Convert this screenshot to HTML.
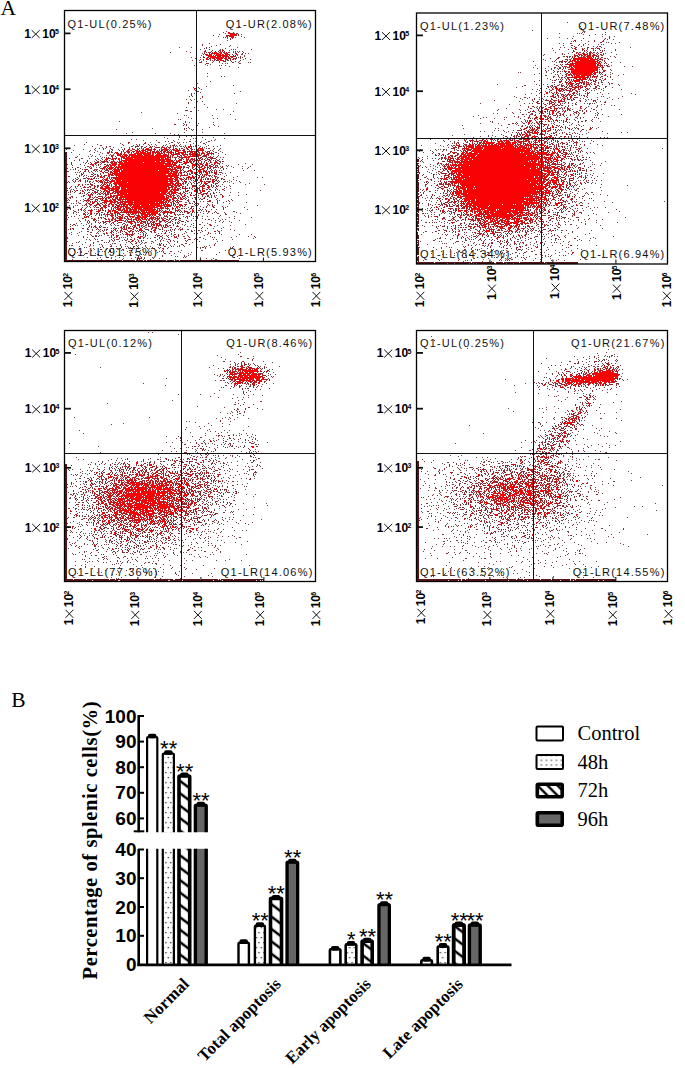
<!DOCTYPE html><html><head><meta charset="utf-8"><style>html,body{margin:0;padding:0;background:#fff;}svg{display:block;}</style></head><body><svg width="685" height="1068" viewBox="0 0 685 1068"><text x="0.6" y="14.7" font-family='"Liberation Serif", serif' font-size="21.5">A</text><text x="11.2" y="707.4" font-family='"Liberation Serif", serif' font-size="21.5">B</text><path d="M567 22h1m-329 4h1m340 0h1m0 2h1m-50 2h1m-307 1h1m-4 1h1m358 0h1m1 0h1m20 0h1m-381 1h1m333 0h1m17 0h1m1 0h1m1 0h1m-363 1h1m21 0h1m341 0h1m11 0h1m6 0h1m2 0h1m-393 1h1m375 0h1m-372 1h1m22 0h1m331 0h1m28 0h1m11 0h1m-392 1h1m1 0h1m9 0h1m8 0h1m314 0h1m-333 1h1m319 0h1m19 0h1m4 0h1m10 0h1m25 0h1m-3 1h1m5 0h1m-387 1h1m353 0h1m-11 1h1m1 0h1m14 0h1m17 1h1m1 0h1m10 0h1m-411 1h1m349 0h1m3 0h1m21 0h1m25 0h1m3 0h1m-396 1h1m367 0h1m9 0h1m2 0h1m1 0h1m-388 1h1m13 0h1m332 0h1m7 0h2m-362 1h1m17 0h1m351 0h1m11 0h1m5 0h1m-421 1h1m11 0h1m14 0h1m2 0h1m27 0h1m322 0h1m3 0h1m6 0h1m4 0h1m10 0h2m41 0h1m-427 1h1m1 0h1m18 0h1m326 0h1m19 0h1m11 0h1m6 0h1m3 0h1m8 0h1m-405 1h1m8 0h1m10 0h1m10 0h1m1 0h1m1 0h1m15 0h1m307 0h1m8 0h1m7 0h1m38 0h1m-404 1h1m16 0h1m323 0h1m28 0h1m12 0h1m4 0h1m3 0h1m10 0h1m-430 1h1m24 0h1m21 0h1m1 0h1m1 0h1m1 0h1m2 0h1m331 0h1m15 0h1m-421 1h1m19 0h1m15 0h1m26 0h1m4 0h1m316 0h1m16 0h1m7 0h1m13 0h1m16 0h1m-410 1h1m42 0h1m2 0h1m313 0h1m5 0h1m29 0h1m4 0h1m1 0h1m-403 1h1m37 0h2m301 0h1m17 0h1m1 0h1m51 0h1m-416 1h1m42 0h1m298 0h1m-300 1h1m318 0h2m5 0h1m39 0h1m-420 1h1m4 0h1m3 0h1m3 0h1m31 0h1m1 0h1m3 0h1m359 0h1m-408 1h1m44 0h1m4 0h1m304 0h1m56 0h1m-408 1h1m2 0h1m39 0h1m6 0h1m292 0h1m25 0h1m38 0h1m-417 1h1m6 0h1m3 0h1m6 0h1m17 0h1m11 0h1m304 0h1m56 0h1m-402 1h1m4 0h1m28 0h1m3 0h1m293 0h1m18 0h1m6 0h1m-361 1h1m12 0h1m6 0h1m28 0h1m1 0h1m305 0h1m2 0h1m1 0h2m2 0h1m45 0h1m8 0h1m-413 1h1m13 0h1m2 0h1m1 0h1m12 0h1m-36 1h1m4 0h1m330 0h1m12 0h1m7 0h1m2 0h1m42 0h1m-415 1h1m12 0h1m11 0h1m1 0h1m3 0h1m309 0h1m68 0h1m6 0h1m-383 1h1m318 0h1m75 0h1m7 0h1m-395 1h1m294 0h1m26 0h1m-341 1h1m316 0h1m7 0h1m8 0h1m2 0h1m2 0h1m4 0h1m33 1h1m10 0h1m-70 1h1m3 0h1m2 0h1m4 0h1m57 0h1m-66 1h1m7 0h1m2 0h2m1 0h1m1 0h1m36 0h1m-82 1h1m1 0h1m25 0h1m6 0h1m3 0h1m52 0h1m-404 1h1m331 0h1m11 0h1m8 0h1m51 0h1m-79 1h1m20 0h1m1 0h1m7 0h1m34 0h1m1 0h1m7 0h1m12 0h1m-79 1h2m11 0h1m3 0h1m34 0h1m20 0h1m-412 1h1m13 0h1m2 0h1m329 0h1m47 0h1m4 0h1m-47 1h2m-16 1h1m54 0h1m-53 1h1m5 0h1m1 0h1m3 0h1m8 0h1m20 0h1m6 0h2m11 0h1m-74 1h1m12 0h1m13 0h1m21 0h1m14 0h1m-394 1h1m323 0h1m30 0h1m-14 1h1m1 0h1m4 0h1m41 0h2m-406 1h1m364 0h1m48 0h2m-116 1h1m38 0h1m6 0h1m3 0h1m6 0h1m29 0h1m6 0h1m10 0h1m6 0h1m-414 1h1m36 0h1m305 0h1m11 0h2m44 0h2m-393 1h1m315 0h1m24 0h1m13 0h2m27 0h1m8 0h1m6 0h1m-414 1h1m4 0h1m317 0h1m95 0h1m-414 1h1m340 0h1m5 0h1m46 0h1m9 0h1m-403 1h1m330 0h1m4 0h1m11 0h1m46 0h1m4 0h1m19 0h1m-434 1h1m350 0h1m1 0h1m41 0h1m7 0h1m2 0h1m8 0h1m-407 1h2m41 0h1m295 0h1m8 0h1m3 0h1m29 0h1m5 0h1m-386 1h1m339 0h1m8 0h1m4 0h1m9 0h1m35 0h1m-410 1h1m2 0h1m39 0h1m296 0h1m7 0h1m20 0h1m18 0h1m5 0h1m11 0h1m10 0h1m22 0h1m-107 1h1m18 0h1m10 0h1m46 0h1m32 0h1m-100 1h1m44 0h1m1 0h2m-396 1h1m2 0h1m321 0h1m29 0h1m2 0h1m36 0h1m16 0h1m1 0h1m18 0h1m-107 1h1m12 0h1m9 0h1m20 0h1m36 0h1m11 0h1m-410 1h1m319 0h1m6 0h1m28 0h1m23 0h1m2 0h1m23 0h1m10 0h1m-433 1h1m3 0h1m3 0h1m327 0h1m9 0h1m6 0h1m6 0h1m5 0h1m21 0h1m10 0h1m2 0h1m2 0h1m5 0h1m14 0h1m-422 1h1m302 0h1m50 0h1m25 0h2m6 0h1m6 0h1m-390 1h1m4 0h1m316 0h1m18 0h1m3 0h1m42 0h1m14 0h1m4 0h1m-30 1h1m19 0h1m-361 1h1m243 0h1m43 0h1m4 0h1m2 0h1m10 0h1m3 0h1m14 0h1m9 0h1m2 0h1m8 0h1m2 0h1m1 0h2m1 0h1m1 0h1m-391 1h1m304 0h1m39 0h1m25 0h2m12 0h1m11 0h1m2 0h1m-85 1h1m25 0h1m15 0h1m5 0h1m3 0h1m24 0h1m13 0h1m2 0h1m-70 1h1m22 0h1m19 0h1m-403 1h1m7 0h1m12 0h1m326 0h1m23 0h1m2 0h1m5 0h1m18 0h1m-81 1h1m35 0h1m16 0h2m9 0h1m20 0h1m-376 1h1m6 0h1m274 0h1m20 0h1m7 0h1m13 0h1m30 0h1m20 0h2m6 0h1m17 0h1m-435 1h1m12 0h1m298 0h1m22 0h1m4 0h1m41 0h1m2 0h1m8 0h2m15 0h1m-364 1h1m296 0h1m42 0h1m16 0h1m-450 1h1m378 0h1m14 0h1m4 0h1m4 0h1m51 0h1m-421 1h1m315 0h1m3 0h1m33 0h2m6 0h1m7 0h1m25 0h1m9 0h1m11 0h1m2 0h1m-369 1h1m295 0h1m5 0h1m17 0h1m23 0h1m27 0h1m18 0h1m-438 1h1m1 0h1m25 0h1m265 0h1m64 0h1m15 0h1m6 0h1m28 0h1m-123 1h1m40 0h1m9 0h1m39 0h1m43 0h1m-421 1h1m294 0h1m2 0h1m17 0h1m1 0h1m52 0h1m7 0h1m7 0h1m4 0h1m2 0h1m10 0h1m1 0h1m-406 1h1m21 0h1m3 0h1m262 0h1m13 0h1m25 0h1m7 0h1m1 0h1m1 0h1m6 0h1m37 0h1m2 0h1m17 0h1m-421 1h1m1 0h1m54 0h1m268 0h1m19 0h1m31 0h1m12 0h1m4 0h1m17 0h1m-38 1h1m3 0h1m1 0h1m13 0h1m10 0h1m4 0h1m-473 1h1m65 0h1m304 0h1m1 0h1m28 0h1m20 0h1m2 0h1m5 0h1m13 0h1m12 0h1m2 0h2m9 0h1m7 0h1m-416 1h1m3 0h1m23 0h1m278 0h1m33 0h1m5 0h1m21 0h1m4 0h1m3 0h1m3 0h1m1 0h1m8 0h1m-396 1h1m14 0h1m281 0h1m17 0h1m16 0h1m8 0h1m6 0h1m2 0h1m5 0h1m1 0h1m8 0h1m1 0h1m18 0h1m-389 1h1m28 0h1m302 0h1m29 0h1m7 0h1m8 0h1m7 0h1m-389 1h1m13 0h1m16 0h1m247 0h1m38 0h1m16 0h1m3 0h1m2 0h1m4 0h1m1 0h1m1 0h1m24 0h1m9 0h1m6 0h1m6 0h1m-366 1h1m302 0h2m20 0h1m14 0h1m22 0h1m-394 1h1m20 0h1m297 0h1m42 0h1m4 0h2m5 0h1m4 0h1m6 0h1m1 0h1m13 0h1m1 0h1m5 0h1m-447 1h1m33 0h1m2 0h1m273 0h1m31 0h1m2 0h1m46 0h1m19 0h1m6 0h1m2 0h1m1 0h1m18 0h1m-481 1h1m74 0h1m1 0h1m8 0h1m320 0h1m17 0h1m11 0h1m1 0h1m2 0h1m1 0h1m10 0h1m17 0h1m-404 1h1m5 0h1m301 0h1m3 0h1m4 0h1m9 0h1m3 0h1m37 0h1m3 0h1m1 0h1m11 0h1m12 0h1m-107 1h1m3 0h1m19 0h1m3 0h1m15 0h1m77 0h1m-471 1h1m51 0h1m17 0h1m289 0h1m13 0h1m5 0h1m51 0h1m4 0h1m18 0h1m32 0h1m5 0h1m-502 1h1m28 0h1m14 0h1m53 0h1m322 0h1m11 0h1m6 0h1m5 0h1m4 0h1m8 0h1m20 0h1m-434 1h1m3 0h1m285 0h1m36 0h1m37 0h2m8 0h1m19 0h1m9 0h1m2 0h1m-473 1h1m24 0h1m26 0h1m7 0h1m14 0h1m8 0h1m8 0h1m248 0h1m35 0h1m3 0h1m10 0h1m10 0h1m39 0h1m-369 1h1m4 0h1m288 0h1m7 0h1m6 0h1m9 0h1m7 0h1m27 0h1m32 0h1m1 0h1m-413 1h1m37 0h1m10 0h1m259 0h1m17 0h1m11 0h1m6 0h1m31 0h1m12 0h1m31 0h1m12 0h1m3 0h1m2 0h1m-441 1h1m25 0h1m1 0h1m28 0h1m243 0h1m12 0h1m20 0h1m39 0h1m12 0h1m7 0h1m3 0h1m1 0h1m8 0h1m-448 1h1m4 0h1m41 0h1m5 0h1m5 0h1m14 0h1m9 0h1m214 0h1m17 0h1m15 0h1m1 0h1m9 0h1m17 0h1m2 0h2m45 0h1m16 0h1m15 0h1m-435 1h1m12 0h1m16 0h1m37 0h1m2 0h1m228 0h1m14 0h1m34 0h1m1 0h1m83 0h1m11 0h1m-427 1h1m2 0h1m5 0h1m14 0h2m4 0h1m5 0h1m242 0h1m5 0h1m3 0h1m12 0h1m63 0h1m26 0h1m12 0h1m4 0h1m5 0h1m1 0h1m8 0h1m-508 1h1m63 0h1m20 0h2m4 0h1m5 0h1m2 0h1m13 0h1m5 0h1m342 0h1m7 0h1m11 0h1m-450 1h1m48 0h1m23 0h1m2 0h1m6 0h2m230 0h1m16 0h1m10 0h1m5 0h1m81 0h1m6 0h1m5 0h1m8 0h1m16 0h1m-507 1h1m12 0h1m45 0h1m7 0h1m3 0h1m10 0h1m13 0h1m24 0h1m242 0h1m100 0h2m11 0h1m17 0h1m16 0h1m-524 1h1m58 0h1m22 0h1m8 0h1m4 0h1m5 0h1m2 0h1m5 0h1m9 0h1m2 0h1m9 0h1m11 0h1m200 0h1m18 0h1m6 0h1m3 0h1m1 0h1m115 0h1m1 0h1m2 0h1m27 0h1m-511 1h1m16 0h2m20 0h2m9 0h1m3 0h1m5 0h1m22 0h1m1 0h1m5 0h1m9 0h1m1 0h1m4 0h1m5 0h1m6 0h1m3 0h1m225 0h1m19 0h1m97 0h1m5 0h1m11 0h1m-478 1h1m10 0h1m7 0h1m74 0h1m7 0h1m243 0h1m124 0h1m1 0h2m4 0h1m-483 1h1m5 0h1m100 0h1m7 0h1m5 0h1m230 0h1m115 0h1m19 0h1m74 0h1m-597 1h1m16 0h1m28 0h1m5 0h1m3 0h1m71 0h1m18 0h1m5 0h1m200 0h1m14 0h1m2 0h1m1 0h1m2 0h2m1 0h1m9 0h1m-384 1h1m16 0h1m4 0h1m16 0h1m6 0h1m90 0h1m7 0h1m211 0h1m5 0h1m9 0h1m7 0h1m2 0h2m107 0h1m-478 1h1m7 0h1m13 0h1m93 0h1m14 0h1m198 0h1m12 0h1m142 0h1m6 0h1m-512 1h1m22 0h1m5 0h1m10 0h2m74 0h1m27 0h2m5 0h1m200 0h1m149 0h1m1 0h1m4 0h1m9 0h1m2 0h1m-492 1h1m115 0h1m239 0h1m110 0h1m8 0h1m15 0h1m-516 1h1m10 0h1m8 0h1m113 0h1m11 0h1m221 0h2m119 0h1m1 0h1m-479 1h1m13 0h1m2 0h1m108 0h1m217 0h1m118 0h1m4 0h1m21 0h1m-495 1h1m2 0h1m3 0h1m4 0h1m14 0h1m311 0h1m139 0h1m3 0h1m7 0h1m-505 1h1m26 0h1m1 0h1m3 0h1m7 0h1m103 0h1m2 0h1m194 0h1m3 0h1m18 0h2m131 0h1m11 0h1m2 0h1m-521 1h1m11 0h2m6 0h1m7 0h1m3 0h1m317 0h1m7 0h1m4 0h1m2 0h1m6 0h1m123 0h1m1 0h1m-490 1h1m15 0h1m2 0h1m3 0h1m116 0h1m2 0h1m199 0h1m141 0h1m15 0h1m2 0h1m1 0h2m-513 1h1m4 0h1m29 0h1m323 0h1m138 0h1m1 0h1m6 0h2m7 0h1m-497 1h1m3 0h1m84 0h1m36 0h1m201 0h1m21 0h1m125 0h1m34 0h1m-523 1h1m2 0h1m21 0h1m95 0h1m15 0h1m202 0h1m135 0h1m3 0h1m28 0h1m-508 1h1m2 0h1m120 0h1m12 0h1m22 0h1m191 0h1m8 0h1m133 0h1m20 0h1m-535 1h1m3 0h1m8 0h1m100 0h2m36 0h1m18 0h1m13 0h1m177 0h1m6 0h1m141 0h2m11 0h1m1 0h1m-523 1h1m11 0h1m11 0h1m90 0h2m37 0h1m1 0h1m191 0h1m12 0h1m5 0h1m137 0h1m6 0h1m15 0h1m-514 1h1m12 0h1m126 0h1m3 0h1m10 0h1m7 0h1m168 0h1m5 0h1m4 0h1m4 0h1m140 0h1m7 0h1m5 0h1m-519 1h1m4 0h2m6 0h1m10 0h1m2 0h1m118 0h1m14 0h1m14 0h1m173 0h1m3 0h1m10 0h1m2 0h1m131 0h1m15 0h1m-522 1h1m12 0h1m107 0h1m24 0h1m6 0h1m5 0h1m15 0h1m4 0h1m185 0h1m139 0h1m20 0h1m-525 1h1m2 0h1m8 0h1m132 0h1m212 0h1m6 0h1m4 0h1m130 0h1m14 0h1m-509 1h1m14 0h1m5 0h1m112 0h1m6 0h1m1 0h1m21 0h1m10 0h1m177 0h1m146 0h2m3 0h1m-518 1h2m11 0h1m10 0h1m104 0h1m230 0h1m135 0h1m2 0h1m-492 1h1m1 0h1m1 0h1m9 0h1m93 0h2m18 0h1m7 0h2m6 0h1m10 0h1m198 0h1m6 0h1m125 0h1m14 0h1m-478 1h1m88 0h1m32 0h1m2 0h1m205 0h1m6 0h1m136 0h1m3 0h1m5 0h2m6 0h1m9 0h1m-528 1h1m14 0h1m97 0h2m27 0h1m1 0h1m213 0h1m1 0h1m2 0h1m121 0h1m13 0h1m1 0h1m1 0h1m10 0h1m-512 1h1m4 0h1m1 0h1m11 0h1m7 0h1m103 0h1m1 0h1m13 0h1m336 0h1m4 0h1m12 0h1m3 0h1m1 0h1m4 0h1m-514 1h1m3 0h1m4 0h1m8 0h2m97 0h1m12 0h1m1 0h1m12 0h1m12 0h1m188 0h1m14 0h1m126 0h1m6 0h1m21 0h1m-521 1h1m8 0h1m96 0h1m22 0h1m5 0h1m5 0h1m14 0h1m23 0h1m4 0h1m174 0h1m111 0h1m33 0h1m2 0h1m4 0h1m-517 1h1m2 0h1m4 0h1m12 0h1m1 0h1m328 0h1m6 0h1m3 0h1m138 0h1m16 0h1m-522 1h1m6 0h1m116 0h1m5 0h1m29 0h1m186 0h1m7 0h1m-232 1h1m31 0h1m6 0h1m194 0h1m146 0h1m1 0h1m2 0h1m4 0h1m3 0h1m3 0h1m4 0h1m-534 1h1m20 0h2m2 0h1m95 0h1m20 0h1m16 0h1m3 0h1m7 0h1m194 0h1m3 0h1m5 0h1m1 0h1m117 0h1m1 0h1m9 0h1m-510 1h1m1 0h1m4 0h1m10 0h1m3 0h1m2 0h1m5 0h1m87 0h1m6 0h1m29 0h1m5 0h1m10 0h1m183 0h1m3 0h1m144 0h1m13 0h2m3 0h1m-499 1h1m93 0h1m5 0h1m20 0h1m17 0h1m15 0h1m184 0h1m156 0h1m3 0h1m-511 1h1m1 0h2m94 0h1m16 0h1m14 0h1m6 0h1m22 0h1m18 0h1m174 0h1m111 0h1m29 0h1m19 0h1m-505 1h2m100 0h1m13 0h1m2 0h1m1 0h1m10 0h1m201 0h1m195 0h1m-551 1h1m2 0h1m17 0h1m121 0h1m3 0h1m5 0h1m194 0h1m24 0h1m128 0h1m-497 1h1m3 0h1m92 0h1m8 0h1m25 0h1m10 0h1m208 0h1m17 0h1m146 0h1m-534 1h1m1 0h1m6 0h1m4 0h1m107 0h1m1 0h1m32 0h1m5 0h1m206 0h2m10 0h1m3 0h1m124 0h1m5 0h1m-514 1h1m1 0h1m10 0h1m2 0h2m91 0h1m11 0h1m17 0h1m4 0h1m204 0h1m2 0h1m23 0h1m3 0h1m113 0h1m5 0h1m2 0h1m7 0h1m-516 1h1m12 0h1m4 0h1m1 0h1m1 0h1m8 0h1m112 0h1m3 0h1m3 0h1m4 0h1m35 0h1m161 0h1m12 0h1m1 0h1m117 0h1m10 0h1m8 0h2m24 0h1m-530 1h1m351 0h1m4 0h2m139 0h1m7 0h1m-511 1h1m1 0h1m3 0h1m114 0h1m26 0h1m2 0h1m10 0h1m7 0h1m181 0h1m14 0h1m130 0h1m5 0h1m18 0h2m-514 1h1m2 0h1m4 0h1m99 0h1m22 0h1m3 0h1m225 0h1m4 0h1m124 0h1m6 0h1m7 0h1m-518 1h1m1 0h1m15 0h1m10 0h1m1 0h2m95 0h1m49 0h1m171 0h1m143 0h1m25 0h1m4 0h1m6 0h1m-518 1h2m108 0h1m4 0h1m15 0h1m1 0h1m12 0h1m8 0h1m187 0h1m7 0h1m8 0h2m106 0h1m32 0h1m22 0h1m-527 1h1m1 0h1m103 0h1m14 0h1m216 0h1m19 0h1m5 0h1m2 0h1m99 0h1m10 0h1m12 0h1m-504 1h1m6 0h1m111 0h1m9 0h1m223 0h1m4 0h1m9 0h1m141 0h1m-513 1h1m2 0h1m14 0h1m100 0h1m5 0h1m232 0h1m4 0h1m1 0h1m3 0h1m3 0h1m109 0h1m7 0h1m23 0h1m6 0h1m1 0h1m-524 1h1m14 0h1m86 0h1m17 0h1m10 0h1m7 0h1m23 0h1m210 0h1m133 0h1m-510 1h1m1 0h1m10 0h1m106 0h1m31 0h1m12 0h1m193 0h1m2 0h1m7 0h1m113 0h1m3 0h1m2 0h1m25 0h1m8 0h1m-511 1h1m15 0h1m93 0h2m5 0h1m2 0h1m22 0h1m204 0h1m19 0h2m119 0h1m1 0h1m1 0h1m27 0h1m59 0h1m-598 1h2m21 0h1m94 0h2m25 0h1m10 0h1m22 0h1m189 0h1m21 0h1m106 0h1m6 0h1m2 0h1m36 0h1m-542 1h1m1 0h1m2 0h1m3 0h1m109 0h1m1 0h1m14 0h1m21 0h1m192 0h1m5 0h1m28 0h1m121 0h1m2 0h1m5 0h1m-391 1h1m231 0h1m4 0h1m-367 1h1m5 0h1m1 0h1m4 0h1m114 0h1m16 0h1m42 0h1m174 0h1m118 0h1m1 0h1m19 0h1m8 0h1m-494 1h1m3 0h1m80 0h1m7 0h1m17 0h1m26 0h1m211 0h1m108 0h1m17 0h1m4 0h2m15 0h1m-507 1h1m7 0h1m7 0h1m89 0h1m7 0h1m6 0h1m10 0h1m10 0h1m18 0h1m186 0h1m2 0h1m8 0h1m113 0h1m11 0h1m16 0h1m7 0h1m2 0h1m7 0h1m-537 1h1m111 0h2m1 0h1m1 0h1m12 0h1m222 0h1m4 0h1m2 0h1m10 0h1m19 0h1m108 0h1m4 0h1m1 0h1m4 0h1m7 0h1m-524 1h1m10 0h1m15 0h1m1 0h1m92 0h1m10 0h1m1 0h1m2 0h1m5 0h1m4 0h1m30 0h1m173 0h1m3 0h1m6 0h1m3 0h1m93 0h1m18 0h1m6 0h1m15 0h1m43 0h1m-544 1h1m4 0h1m4 0h1m117 0h1m225 0h1m1 0h1m2 0h1m119 0h1m6 0h1m5 0h1m7 0h1m9 0h1m8 0h1m-403 1h1m12 0h1m11 0h1m17 0h2m187 0h1m24 0h1m20 0h1m94 0h1m10 0h1m44 0h1m-552 1h1m7 0h1m1 0h1m8 0h1m13 0h2m57 0h1m19 0h1m1 0h1m11 0h1m2 0h1m2 0h1m7 0h1m5 0h1m21 0h1m194 0h1m2 0h1m18 0h1m9 0h1m8 0h1m80 0h1m1 0h1m2 0h1m2 0h2m16 0h1m28 0h1m-526 1h1m4 0h1m5 0h1m9 0h1m86 0h1m11 0h1m3 0h1m4 0h1m5 0h1m21 0h1m184 0h1m1 0h1m13 0h1m7 0h1m14 0h1m74 0h1m7 0h1m24 0h1m20 0h1m-518 1h1m10 0h1m8 0h1m6 0h1m73 0h1m2 0h1m15 0h1m28 0h2m204 0h1m2 0h1m15 0h1m3 0h1m98 0h1m12 0h1m29 0h1m-530 1h1m11 0h1m15 0h1m68 0h1m4 0h1m50 0h1m203 0h1m3 0h1m130 0h1m28 0h1m-518 1h1m2 0h1m16 0h1m13 0h1m1 0h1m64 0h1m10 0h1m5 0h1m3 0h1m1 0h1m6 0h1m4 0h1m11 0h1m14 0h1m190 0h1m5 0h1m17 0h1m19 0h1m59 0h1m23 0h1m7 0h1m10 0h1m-505 1h1m29 0h1m4 0h1m57 0h1m14 0h1m2 0h1m5 0h1m43 0h1m21 0h1m192 0h1m78 0h1m32 0h1m21 0h1m46 0h1m-548 1h1m12 0h1m6 0h1m2 0h1m78 0h1m6 0h1m5 0h1m3 0h1m4 0h1m10 0h1m4 0h1m15 0h1m225 0h1m87 0h1m10 0h1m1 0h1m2 0h1m3 0h1m-502 1h1m17 0h1m90 0h1m28 0h1m16 0h1m2 0h1m209 0h1m1 0h1m132 0h1m7 0h1m5 0h1m17 0h1m-524 1h1m5 0h1m10 0h1m1 0h1m76 0h1m15 0h1m3 0h1m15 0h1m3 0h1m4 0h1m18 0h1m181 0h1m10 0h1m17 0h1m4 0h1m2 0h1m2 0h1m3 0h1m83 0h2m6 0h1m1 0h1m13 0h1m4 0h1m17 0h1m-517 1h1m6 0h1m84 0h1m15 0h1m30 0h1m3 0h1m5 0h1m209 0h1m4 0h1m101 0h1m5 0h1m11 0h1m3 0h1m16 0h1m-499 1h1m7 0h1m4 0h1m25 0h1m11 0h1m46 0h1m16 0h1m12 0h1m6 0h1m8 0h1m193 0h2m2 0h1m2 0h1m1 0h1m1 0h1m4 0h1m5 0h1m29 0h1m70 0h1m16 0h1m15 0h1m14 0h1m20 0h1m-542 1h1m4 0h1m9 0h1m14 0h1m10 0h1m5 0h2m47 0h1m20 0h1m13 0h1m236 0h1m4 0h1m19 0h2m2 0h1m1 0h1m58 0h1m20 0h1m29 0h1m-516 1h1m15 0h1m4 0h1m13 0h1m16 0h1m59 0h1m8 0h1m7 0h2m8 0h1m35 0h1m220 0h1m4 0h1m66 0h1m3 0h1m7 0h1m14 0h1m19 0h1m-509 1h1m5 0h1m5 0h1m5 0h1m4 0h1m16 0h2m22 0h1m27 0h2m6 0h1m15 0h1m10 0h1m12 0h1m12 0h1m191 0h1m9 0h1m7 0h1m3 0h1m8 0h1m1 0h1m9 0h1m47 0h1m13 0h1m20 0h1m3 0h1m3 0h1m3 0h1m15 0h1m23 0h1m-531 1h1m59 0h1m10 0h1m26 0h1m9 0h1m8 0h1m2 0h1m23 0h1m209 0h1m13 0h1m5 0h1m6 0h1m71 0h1m7 0h2m5 0h1m18 0h1m-455 1h1m3 0h1m6 0h1m65 0h1m12 0h1m1 0h1m6 0h1m20 0h1m234 0h1m4 0h1m1 0h2m67 0h1m5 0h1m37 0h1m-468 1h1m1 0h1m2 0h1m1 0h1m77 0h1m4 0h1m5 0h1m5 0h1m7 0h1m215 0h1m9 0h1m3 0h1m21 0h1m39 0h1m7 0h1m5 0h1m10 0h1m9 0h1m28 0h1m24 0h1m-535 1h1m19 0h1m3 0h1m7 0h1m3 0h1m43 0h1m11 0h1m9 0h1m1 0h1m14 0h2m41 0h1m212 0h1m8 0h1m5 0h1m3 0h1m12 0h2m6 0h1m10 0h1m20 0h1m12 0h1m14 0h1m6 0h1m6 0h1m-466 1h1m11 0h1m1 0h1m28 0h1m12 0h1m15 0h1m3 0h1m5 0h1m5 0h1m13 0h1m6 0h1m3 0h1m11 0h1m3 0h1m12 0h1m227 0h1m7 0h1m26 0h1m4 0h1m17 0h1m14 0h2m5 0h1m12 0h1m5 0h2m3 0h1m24 0h1m-511 1h1m5 0h2m11 0h1m23 0h1m19 0h1m17 0h1m22 0h1m6 0h1m9 0h1m222 0h2m8 0h2m12 0h1m5 0h1m39 0h1m23 0h1m8 0h1m11 0h1m31 0h1m-502 1h1m7 0h1m33 0h1m4 0h1m10 0h1m15 0h1m5 0h1m17 0h1m4 0h1m11 0h1m13 0h1m222 0h1m8 0h1m11 0h1m7 0h1m2 0h1m8 0h1m1 0h1m5 0h1m11 0h1m18 0h1m8 0h1m2 0h1m3 0h1m14 0h1m5 0h1m1 0h1m18 0h1m10 0h1m-504 1h1m7 0h1m20 0h1m4 0h2m11 0h1m5 0h1m11 0h1m3 0h1m7 0h1m11 0h1m2 0h1m9 0h1m12 0h1m9 0h1m2 0h1m12 0h1m4 0h1m222 0h1m19 0h1m46 0h1m5 0h1m19 0h1m16 0h1m2 0h1m16 0h1m20 0h1m-519 1h1m15 0h1m16 0h1m15 0h1m2 0h1m16 0h1m30 0h1m10 0h1m24 0h1m13 0h1m17 0h1m11 0h1m169 0h1m20 0h1m2 0h1m9 0h1m8 0h1m8 0h1m36 0h1m17 0h1m8 0h1m1 0h1m3 0h1m2 0h1m38 0h1m-508 1h1m16 0h2m2 0h1m1 0h1m5 0h2m9 0h1m28 0h1m14 0h1m3 0h1m1 0h1m4 0h1m13 0h1m16 0h1m248 0h1m12 0h1m4 0h1m4 0h1m11 0h1m14 0h1m9 0h1m7 0h1m19 0h1m10 0h1m4 0h1m7 0h1m-471 1h2m1 0h1m28 0h1m29 0h1m9 0h1m3 0h1m11 0h2m25 0h1m25 0h1m11 0h1m220 0h1m3 0h1m8 0h1m4 0h2m16 0h1m1 0h1m8 0h1m8 0h1m16 0h1m1 0h1m6 0h1m25 0h1m35 0h1m-547 1h1m19 0h1m21 0h1m4 0h1m4 0h1m1 0h1m1 0h1m1 0h1m33 0h1m2 0h1m5 0h1m30 0h2m11 0h1m1 0h1m16 0h1m208 0h1m20 0h1m5 0h1m3 0h1m12 0h1m6 0h1m22 0h1m5 0h1m7 0h1m19 0h1m44 0h1m-527 1h1m45 0h1m29 0h1m3 0h1m2 0h1m8 0h1m2 0h1m1 0h1m12 0h1m25 0h1m49 0h1m183 0h1m1 0h2m4 0h1m6 0h1m4 0h1m3 0h1m13 0h1m27 0h1m11 0h1m4 0h1m4 0h1m18 0h1m11 0h1m33 0h1m4 0h1m-510 1h1m2 0h1m7 0h1m13 0h1m2 0h1m9 0h1m12 0h1m19 0h1m3 0h1m4 0h1m23 0h1m6 0h1m7 0h1m7 0h1m2 0h1m15 0h1m202 0h1m14 0h1m20 0h1m1 0h1m5 0h1m5 0h1m3 0h1m2 0h1m14 0h1m9 0h2m9 0h1m6 0h1m7 0h1m7 0h1m6 0h1m1 0h1m18 0h1m-490 1h1m10 0h2m11 0h1m7 0h1m2 0h2m16 0h1m11 0h1m7 0h1m9 0h1m48 0h1m210 0h2m30 0h2m11 0h1m2 0h1m2 0h1m6 0h1m2 0h1m9 0h1m6 0h1m9 0h1m3 0h1m29 0h1m21 0h1m3 0h1m7 0h1m-523 1h1m11 0h1m17 0h2m20 0h1m15 0h1m15 0h2m14 0h1m6 0h1m2 0h1m21 0h1m17 0h1m202 0h1m18 0h1m1 0h1m16 0h1m3 0h1m7 0h1m26 0h2m3 0h1m11 0h1m2 0h2m17 0h1m8 0h1m17 0h1m5 0h1m-494 1h1m1 0h1m6 0h1m18 0h1m1 0h1m1 0h1m17 0h1m12 0h1m2 0h1m3 0h1m6 0h1m23 0h1m14 0h1m262 0h1m8 0h1m9 0h1m24 0h1m4 0h1m3 0h1m11 0h1m9 0h1m5 0h1m5 0h1m8 0h1m2 0h1m1 0h1m11 0h1m-497 1h1m39 0h1m22 0h1m5 0h1m9 0h1m7 0h1m1 0h1m23 0h2m28 0h1m226 0h1m1 0h1m1 0h1m6 0h1m19 0h1m11 0h1m33 0h1m14 0h1m9 0h1m15 0h1m-479 1h1m16 0h1m1 0h1m23 0h1m6 0h1m7 0h1m16 0h1m8 0h1m7 0h1m6 0h1m7 0h1m237 0h1m34 0h1m13 0h1m2 0h1m20 0h1m9 0h1m3 0h1m1 0h1m2 0h1m10 0h1m6 0h1m6 0h1m23 0h1m-500 1h1m1 0h2m20 0h1m8 0h1m33 0h1m1 0h1m6 0h1m24 0h1m8 0h1m29 0h1m261 0h1m3 0h1m9 0h1m5 0h1m12 0h1m4 0h1m15 0h1m7 0h1m9 0h1m8 0h1m9 0h1m14 0h1m18 0h1m-518 1h1m9 0h1m26 0h1m8 0h1m1 0h1m6 0h1m2 0h1m7 0h1m4 0h1m20 0h1m1 0h1m3 0h1m1 0h1m4 0h1m21 0h1m239 0h1m16 0h1m20 0h1m2 0h1m11 0h1m10 0h1m8 0h1m2 0h1m12 0h1m-452 1h1m1 0h1m13 0h1m27 0h1m1 0h1m7 0h1m3 0h1m3 0h1m5 0h1m5 0h1m1 0h1m7 0h1m28 0h1m2 0h1m9 0h1m19 0h1m188 0h1m13 0h1m7 0h1m7 0h1m1 0h1m20 0h1m28 0h1m26 0h1m18 0h1m18 0h1m1 0h1m-500 1h1m9 0h1m13 0h1m26 0h1m5 0h1m4 0h1m2 0h1m2 0h2m8 0h1m3 0h1m2 0h1m4 0h1m7 0h1m32 0h1m4 0h1m235 0h1m39 0h1m5 0h1m23 0h1m14 0h1m4 0h1m45 0h1m-484 1h1m47 0h1m293 0h1m13 0h1m6 0h1m17 0h1m1 0h1m1 0h1m11 0h1m1 0h1m26 0h1m1 0h1m5 0h1m11 0h1m7 0h1m13 0h1m18 0h1m-508 1h1m16 0h1m29 0h1m1 0h1m5 0h1m10 0h1m10 0h1m4 0h1m24 0h1m19 0h2m22 0h1m251 0h1m14 0h1m3 0h1m6 0h1m13 0h1m3 0h1m12 0h1m11 0h1m8 0h1m15 0h1m-491 1h1m6 0h1m10 0h1m2 0h1m1 0h1m11 0h1m10 0h1m31 0h1m1 0h1m16 0h1m262 0h1m17 0h1m11 0h1m8 0h1m13 0h1m3 0h1m1 0h1m7 0h1m17 0h1m4 0h2m32 0h1m-489 1h1m3 0h1m26 0h1m20 0h1m2 0h1m2 0h1m10 0h1m1 0h1m8 0h1m22 0h1m10 0h1m27 0h1m236 0h1m30 0h1m14 0h1m3 0h1m8 0h2m27 0h1m14 0h1m-465 1h1m17 0h1m9 0h1m45 0h1m4 0h1m13 0h1m242 0h1m22 0h1m27 0h1m2 0h1m18 0h1m7 0h1m6 0h1m3 0h1m31 0h1m12 0h1m-499 1h1m3 0h1m9 0h1m12 0h2m42 0h1m1 0h1m46 0h1m5 0h1m19 0h1m16 0h1m208 0h1m3 0h1m22 0h1m40 0h1m24 0h2m3 0h1m7 0h1m22 0h1m41 0h1m24 0h1m-566 1h1m9 0h1m11 0h1m26 0h1m39 0h1m8 0h1m12 0h1m3 0h1m265 0h1m7 0h1m2 0h1m28 0h1m11 0h1m10 0h1m5 0h1m18 0h1m2 0h1m5 0h1m7 0h1m3 0h1m1 0h1m-451 1h1m7 0h1m38 0h1m12 0h1m1 0h1m8 0h1m50 0h1m264 0h1m14 0h1m11 0h1m15 0h1m2 0h1m1 0h1m-464 1h1m12 0h1m7 0h1m2 0h1m7 0h1m15 0h1m8 0h1m7 0h1m30 0h1m50 0h1m218 0h1m12 0h1m10 0h1m16 0h1m1 0h1m4 0h1m9 0h1m3 0h1m5 0h1m1 0h1m2 0h1m15 0h1m59 0h1m-506 1h1m13 0h1m19 0h1m12 0h1m8 0h1m5 0h1m46 0h1m6 0h1m25 0h1m196 0h1m36 0h2m13 0h1m16 0h1m29 0h1m14 0h1m-479 1h1m28 0h1m13 0h1m21 0h1m5 0h1m6 0h1m24 0h1m35 0h1m3 0h2m221 0h1m2 0h1m29 0h1m11 0h1m28 0h1m27 0h1m17 0h1m21 0h1m-405 1h1m246 0h1m15 0h1m18 0h1m6 0h1m1 0h1m3 0h1m27 0h1m1 0h1m3 0h1m1 0h1m1 0h1m12 0h1m10 0h1m17 0h1m4 0h1m7 0h1m-102 1h1m18 0h1m8 0h1m48 0h1m13 1h1m-407 70h1m3 0h1m25 2h1m252 2h1m2 4h1m32 8h1m140 1h1m-369 3h1m365 0h1m-10 1h1m-523 1h1m162 0h1m375 0h1m-398 1h1m380 0h1m6 0h1m5 0h2m-360 1h1m320 0h1m14 0h1m14 0h1m2 0h1m3 0h1m2 0h1m2 0h1m-397 1h1m361 0h1m14 0h1m-352 1h2m297 0h1m42 0h1m6 0h1m-372 1h1m351 0h1m8 0h1m11 0h1m4 0h2m1 0h1m9 0h1m-365 1h1m349 0h1m1 0h1m3 0h1m6 0h1m-393 1h2m5 0h1m32 0h1m305 0h2m7 0h1m3 0h1m6 0h1m6 0h1m4 0h1m-330 1h1m288 0h1m24 0h1m7 0h1m10 0h1m-368 1h1m9 0h1m4 0h1m287 0h1m35 0h1m24 0h1m8 0h1m3 0h1m-386 1h1m6 0h1m8 0h1m3 0h1m14 0h1m301 0h1m15 0h1m4 0h1m6 0h1m2 0h1m-386 1h1m43 0h1m293 0h1m3 0h1m4 0h1m30 0h1m28 0h1m-384 1h2m21 0h1m18 0h1m253 0h1m39 0h1m8 0h1m10 0h1m3 0h2m2 0h1m-502 1h1m108 0h1m19 0h1m36 0h1m281 0h1m30 0h1m4 0h1m1 0h1m26 0h1m-396 1h1m4 0h1m38 0h1m1 0h1m305 0h1m4 0h1m5 0h1m-353 1h1m39 0h1m2 0h1m276 0h1m11 0h1m15 0h1m8 0h1m2 0h1m29 0h1m2 0h1m-59 1h1m22 0h1m-324 1h1m273 0h1m17 0h1m20 0h1m4 0h1m1 0h1m7 0h1m-327 1h1m6 0h1m296 0h1m3 0h1m-307 1h1m277 0h1m5 0h1m13 0h1m5 0h1m49 0h1m-409 1h1m7 0h1m47 0h1m4 0h1m276 0h1m-336 1h1m6 0h1m43 0h1m288 0h1m-339 1h1m3 0h1m42 0h1m4 0h1m284 0h1m64 0h1m-78 1h1m1 0h1m-381 1h1m59 0h1m322 0h1m5 0h1m64 0h1m-116 1h1m44 0h1m71 0h1m4 0h1m-413 1h1m7 0h2m44 0h1m273 0h1m9 0h1m69 0h1m-399 2h1m1 0h1m4 0h1m31 0h1m269 0h1m11 0h1m-404 1h1m84 0h1m2 0h1m16 0h1m17 0h1m6 0h1m251 0h1m10 0h1m4 0h2m75 0h1m-373 1h1m1 0h1m7 0h1m5 0h1m355 0h1m-454 1h1m59 0h2m12 0h1m1 0h1m16 0h1m255 0h1m22 0h1m57 0h1m-365 1h1m8 0h1m5 0h1m2 0h2m10 0h1m285 0h1m7 0h2m24 0h1m1 0h1m11 0h1m23 0h1m-399 1h1m1 0h1m9 0h1m318 0h1m14 0h2m24 0h1m10 0h1m11 0h1m-387 1h1m14 0h1m1 0h2m20 0h1m277 0h1m22 0h1m19 0h1m8 0h1m-345 1h1m4 0h1m278 0h1m9 0h1m4 0h1m25 0h1m3 0h1m11 0h1m10 0h1m-389 1h1m28 0h1m329 0h1m2 0h1m20 0h1m-360 1h1m6 0h1m306 0h1m10 0h1m13 0h1m-337 1h1m268 0h1m52 0h1m38 0h1m-394 1h1m323 0h1m35 0h1m2 0h1m5 0h1m6 0h1m-413 1h1m21 0h1m32 0h1m10 0h1m8 0h1m332 0h1m29 0h1m-369 1h1m13 0h1m285 0h1m9 0h1m24 0h1m9 0h1m-384 1h1m343 0h1m1 0h1m38 0h1m-378 1h1m18 0h1m5 0h1m4 0h1m318 0h1m11 0h1m-348 1h1m9 1h1m322 0h1m11 0h1m7 0h1m7 0h1m-422 1h1m65 0h1m319 0h1m2 1h1m59 0h1m-387 1h1m8 0h1m335 0h1m4 0h1m7 0h1m19 0h1m-507 1h1m130 0h1m4 1h1m9 0h1m346 0h1m-361 1h1m345 0h1m4 0h1m-395 1h1m356 0h1m32 0h1m1 0h1m-366 1h1m321 0h1m35 0h1m1 0h1m14 0h1m-343 1h1m250 0h1m30 0h1m2 0h1m15 0h1m26 0h1m-352 1h1m3 0h1m23 0h1m283 0h1m73 0h1m-54 1h1m3 0h1m5 0h1m18 0h1m-366 1h1m7 0h1m4 0h1m268 0h1m54 0h1m-349 1h1m11 0h1m4 0h1m6 0h1m298 0h1m11 0h1m9 0h1m21 0h1m28 0h1m-390 1h1m2 0h1m8 0h2m328 0h1m1 0h1m28 0h1m3 0h1m-368 1h1m329 0h1m1 0h1m17 0h1m-407 1h1m50 0h1m10 0h1m337 0h1m-508 2h1m74 0h1m75 0h1m3 0h1m7 0h1m304 0h1m11 0h1m6 0h2m1 0h1m17 0h1m-367 1h1m5 0h1m7 0h1m17 0h1m304 0h1m11 0h1m16 0h1m33 0h1m-389 1h1m5 0h1m319 0h1m7 0h1m18 1h1m2 0h1m36 0h1m-436 1h1m2 0h1m40 0h1m331 0h1m-368 1h1m336 0h1m13 0h1m-424 1h1m84 0h1m13 0h1m317 0h1m13 0h1m23 0h1m-468 1h1m117 0h1m310 0h1m35 0h1m2 0h1m-369 1h1m257 0h1m72 0h1m12 0h1m36 0h1m-394 1h1m4 0h1m17 0h1m25 0h1m292 0h1m13 0h2m19 0h1m-391 1h1m348 0h1m-336 1h1m337 0h1m33 0h1m23 0h1m4 0h1m-417 1h1m23 0h1m349 0h1m23 0h1m-505 1h1m127 0h1m16 0h1m4 0h1m13 0h1m296 0h1m3 0h1m10 0h1m11 0h1m31 0h1m-390 1h1m4 0h1m334 0h1m1 0h1m25 0h1m30 0h1m-420 1h1m30 0h1m5 0h1m317 0h1m11 0h1m14 0h1m21 0h1m20 0h1m-533 1h1m121 0h1m12 0h1m20 0h1m6 0h1m236 0h1m67 0h1m16 0h1m1 0h1m26 0h1m18 0h1m-436 1h1m59 0h1m10 0h1m292 0h1m3 0h1m27 0h1m-373 1h1m10 0h1m4 0h1m14 0h1m2 0h1m7 0h1m7 0h1m284 0h1m30 0h1m3 0h1m24 0h1m-435 1h1m11 0h1m13 0h1m25 0h1m3 0h1m1 0h1m26 0h1m289 0h1m3 0h1m24 0h1m33 0h1m2 0h1m-428 1h1m48 0h1m19 0h1m3 0h1m288 0h1m4 0h1m1 0h1m-374 1h1m3 0h1m32 0h1m9 0h1m5 0h2m2 0h1m6 0h1m302 0h1m29 0h1m9 0h1m-385 1h1m9 0h1m8 0h1m8 0h1m6 0h1m3 0h1m6 0h1m6 0h1m334 0h1m-408 1h1m6 0h1m7 0h1m8 0h1m8 0h1m2 0h1m6 0h1m7 0h1m13 0h1m2 0h1m8 0h1m267 0h1m10 0h1m38 0h1m-373 1h1m10 0h1m10 0h2m11 0h1m13 0h1m281 0h1m7 0h1m8 0h1m2 0h1m65 0h1m-455 1h1m5 0h1m9 0h1m7 0h1m32 0h1m18 0h1m2 0h1m3 0h1m4 0h1m12 0h1m253 0h1m9 0h1m3 0h1m3 0h1m1 0h1m8 0h1m12 0h1m-495 1h1m131 0h2m5 0h1m3 0h1m12 0h1m3 0h2m2 0h1m221 0h1m91 0h2m7 0h1m2 0h1m8 0h1m37 0h1m-402 1h1m8 0h1m6 0h1m2 0h1m3 0h1m26 0h2m1 0h1m288 0h1m28 0h1m7 0h1m13 0h1m-382 1h1m14 0h1m11 0h1m346 0h1m17 0h1m5 0h1m-518 1h1m71 0h1m21 0h1m5 0h1m3 0h1m3 0h1m16 0h1m5 0h1m1 0h2m3 0h1m3 0h1m3 0h1m303 0h1m13 0h1m24 0h1m14 0h1m-422 1h1m4 0h1m1 0h1m20 0h1m7 0h1m7 0h1m1 0h1m10 0h1m4 0h1m277 0h1m24 0h1m7 0h1m12 0h2m19 0h1m20 0h1m-436 1h1m5 0h1m11 0h1m4 0h1m36 0h1m324 0h1m1 0h1m7 0h1m13 0h1m-389 1h1m9 0h1m49 0h1m276 0h1m21 0h1m2 0h1m13 0h1m-410 1h1m23 0h1m9 0h1m5 0h1m1 0h1m3 0h1m6 0h1m34 0h1m264 0h1m13 0h2m22 0h1m4 0h1m24 0h1m11 0h1m-425 1h1m4 0h1m18 0h1m15 0h1m1 0h1m27 0h1m7 0h1m3 0h1m1 0h1m2 0h1m281 0h1m3 0h1m27 0h1m11 0h1m15 0h1m-501 1h1m96 0h1m9 0h1m38 0h1m9 0h1m279 0h1m8 0h1m20 0h1m5 0h1m32 0h2m-446 1h1m14 0h1m14 0h1m1 0h1m1 0h1m5 0h1m18 0h1m7 0h1m5 0h1m256 0h1m3 0h1m31 0h1m6 0h1m3 0h1m1 0h1m27 0h1m47 0h1m-459 1h1m28 0h1m1 0h1m15 0h1m2 0h1m44 0h1m276 0h1m3 0h1m10 0h1m10 0h1m4 0h1m10 0h1m-392 1h1m9 0h1m21 0h1m1 0h1m2 0h1m4 0h1m6 0h1m1 0h1m4 0h1m12 0h1m3 0h1m195 0h1m10 0h1m76 0h1m16 0h1m7 0h1m-371 1h2m23 0h1m13 0h1m6 0h1m218 0h1m63 0h1m30 0h1m9 0h1m6 0h1m17 0h1m-513 1h1m83 0h1m29 0h1m9 0h1m1 0h1m2 0h1m9 0h1m10 0h1m8 0h1m17 0h1m1 0h1m220 0h1m5 0h1m4 0h1m30 0h1m12 0h1m26 0h1m49 0h1m-492 1h1m3 0h1m28 0h1m14 0h1m9 0h1m35 0h1m7 0h1m5 0h1m269 0h1m22 0h1m10 0h1m22 0h1m23 0h1m-499 1h1m4 0h1m27 0h1m13 0h1m17 0h1m4 0h1m8 0h2m1 0h1m7 0h1m3 0h1m10 0h1m12 0h1m8 0h2m2 0h1m5 0h1m26 0h1m13 0h1m165 0h1m36 0h1m23 0h1m6 0h1m20 0h1m5 0h1m7 0h1m14 0h1m13 0h1m13 0h1m3 0h1m6 0h1m3 0h1m11 0h1m-488 1h1m7 0h1m5 0h1m45 0h1m1 0h1m1 0h1m23 0h1m13 0h1m5 0h1m33 0h1m3 0h1m178 0h1m31 0h1m1 0h1m18 0h1m37 0h1m20 0h2m29 0h1m39 0h1m-519 1h1m3 0h1m26 0h1m11 0h1m8 0h1m3 0h1m8 0h2m14 0h2m1 0h1m9 0h1m44 0h1m186 0h1m56 0h1m2 0h1m12 0h1m3 0h2m6 0h1m18 0h1m8 0h1m13 0h1m6 0h1m9 0h1m-478 1h1m10 0h1m12 0h1m31 0h1m2 0h1m44 0h1m7 0h1m12 0h1m10 0h1m3 0h1m19 0h2m7 0h1m170 0h1m15 0h2m4 0h1m29 0h2m6 0h1m1 0h1m11 0h1m1 0h1m3 0h1m4 0h1m12 0h1m3 0h2m15 0h1m11 0h1m-468 1h1m5 0h1m3 0h1m6 0h1m8 0h1m1 0h1m3 0h1m32 0h1m18 0h1m31 0h1m2 0h1m5 0h1m3 0h1m22 0h1m194 0h1m13 0h1m3 0h1m19 0h1m43 0h1m13 0h1m4 0h1m8 0h1m2 0h1m20 0h1m16 0h1m-506 1h1m1 0h1m4 0h1m3 0h1m4 0h1m12 0h1m2 0h1m2 0h1m29 0h1m7 0h1m5 0h1m43 0h1m3 0h1m10 0h1m217 0h1m11 0h1m5 0h1m6 0h1m16 0h1m2 0h1m32 0h1m7 0h1m6 0h1m3 0h1m15 0h1m9 0h1m11 0h1m-509 1h1m66 0h1m17 0h1m6 0h1m14 0h1m9 0h1m4 0h2m13 0h1m14 0h1m4 0h1m8 0h1m21 0h1m198 0h1m1 0h1m3 0h1m19 0h1m23 0h1m8 0h1m1 0h2m8 0h1m2 0h1m18 0h1m20 0h1m18 0h1m6 0h1m-502 1h1m14 0h1m41 0h1m5 0h1m22 0h1m18 0h1m18 0h1m23 0h1m6 0h1m3 0h1m3 0h1m188 0h1m2 0h1m44 0h1m2 0h1m8 0h1m1 0h1m5 0h1m1 0h1m1 0h1m2 0h1m16 0h1m26 0h1m7 0h1m9 0h1m-498 1h1m14 0h1m4 0h1m1 0h1m8 0h1m10 0h1m10 0h1m29 0h1m5 0h1m10 0h1m9 0h1m8 0h1m5 0h1m8 0h1m209 0h1m12 0h1m10 0h1m3 0h1m7 0h1m8 0h1m1 0h1m11 0h1m34 0h1m32 0h1m4 0h1m12 0h1m1 0h1m10 0h1m8 0h1m-508 1h1m3 0h1m14 0h1m17 0h1m50 0h1m24 0h1m2 0h1m19 0h1m32 0h1m201 0h1m1 0h1m29 0h1m5 0h1m10 0h1m11 0h1m16 0h1m19 0h1m-495 1h1m3 0h1m7 0h1m23 0h1m32 0h1m13 0h1m22 0h1m12 0h1m4 0h1m7 0h1m13 0h1m5 0h1m9 0h1m1 0h1m10 0h1m5 0h1m1 0h1m169 0h1m17 0h1m38 0h1m11 0h1m1 0h1m11 0h1m6 0h1m3 0h1m21 0h1m7 0h1m6 0h1m2 0h1m3 0h1m41 0h1m12 0h1m-546 1h1m17 0h1m4 0h1m22 0h1m1 0h1m8 0h1m1 0h1m6 0h1m1 0h1m14 0h1m34 0h1m15 0h2m19 0h1m2 0h1m21 0h1m192 0h1m10 0h1m6 0h1m5 0h1m7 0h1m3 0h1m17 0h1m30 0h1m11 0h2m15 0h1m8 0h2m7 0h1m10 0h1m-504 1h1m16 0h1m30 0h1m41 0h1m2 0h1m1 0h1m7 0h1m15 0h1m11 0h1m15 0h1m7 0h1m9 0h1m7 0h1m165 0h1m5 0h1m56 0h1m8 0h1m18 0h1m1 0h1m9 0h1m19 0h1m1 0h1m11 0h1m4 0h1m28 0h1m35 0h1m-549 1h1m13 0h1m9 0h1m11 0h1m3 0h1m9 0h1m4 0h1m30 0h1m13 0h1m38 0h1m36 0h1m218 0h1m5 0h1m5 0h1m7 0h1m18 0h1m17 0h1m-451 1h1m2 0h1m3 0h1m9 0h1m51 0h1m13 0h1m44 0h1m1 0h1m1 0h1m10 0h1m18 0h1m1 0h1m178 0h1m38 0h1m4 0h1m6 0h1m11 0h1m12 0h1m47 0h1m14 0h1m2 0h2m1 0h1m2 0h1m17 0h1m4 0h1m34 0h1m-561 1h1m3 0h1m11 0h1m11 0h1m47 0h1m56 0h1m12 0h1m2 0h1m18 0h1m8 0h1m6 0h1m172 0h1m14 0h1m1 0h1m11 0h2m6 0h1m19 0h1m2 0h1m2 0h1m7 0h1m15 0h1m48 0h1m2 0h1m-495 1h1m7 0h1m15 0h1m20 0h1m52 0h1m4 0h1m5 0h1m2 0h1m17 0h1m2 0h1m4 0h1m1 0h1m16 0h1m4 0h1m217 0h1m13 0h1m14 0h1m4 0h1m13 0h1m14 0h1m31 0h1m21 0h1m2 0h1m4 0h1m5 0h1m1 0h1m4 0h1m2 0h1m-515 1h1m22 0h1m34 0h1m42 0h1m22 0h1m12 0h1m36 0h1m191 0h1m14 0h2m10 0h1m8 0h1m6 0h1m74 0h1m4 0h1m5 0h1m18 0h1m-511 1h1m5 0h1m2 0h1m10 0h1m61 0h1m16 0h2m7 0h1m7 0h1m10 0h1m11 0h1m4 0h1m4 0h1m216 0h1m17 0h1m6 0h1m39 0h1m56 0h1m67 0h1m-562 1h2m6 0h1m83 0h1m26 0h1m8 0h2m12 0h1m7 0h1m11 0h1m4 0h1m7 0h1m173 0h1m21 0h1m15 0h1m6 0h1m2 0h1m14 0h1m95 0h1m4 0h1m17 0h1m-536 1h1m93 0h1m3 0h1m75 0h1m170 0h1m14 0h1m9 0h1m7 0h1m16 0h1m67 0h1m28 0h1m2 0h1m17 0h1m-501 1h1m3 0h1m13 0h1m109 0h1m9 0h1m236 0h1m12 0h1m61 0h1m31 0h1m8 0h1m51 0h1m-556 1h1m3 0h1m2 0h1m1 0h2m8 0h1m1 0h1m1 0h2m4 0h1m89 0h1m3 0h2m6 0h1m20 0h1m8 0h1m186 0h1m21 0h1m8 0h1m4 0h1m8 0h1m18 0h1m22 0h1m25 0h1m6 0h1m57 0h1m10 0h2m-530 1h2m9 0h1m4 0h1m89 0h1m8 0h1m7 0h1m4 0h1m4 0h1m5 0h1m221 0h1m2 0h1m2 0h1m3 0h1m5 0h1m131 0h1m-522 1h1m9 0h1m10 0h1m102 0h1m17 0h1m5 0h1m5 0h1m19 0h1m177 0h1m8 0h1m24 0h2m14 0h1m132 0h1m-542 1h1m3 0h1m8 0h1m3 0h1m1 0h1m8 0h1m4 0h1m3 0h1m78 0h1m18 0h1m34 0h1m4 0h1m224 0h1m101 0h1m1 0h1m9 0h1m20 0h1m-528 1h1m23 0h1m8 0h1m104 0h1m1 0h1m6 0h1m200 0h1m5 0h1m19 0h1m5 0h1m20 0h1m61 0h1m25 0h1m13 0h1m34 0h1m48 0h1m-593 1h1m1 0h1m3 0h1m18 0h1m3 0h1m117 0h1m4 0h1m21 0h1m1 0h1m194 0h1m3 0h1m8 0h1m112 0h1m10 0h1m1 0h1m4 0h1m-519 1h1m12 0h1m1 0h1m3 0h1m5 0h1m119 0h1m216 0h1m5 0h1m16 0h1m14 0h1m71 0h1m11 0h1m38 0h1m4 0h1m-517 1h1m12 0h1m100 0h1m39 0h1m186 0h1m14 0h2m8 0h1m6 0h1m3 0h1m10 0h1m16 0h1m53 0h1m25 0h1m16 0h1m-497 1h1m1 0h1m98 0h1m16 0h1m16 0h1m1 0h1m12 0h1m9 0h1m316 0h1m7 0h1m7 0h1m16 0h1m-511 1h1m4 0h1m129 0h1m3 0h1m3 0h1m199 0h1m5 0h1m7 0h1m4 0h1m8 0h1m12 0h1m88 0h1m39 0h1m-513 1h1m110 0h1m11 0h1m4 0h1m20 0h2m221 0h1m7 0h1m87 0h1m2 0h1m6 0h1m2 0h1m4 0h1m2 0h1m4 0h1m7 0h1m5 0h1m1 0h1m-529 1h1m9 0h1m6 0h2m3 0h1m105 0h1m6 0h1m4 0h1m16 0h1m7 0h1m4 0h1m201 0h1m5 0h1m15 0h1m3 0h1m2 0h1m1 0h1m19 0h1m63 0h1m1 0h1m8 0h1m2 0h1m1 0h1m16 0h1m9 0h1m-526 1h2m1 0h1m129 0h1m16 0h1m11 0h1m203 0h1m16 0h1m108 0h1m11 0h1m24 0h1m-526 1h1m3 0h2m131 0h1m2 0h1m5 0h1m8 0h1m13 0h1m8 0h1m199 0h1m3 0h1m3 0h1m9 0h1m1 0h1m7 0h1m57 0h1m31 0h1m8 0h1m-508 1h1m11 0h1m3 0h1m1 0h1m103 0h1m21 0h1m1 0h1m12 0h1m202 0h1m46 0h1m58 0h1m19 0h1m4 0h1m2 0h1m7 0h1m-499 1h1m7 0h1m100 0h1m4 0h1m21 0h1m3 0h2m8 0h1m21 0h1m174 0h1m19 0h1m2 0h1m7 0h1m3 0h1m2 0h1m2 0h1m71 0h2m1 0h1m1 0h1m15 0h1m13 0h1m2 0h1m3 0h1m-514 1h1m8 0h1m7 0h1m116 0h1m1 0h1m21 0h1m5 0h1m186 0h1m1 0h1m41 0h1m154 0h1m-552 1h2m14 0h1m2 0h1m2 0h2m100 0h1m12 0h1m4 0h1m2 0h1m2 0h1m1 0h1m214 0h1m27 0h1m1 0h1m12 0h1m38 0h1m32 0h1m12 0h1m-476 1h1m115 0h2m7 0h1m7 0h1m2 0h1m2 0h1m199 0h1m3 0h1m8 0h1m45 0h1m78 0h1m10 0h1m5 0h2m31 0h1m-539 1h1m4 0h2m5 0h1m2 0h1m112 0h1m7 0h1m5 0h1m14 0h2m206 0h1m4 0h1m4 0h1m3 0h1m12 0h1m8 0h1m70 0h1m21 0h1m4 0h2m7 0h1m6 0h1m-390 1h1m12 0h1m7 0h1m218 0h1m6 0h1m7 0h1m94 0h1m-484 1h1m5 0h1m11 0h1m5 0h1m114 0h1m1 0h1m4 0h1m4 0h1m2 0h1m5 0h1m201 0h1m5 0h1m13 0h1m1 0h1m21 0h1m1 0h1m89 0h1m20 0h1m18 0h1m-520 1h1m117 0h1m5 0h1m3 0h1m26 0h1m22 0h1m178 0h1m8 0h1m7 0h1m28 0h1m71 0h2m22 0h1m67 0h1m-449 1h1m4 0h1m3 0h1m1 0h1m7 0h1m3 0h1m4 0h1m185 0h1m21 0h1m9 0h2m8 0h1m1 0h2m1 0h1m83 0h1m36 0h1m14 0h1m-530 1h1m8 0h1m2 0h1m1 0h1m110 0h1m7 0h1m20 0h1m37 0h1m161 0h1m3 0h1m2 0h1m1 0h1m36 0h1m51 0h2m31 0h1m5 0h1m5 0h1m5 0h1m-501 1h1m10 0h1m10 0h1m92 0h1m13 0h1m11 0h1m12 0h1m191 0h1m2 0h1m3 0h1m16 0h1m26 0h1m14 0h1m62 0h1m22 0h1m3 0h1m53 0h1m7 0h1m-570 1h1m8 0h1m1 0h1m2 0h1m110 0h1m9 0h1m45 0h1m183 0h1m20 0h2m18 0h1m13 0h1m36 0h1m84 0h1m-540 1h1m13 0h1m1 0h1m97 0h1m17 0h1m10 0h1m201 0h1m22 0h1m4 0h1m6 0h1m1 0h1m5 0h1m9 0h1m2 0h1m1 0h1m8 0h1m68 0h1m32 0h1m14 0h1m-528 1h1m2 0h1m2 0h1m1 0h1m16 0h2m109 0h1m23 0h1m7 0h1m183 0h1m15 0h1m7 0h1m11 0h1m14 0h1m22 0h1m12 0h1m4 0h1m8 0h1m33 0h1m7 0h1m5 0h1m22 0h1m-516 1h1m5 0h1m9 0h1m1 0h1m94 0h1m13 0h1m10 0h1m217 0h1m25 0h1m3 0h1m42 0h1m1 0h1m3 0h1m16 0h1m7 0h1m15 0h1m5 0h1m7 0h1m18 0h1m59 0h1m-581 1h1m127 0h1m6 0h1m19 0h1m1 0h1m187 0h1m5 0h2m37 0h1m4 0h1m2 0h1m17 0h1m17 0h1m54 0h1m9 0h1m5 0h1m8 0h1m-512 1h1m2 0h1m7 0h1m21 0h1m88 0h1m11 0h1m9 0h2m5 0h1m1 0h1m189 0h1m14 0h1m9 0h1m2 0h1m6 0h1m7 0h2m16 0h1m3 0h1m1 0h1m40 0h1m27 0h1m20 0h2m14 0h1m4 0h1m-531 1h1m123 0h1m234 0h1m1 0h1m8 0h1m22 0h1m12 0h1m8 0h1m7 0h1m14 0h1m12 0h1m10 0h1m18 0h1m11 0h1m7 0h2m14 0h1m1 0h1m-504 1h1m7 0h1m16 0h1m82 0h1m1 0h1m1 0h1m10 0h1m23 0h1m19 0h1m203 0h1m1 0h1m6 0h1m7 0h1m1 0h1m5 0h1m24 0h1m20 0h1m1 0h1m1 0h1m4 0h1m3 0h1m5 0h1m17 0h1m3 0h1m24 0h1m-516 1h1m2 0h1m5 0h1m3 0h1m62 0h1m46 0h1m40 0h1m187 0h1m11 0h1m9 0h1m9 0h1m15 0h1m4 0h1m7 0h1m9 0h1m2 0h1m48 0h1m3 0h1m8 0h1m31 0h1m2 0h1m-524 1h1m2 0h1m5 0h1m99 0h1m5 0h1m233 0h1m2 0h1m3 0h1m9 0h1m16 0h1m69 0h1m1 0h1m2 0h1m12 0h1m5 0h1m7 0h1m22 0h1m-520 1h1m4 0h2m104 0h2m4 0h1m7 0h1m28 0h1m6 0h1m3 0h1m186 0h1m26 0h1m7 0h2m12 0h1m5 0h1m2 0h1m12 0h1m3 0h1m19 0h1m22 0h1m13 0h1m2 0h1m2 0h1m2 0h1m11 0h1m5 0h1m12 0h1m34 0h1m-561 1h1m18 0h1m10 0h1m57 0h1m37 0h1m5 0h1m25 0h1m193 0h1m7 0h1m13 0h1m9 0h1m5 0h1m9 0h1m12 0h1m8 0h1m38 0h1m2 0h2m2 0h1m1 0h1m5 0h1m2 0h1m8 0h1m10 0h1m11 0h1m12 0h1m-511 1h1m11 0h1m94 0h1m14 0h1m4 0h1m6 0h1m6 0h1m6 0h1m2 0h1m28 0h1m159 0h1m13 0h1m33 0h1m1 0h1m4 0h1m1 0h1m7 0h1m5 0h1m17 0h1m1 0h1m27 0h1m22 0h1m1 0h1m9 0h1m-488 1h1m4 0h1m3 0h1m2 0h1m83 0h1m7 0h1m9 0h1m5 0h1m5 0h1m1 0h1m6 0h1m16 0h1m178 0h1m20 0h1m8 0h1m5 0h1m15 0h1m22 0h1m1 0h1m3 0h1m16 0h1m3 0h1m24 0h1m1 0h1m3 0h1m8 0h2m5 0h1m2 0h1m9 0h1m7 0h1m1 0h1m1 0h1m-521 1h1m144 0h1m8 0h1m207 0h1m2 0h1m20 0h1m29 0h1m2 0h1m17 0h1m3 0h1m7 0h1m1 0h1m31 0h1m27 0h1m11 0h1m-527 1h1m8 0h1m9 0h1m1 0h1m51 0h1m33 0h1m4 0h1m2 0h2m8 0h1m1 0h1m16 0h1m3 0h1m17 0h1m15 0h1m185 0h1m50 0h1m4 0h1m9 0h1m12 0h1m6 0h1m18 0h1m3 0h1m11 0h1m8 0h1m7 0h1m2 0h1m8 0h1m-522 1h1m9 0h1m63 0h1m33 0h1m17 0h1m11 0h2m5 0h1m4 0h1m3 0h1m16 0h1m6 0h1m182 0h1m18 0h1m16 0h1m2 0h1m9 0h1m12 0h1m22 0h1m4 0h1m8 0h1m5 0h1m5 0h1m5 0h1m11 0h1m3 0h1m1 0h1m-485 1h1m1 0h1m14 0h1m51 0h1m27 0h1m2 0h1m10 0h1m5 0h1m8 0h1m3 0h1m9 0h1m3 0h1m24 0h1m197 0h1m8 0h1m19 0h2m3 0h1m29 0h1m7 0h1m13 0h1m1 0h1m42 0h1m-496 1h1m27 0h1m26 0h1m63 0h1m227 0h1m15 0h1m10 0h1m1 0h1m2 0h1m10 0h1m14 0h1m2 0h1m6 0h1m6 0h1m16 0h1m1 0h2m2 0h1m8 0h1m17 0h1m39 0h1m14 0h1m-542 1h1m9 0h1m1 0h1m30 0h1m17 0h1m60 0h1m17 0h1m236 0h1m5 0h1m1 0h1m3 0h1m18 0h1m10 0h1m30 0h1m6 0h1m5 0h1m13 0h1m13 0h1m-485 1h1m23 0h1m6 0h1m9 0h1m4 0h1m30 0h1m45 0h1m33 0h1m204 0h1m36 0h1m9 0h1m11 0h1m1 0h1m8 0h2m2 0h1m2 0h1m2 0h1m4 0h1m3 0h1m8 0h1m11 0h1m2 0h1m18 0h1m6 0h1m-505 1h1m1 0h1m16 0h1m15 0h2m2 0h1m8 0h1m10 0h1m27 0h1m16 0h1m6 0h1m4 0h1m29 0h1m246 0h1m18 0h1m12 0h1m10 0h1m7 0h1m1 0h1m27 0h1m38 0h1m15 0h2m-525 1h1m4 0h1m51 0h1m13 0h1m3 0h1m21 0h1m11 0h1m17 0h1m2 0h1m8 0h1m5 0h1m214 0h1m14 0h1m15 0h1m31 0h1m1 0h1m1 0h1m4 0h1m4 0h1m11 0h1m6 0h1m5 0h1m12 0h1m8 0h1m13 0h1m-510 1h1m28 0h1m7 0h1m50 0h1m1 0h1m14 0h1m41 0h1m19 0h1m7 0h1m3 0h1m186 0h1m18 0h1m4 0h1m9 0h1m14 0h1m6 0h1m20 0h1m1 0h1m7 0h1m4 0h1m1 0h1m1 0h1m4 0h1m14 0h1m2 0h1m4 0h1m1 0h1m32 0h1m12 0h1m-525 1h1m9 0h1m11 0h1m2 0h1m9 0h1m3 0h1m41 0h1m39 0h1m1 0h1m3 0h1m1 0h1m10 0h1m229 0h1m8 0h1m4 0h1m18 0h1m13 0h1m6 0h1m24 0h1m36 0h2m12 0h1m-512 1h1m1 0h1m3 0h1m3 0h1m13 0h1m2 0h1m20 0h1m16 0h1m31 0h1m21 0h1m3 0h1m4 0h1m2 0h1m11 0h1m6 0h1m244 0h1m2 0h1m26 0h1m23 0h1m1 0h1m5 0h1m9 0h1m7 0h1m22 0h1m50 0h1m-537 1h1m1 0h1m3 0h1m1 0h1m12 0h1m2 0h1m28 0h1m1 0h1m1 0h1m14 0h1m7 0h1m5 0h1m2 0h1m13 0h1m19 0h1m9 0h1m236 0h1m30 0h1m53 0h1m19 0h1m35 0h1m-516 1h1m15 0h2m16 0h1m35 0h1m8 0h1m5 0h1m19 0h1m9 0h1m2 0h1m261 0h1m16 0h1m13 0h1m10 0h2m5 0h1m18 0h1m1 0h1m5 0h1m6 0h1m3 0h1m29 0h1m9 0h1m24 0h1m35 0h1m-579 1h1m10 0h1m3 0h1m4 0h1m8 0h1m6 0h1m16 0h1m1 0h1m17 0h1m2 0h1m28 0h1m43 0h1m13 0h1m273 0h1m8 0h1m35 0h1m16 0h1m12 0h1m7 0h1m-513 1h1m15 0h1m22 0h1m23 0h1m31 0h1m2 0h1m12 0h1m1 0h1m17 0h1m13 0h1m5 0h1m5 0h1m219 0h1m12 0h1m1 0h1m31 0h1m1 0h2m2 0h1m4 0h1m20 0h1m18 0h1m20 0h1m34 0h1m-536 1h1m20 0h1m13 0h1m4 0h1m8 0h1m22 0h1m19 0h1m12 0h1m20 0h1m5 0h1m4 0h1m6 0h1m21 0h2m215 0h1m4 0h1m8 0h1m3 0h1m11 0h1m5 0h1m2 0h1m25 0h1m9 0h1m4 0h1m11 0h1m1 0h1m3 0h1m3 0h1m54 0h1m-535 1h1m14 0h1m17 0h1m19 0h1m5 0h1m14 0h1m2 0h1m4 0h1m3 0h1m8 0h1m20 0h1m4 0h1m3 0h1m3 0h1m27 0h1m197 0h1m3 0h1m5 0h1m1 0h1m2 0h1m17 0h1m44 0h1m1 0h1m12 0h2m2 0h2m5 0h1m1 0h1m12 0h1m5 0h1m27 0h1m2 0h1m-486 1h1m4 0h1m5 0h1m2 0h1m31 0h1m2 0h1m8 0h1m6 0h1m2 0h1m4 0h1m6 0h1m7 0h1m275 0h1m34 0h1m40 0h1m4 0h1m43 0h1m-518 1h1m11 0h2m15 0h1m7 0h1m20 0h1m1 0h1m1 0h1m2 0h1m13 0h1m8 0h1m13 0h1m2 0h1m22 0h1m11 0h1m3 0h1m225 0h1m13 0h1m21 0h1m5 0h1m11 0h1m13 0h1m1 0h1m1 0h1m12 0h1m2 0h1m1 0h1m5 0h1m18 0h1m-466 1h1m7 0h1m6 0h1m3 0h1m6 0h1m8 0h1m15 0h1m1 0h1m1 0h1m1 0h1m3 0h1m49 0h1m38 0h1m195 0h2m5 0h1m16 0h1m13 0h1m40 0h1m5 0h1m12 0h1m49 0h1m-523 1h1m36 0h1m2 0h1m1 0h1m5 0h1m10 0h1m1 0h1m2 0h1m22 0h1m9 0h1m5 0h1m2 0h1m7 0h1m7 0h1m11 0h1m20 0h1m10 0h1m189 0h1m32 0h1m2 0h1m1 0h1m10 0h1m10 0h2m8 0h1m1 0h1m1 0h1m12 0h1m5 0h1m16 0h1m12 0h1m15 0h1m9 0h1m31 0h1m-535 1h1m11 0h1m12 0h1m14 0h1m1 0h1m3 0h1m8 0h1m14 0h1m5 0h1m6 0h1m12 0h1m2 0h1m36 0h1m2 0h1m232 0h1m20 0h1m1 0h1m39 0h1m15 0h1m34 0h1m38 0h1m22 0h1m-537 1h1m2 0h1m4 0h1m11 0h1m1 0h1m1 0h1m13 0h1m22 0h1m27 0h1m1 0h2m14 0h1m49 0h1m194 0h1m6 0h1m52 0h1m7 0h1m2 0h1m35 0h1m10 0h1m2 0h1m20 0h1m44 0h1m-548 1h1m24 0h1m23 0h1m3 0h1m4 0h1m3 0h1m1 0h1m2 0h1m16 0h1m18 0h1m3 0h1m4 0h1m19 0h1m3 0h1m2 0h1m4 0h1m242 0h1m8 0h1m11 0h1m8 0h1m18 0h1m1 0h1m25 0h1m8 0h2m11 0h1m18 0h1m-507 1h1m5 0h1m16 0h1m17 0h1m3 0h1m8 0h1m1 0h1m6 0h1m1 0h1m5 0h1m21 0h1m13 0h1m11 0h1m237 0h1m9 0h1m7 0h1m3 0h1m7 0h1m12 0h1m5 0h1m15 0h1m23 0h1m14 0h1m1 0h1m6 0h1m82 0h1m-527 1h1m5 0h1m13 0h1m2 0h1m1 0h1m5 0h2m24 0h1m10 0h1m19 0h1m7 0h1m2 0h1m276 0h1m28 0h1m40 0h1m10 0h1m-492 1h1m10 0h1m15 0h1m7 0h1m5 0h1m5 0h2m1 0h1m11 0h1m3 0h1m3 0h1m5 0h1m29 0h1m1 0h1m4 0h1m10 0h1m24 0h1m213 0h1m30 0h1m22 0h1m25 0h1m4 0h1m3 0h1m10 0h1m1 0h1m3 0h1m28 0h1m17 0h1m-492 1h1m4 0h1m8 0h1m13 0h1m3 0h1m1 0h1m26 0h1m3 0h1m1 0h1m9 0h1m47 0h1m205 0h1m29 0h1m33 0h1m20 0h1m19 0h1m50 0h1m-470 1h1m6 0h1m8 0h1m45 0h1m13 0h2m12 0h1m14 0h1m217 0h1m30 0h2m23 0h1m30 0h1m31 0h1m9 0h1m13 0h1m-494 1h1m1 0h1m19 0h1m6 0h2m2 0h1m15 0h1m5 0h1m7 0h1m1 0h1m7 0h1m22 0h1m39 0h1m202 0h1m86 0h1m31 0h1m23 0h1m-488 1h1m4 0h1m13 0h1m13 0h1m11 0h1m14 0h1m3 0h1m1 0h2m12 0h1m2 0h1m17 0h1m2 0h1m2 0h1m25 0h1m7 0h1m227 0h1m5 0h1m5 0h1m6 0h1m16 0h1m23 0h1m20 0h1m18 0h1m26 0h1m-504 1h1m57 0h1m1 0h1m22 0h1m1 0h1m6 0h1m265 0h1m28 0h1m9 0h1m6 0h1m13 0h1m9 0h1m35 0h1m7 0h1m1 0h1m21 0h1m10 0h2m1 0h1m-510 1h1m1 0h1m6 0h1m18 0h1m1 0h1m9 0h1m19 0h1m33 0h1m6 0h1m6 0h1m7 0h1m1 0h1m6 0h1m11 0h1m2 0h1m32 0h1m208 0h1m34 0h1m56 0h1m19 0h1m7 0h1m-491 1h1m5 0h1m3 0h2m19 0h1m37 0h1m1 0h1m6 0h1m13 0h1m253 0h1m79 0h1m6 0h1m46 0h1m19 0h1m-501 1h1m18 0h1m1 0h1m39 0h1m3 0h1m30 0h1m12 0h1m4 0h1m5 0h1m267 0h1m5 0h1m80 0h1m-444 1h2m4 0h1m7 0h1m5 0h1m17 0h1m44 0h1m6 0h1m244 0h1m70 0h1m8 0h1m24 0h1m-469 1h1m8 0h1m5 0h1m14 0h1m7 0h1m17 0h1m1 0h1m4 0h1m5 0h1m25 0h1m240 0h1m11 0h1m27 0h2m14 0h1m-400 1h1m1 0h1m18 0h1m28 0h1m2 0h1m93 0h1m297 0h1m41 0h1m-473 1h1m30 0h1m29 0h1m10 0h1m16 0h1m5 0h1m23 0h1m8 0h1m15 0h1m221 0h1m69 0h1m4 0h1m6 0h1m-471 1h1m9 0h1m3 0h1m2 0h1m5 0h1m11 0h1m9 0h1m6 0h1m25 0h1m342 0h1m3 0h1m15 0h1m5 0h1m6 0h1m26 0h1m16 0h1m5 0h1m16 0h1m-510 1h1m15 0h1m2 0h1m15 0h1m4 0h1m2 0h1m318 0h1m28 0h1m42 0h1m18 0h1m11 0h1m-437 1h1m1 0h1m2 0h1m30 0h1m2 0h2m27 0h1m304 0h1m44 0h1m3 0h1m6 0h1m28 0h1m-490 1h1m26 0h1m1 0h1m18 0h1m22 0h1m6 0h1m329 0h1m37 0h1m34 0h1m8 0h1m7 0h1m-509 1h1m5 0h1m38 0h1m20 0h1m28 0h1m9 0h1m22 0h1m45 0h1m196 0h1m104 0h1m10 0h1m-469 1h1m41 0h1m341 0h1m5 0h1m27 0h1m16 0h1m14 0h1m40 0h1m12 0h1m-480 1h1m22 0h1m17 0h1m11 0h1m11 0h1m266 0h1m19 0h1m16 0h1m20 0h1m1 0h1m41 0h1m37 0h1m-500 1h1m20 0h1m19 0h1m19 0h1m17 0h1m14 0h1m27 0h1m272 0h1m46 0h1m34 0h1m-425 1h1m17 0h1m21 0h1m10 0h1m306 0h1m18 0h1m-418 1h1m11 0h1m8 0h1m124 0h1m202 0h1m19 0h1m7 0h1m31 0h1m-397 1h1m24 0h1m7 0h1m3 0h1m2 0h1m20 0h1m268 0h1m10 0h1m66 0h1m-430 1h1m3 0h1m16 0h1m44 0h1m298 0h1m38 0h1m27 0h1m51 0h1m1 0h1m-507 1h1m7 0h1m70 0h1m35 0h1m18 0h1m233 0h1m67 0h1m3 0h1m-406 1h1m3 0h1m39 0h1m19 0h1m267 0h1m151 0h1m-419 1h1m29 0h1m37 0h1m233 0h1m18 0h1m29 0h1m6 0h1m-375 1h1m21 0h1m27 0h1m218 0h1m1 0h1m50 0h1m8 0h1m45 0h1m13 0h1m-443 1h1m9 0h1m33 0h1m347 0h1m16 0h1m3 0h1m58 0h1m9 0h1m21 0h1m-500 1h1m1 0h1m41 0h1m19 0h1m287 0h1m38 0h1m10 0h1" stroke="#684245" stroke-width="1" transform="translate(0,0.5)" shape-rendering="crispEdges"/><path d="M234 33h1m1 0h2m0 1h1m-13 1h4m6 0h1m1 0h1m-10 1h1m379 0h1m-1 1h1m-380 1h1m1 0h1m372 0h1m-376 1h1m373 0h1m-11 1h1m-1 1h1m5 1h2m-32 1h2m-370 1h1m376 0h1m3 0h1m-382 1h1m375 0h1m4 0h1m-10 1h1m22 0h1m2 0h1m-26 1h1m20 0h1m4 0h1m-15 1h1m9 0h1m-376 1h1m364 0h1m-369 1h2m352 0h1m10 0h1m1 0h1m6 0h1m8 0h1m-388 1h1m2 0h1m5 0h1m348 0h1m10 0h1m2 0h1m14 0h1m-399 1h1m5 0h1m12 0h1m4 0h2m5 0h1m7 0h1m335 0h1m6 0h1m2 0h1m3 0h1m3 0h1m2 0h2m-398 1h1m30 0h2m5 0h1m341 0h1m2 0h1m8 0h1m-392 1h1m8 0h1m17 0h1m364 0h1m5 0h1m-391 1h1m19 0h1m1 0h1m340 0h2m18 0h1m1 0h1m3 0h1m-400 1h1m30 0h2m4 0h1m328 0h1m2 0h1m4 0h1m18 0h3m15 0h1m-412 1h1m3 0h1m32 0h1m317 0h2m9 0h1m2 0h1m22 0h1m2 0h1m2 0h1m13 0h1m-407 1h1m12 0h1m6 0h2m5 0h1m320 0h2m12 0h1m26 0h1m5 0h2m-398 1h1m1 0h1m19 0h1m325 0h1m8 0h3m2 0h1m28 0h1m2 0h1m-391 1h1m1 0h1m1 0h2m9 0h1m2 0h1m324 0h1m6 0h1m4 0h1m30 0h1m5 0h1m-392 1h1m5 0h1m11 0h1m322 0h1m5 0h3m1 0h3m2 0h1m29 0h2m3 0h1m-405 1h2m30 0h2m4 0h1m329 0h2m31 0h1m3 0h1m-400 1h2m31 0h1m327 0h1m36 0h1m1 0h1m-47 1h1m5 0h2m29 0h1m-42 1h2m3 0h1m40 0h1m3 0h2m-50 1h1m3 0h1m3 0h1m33 0h1m6 0h3m-56 1h2m3 0h1m3 0h1m3 0h1m30 0h2m1 0h1m-51 1h1m7 0h1m3 0h1m38 0h1m-52 1h1m6 0h1m3 0h1m5 0h1m33 0h1m0 1h1m-38 1h1m1 0h2m33 0h1m-39 1h1m2 0h2m27 0h1m1 0h2m1 0h1m-37 1h2m2 0h1m28 0h1m1 0h1m-36 1h1m25 0h1m2 0h1m-30 1h1m26 0h1m-41 1h1m4 0h1m6 0h2m23 0h1m10 0h1m8 0h1m-58 1h1m5 0h1m4 0h1m2 0h5m16 0h1m1 0h1m9 0h1m9 0h1m-50 1h1m3 0h1m1 0h1m6 0h1m12 0h1m1 0h1m6 0h1m-37 1h1m5 0h1m6 0h1m12 0h1m2 0h2m4 0h1m-42 1h2m13 0h1m1 0h1m1 0h1m7 0h2m7 0h2m1 0h1m2 0h1m4 0h1m-43 1h1m8 0h1m3 0h1m9 0h1m1 0h1m1 0h1m6 0h1m7 0h1m-42 1h1m4 0h1m9 0h1m8 0h1m3 0h1m2 0h1m3 0h1m2 0h1m9 0h1m-36 1h1m2 0h2m6 0h1m5 0h1m3 0h1m3 0h1m10 0h1m-51 1h1m1 0h1m4 0h1m1 0h1m3 0h1m2 0h2m1 0h1m4 0h1m10 0h2m22 0h1m-95 1h2m31 0h2m2 0h3m3 0h1m1 0h1m4 0h1m2 0h2m1 0h2m37 0h1m-72 1h1m1 0h1m1 0h1m3 0h1m7 0h1m1 0h1m2 0h2m11 0h1m3 0h1m8 0h2m8 0h1m-58 1h1m2 0h1m13 0h2m1 0h1m13 0h1m12 0h2m8 0h1m-51 1h1m8 0h1m2 0h1m1 0h1m10 0h1m8 0h1m4 0h2m2 0h2m-35 1h2m5 0h2m11 0h1m2 0h1m-394 1h1m354 0h2m4 0h1m6 0h2m1 0h2m4 0h1m2 0h1m10 0h1m-31 1h1m5 0h1m-12 1h1m17 0h1m4 0h1m2 0h1m9 0h1m1 0h1m-38 1h2m4 0h1m9 0h1m5 0h1m1 0h1m10 0h2m-398 1h1m365 0h1m3 0h1m3 0h1m4 0h1m2 0h1m3 0h1m1 0h1m7 0h1m-397 1h1m365 0h2m2 0h1m2 0h1m7 0h1m1 0h2m3 0h1m7 0h1m-386 1h1m347 0h2m6 0h1m6 0h2m19 0h1m-385 1h1m321 0h2m32 0h1m8 0h1m6 0h4m9 0h1m-54 1h1m7 0h1m8 0h1m10 0h1m4 0h1m5 0h1m-40 1h1m8 0h1m7 0h1m6 0h1m2 0h1m1 0h1m3 0h3m1 0h1m1 0h1m-42 1h1m13 0h3m4 0h1m2 0h1m7 0h1m15 0h1m12 0h1m-61 1h1m3 0h1m11 0h1m12 0h3m15 0h1m12 0h1m-406 1h1m360 0h1m2 0h2m1 0h1m2 0h2m5 0h1m2 0h1m35 0h2m-418 1h1m349 0h2m9 0h1m4 0h1m5 0h1m3 0h1m3 0h1m-25 1h2m8 0h1m2 0h1m2 0h1m-6 1h2m1 0h2m1 0h1m-34 1h1m3 0h2m3 0h1m2 0h2m11 0h2m10 0h1m31 0h1m-70 1h1m7 0h1m2 0h1m2 0h2m4 0h2m4 0h1m9 0h1m31 0h1m-67 1h2m5 0h1m1 0h1m10 0h2m10 0h1m1 0h1m2 0h1m12 0h2m3 0h1m-48 1h1m9 0h1m13 0h1m4 0h1m16 0h1m-399 1h2m350 0h1m2 0h2m4 0h1m2 0h1m5 0h1m6 0h1m5 0h1m12 0h1m3 0h1m-397 1h2m342 0h1m4 0h2m1 0h1m1 0h2m1 0h1m1 0h1m5 0h1m2 0h2m2 0h1m13 0h2m4 0h1m3 0h1m-75 1h1m15 0h2m19 0h1m7 0h2m5 0h1m9 0h3m1 0h1m5 0h1m-72 1h1m35 0h1m6 0h1m2 0h2m2 0h1m12 0h1m2 0h1m4 0h1m-63 1h2m6 0h2m17 0h1m2 0h1m3 0h1m3 0h1m9 0h1m7 0h1m18 0h1m-69 1h1m10 0h1m3 0h2m2 0h1m4 0h3m1 0h1m2 0h1m9 0h1m7 0h1m18 0h1m-80 1h1m27 0h1m1 0h1m1 0h1m6 0h1m19 0h1m-60 1h1m16 0h1m11 0h1m1 0h2m5 0h1m19 0h1m-29 1h1m-12 1h1m7 0h1m6 0h1m-28 1h1m1 0h1m1 0h1m5 0h1m5 0h1m11 0h1m9 0h1m2 0h1m18 0h1m-61 1h1m1 0h1m8 0h1m2 0h2m12 0h1m9 0h1m2 0h1m18 0h1m-70 1h1m5 0h1m16 0h1m-28 1h2m3 0h1m5 0h1m-350 1h2m10 0h1m321 0h2m18 0h1m14 0h1m4 0h1m29 0h1m-393 1h1m361 0h1m3 0h1m3 0h2m21 0h1m-51 1h1m1 0h1m3 0h1m5 0h1m5 0h1m13 0h1m3 0h1m-37 1h2m1 0h1m8 0h1m5 0h1m12 0h1m4 0h1m-382 1h1m335 0h1m5 0h1m3 0h1m3 0h1m4 0h1m7 0h4m27 0h1m-395 1h1m336 0h1m7 0h1m1 0h1m11 0h1m2 0h1m3 0h1m27 0h1m3 0h2m-66 1h4m4 0h1m3 0h2m6 0h1m11 0h1m6 0h1m23 0h1m-55 1h1m9 0h1m3 0h1m5 0h1m8 0h1m23 0h1m-65 1h1m1 0h1m2 0h1m5 0h1m2 0h2m6 0h1m2 0h1m3 0h1m7 0h1m1 0h2m5 0h1m11 0h1m-58 1h1m1 0h1m1 0h1m18 0h1m1 0h1m2 0h1m5 0h1m1 0h2m7 0h1m12 0h1m-65 1h1m7 0h2m9 0h1m6 0h1m4 0h3m11 0h1m9 0h2m2 0h1m-60 1h1m8 0h1m9 0h1m3 0h1m9 0h1m5 0h2m4 0h1m14 0h1m-393 1h1m326 0h1m7 0h1m1 0h1m1 0h2m1 0h1m14 0h2m22 0h2m6 0h1m2 0h1m7 0h1m-401 1h1m327 0h1m6 0h1m1 0h1m4 0h2m5 0h1m2 0h1m6 0h1m5 0h2m7 0h1m5 0h1m8 0h1m2 0h1m7 0h1m-108 1h1m37 0h1m5 0h1m13 0h2m4 0h1m1 0h1m19 0h2m5 0h1m6 0h1m-101 1h1m9 0h2m8 0h1m7 0h1m5 0h1m2 0h2m9 0h2m7 0h1m5 0h2m2 0h1m1 0h1m4 0h1m25 0h1m-104 1h1m9 0h1m2 0h1m8 0h1m5 0h1m5 0h1m6 0h3m23 0h1m5 0h2m3 0h1m3 0h1m1 0h1m1 0h1m1 0h1m10 0h2m2 0h1m-365 1h2m264 0h2m2 0h1m12 0h1m5 0h1m35 0h1m10 0h3m4 0h1m3 0h1m1 0h1m15 0h1m-416 1h2m19 0h1m274 0h1m2 0h2m7 0h2m4 0h1m4 0h1m1 0h1m14 0h1m23 0h1m4 0h1m7 0h1m4 0h2m1 0h1m7 0h1m5 0h1m7 0h1m4 0h1m7 0h2m-398 1h1m275 0h1m1 0h1m1 0h1m13 0h1m1 0h1m2 0h1m18 0h1m20 0h1m5 0h3m1 0h1m5 0h1m7 0h2m4 0h1m4 0h1m7 0h1m6 0h1m-446 1h1m13 0h1m2 0h1m8 0h1m25 0h1m15 0h1m275 0h1m8 0h2m40 0h1m5 0h1m15 0h1m12 0h2m2 0h1m1 0h1m7 0h2m8 0h1m7 0h1m-485 1h2m21 0h1m13 0h1m1 0h1m9 0h1m13 0h1m8 0h3m15 0h1m263 0h1m8 0h1m11 0h1m62 0h1m6 0h1m1 0h1m6 0h1m1 0h1m1 0h1m17 0h1m7 0h1m-479 1h1m28 0h4m2 0h1m12 0h1m12 0h1m2 0h1m2 0h1m6 0h2m3 0h1m266 0h1m7 0h2m2 0h1m63 0h1m9 0h1m2 0h1m2 0h1m5 0h2m2 0h1m1 0h1m1 0h2m2 0h1m1 0h1m6 0h1m-466 1h1m22 0h1m5 0h1m5 0h1m2 0h2m3 0h1m5 0h5m1 0h1m2 0h1m1 0h1m1 0h3m2 0h1m10 0h1m1 0h1m12 0h1m2 0h1m250 0h1m2 0h1m7 0h1m74 0h2m13 0h1m7 0h1m1 0h1m5 0h1m-476 1h1m7 0h1m6 0h1m13 0h1m12 0h1m1 0h1m1 0h1m19 0h1m7 0h1m5 0h1m3 0h1m1 0h2m25 0h2m242 0h3m3 0h1m78 0h1m7 0h1m1 0h2m1 0h2m1 0h1m5 0h1m5 0h1m4 0h1m9 0h1m-487 1h1m8 0h1m7 0h1m12 0h1m9 0h1m3 0h1m6 0h1m7 0h1m5 0h1m1 0h2m5 0h1m1 0h1m8 0h1m3 0h2m3 0h1m3 0h1m4 0h1m256 0h1m84 0h2m4 0h1m7 0h2m7 0h3m5 0h1m5 0h2m-469 1h1m13 0h1m6 0h2m3 0h1m5 0h1m12 0h1m4 0h1m2 0h1m6 0h1m3 0h1m6 0h1m31 0h1m230 0h1m16 0h1m8 0h2m68 0h3m2 0h2m1 0h2m1 0h1m3 0h1m6 0h1m1 0h2m3 0h1m1 0h1m7 0h1m2 0h1m-473 1h1m11 0h1m1 0h1m8 0h3m19 0h1m32 0h1m5 0h1m13 0h3m3 0h1m228 0h1m7 0h2m9 0h1m85 0h2m3 0h1m1 0h1m8 0h1m5 0h1m8 0h1m1 0h1m-474 1h1m7 0h1m11 0h1m3 0h1m1 0h1m29 0h1m2 0h1m8 0h1m257 0h1m16 0h1m5 0h1m92 0h1m9 0h2m2 0h1m7 0h1m14 0h1m-480 1h1m6 0h1m3 0h1m12 0h1m2 0h1m40 0h2m12 0h1m11 0h1m2 0h1m7 0h2m218 0h1m5 0h2m8 0h2m7 0h1m3 0h1m89 0h1m9 0h2m8 0h1m15 0h1m-478 1h1m12 0h1m51 0h1m13 0h1m11 0h1m9 0h1m223 0h1m3 0h1m18 0h1m98 0h2m4 0h1m2 0h1m5 0h1m-462 1h1m5 0h1m37 0h1m14 0h1m9 0h1m22 0h1m4 0h1m226 0h1m2 0h1m2 0h1m3 0h1m4 0h3m2 0h1m101 0h1m4 0h1m10 0h1m2 0h2m-501 1h1m33 0h2m57 0h1m20 0h1m10 0h5m6 0h1m3 0h1m233 0h2m1 0h2m97 0h1m9 0h1m4 0h2m6 0h1m-501 1h1m29 0h1m5 0h1m57 0h1m1 0h1m1 0h3m5 0h1m15 0h1m1 0h2m4 0h1m1 0h2m2 0h1m3 0h1m235 0h1m4 0h1m89 0h1m4 0h1m1 0h1m5 0h1m16 0h1m4 0h2m-476 1h3m5 0h1m4 0h1m1 0h1m46 0h1m4 0h1m2 0h1m3 0h1m11 0h1m5 0h1m1 0h1m2 0h1m1 0h1m4 0h4m223 0h1m1 0h1m4 0h1m8 0h1m96 0h1m8 0h1m15 0h1m-473 1h1m5 0h1m9 0h1m53 0h1m7 0h1m4 0h1m12 0h2m1 0h1m2 0h3m6 0h1m221 0h1m2 0h1m5 0h1m124 0h1m1 0h2m1 0h2m-492 1h1m8 0h1m3 0h1m73 0h1m6 0h1m7 0h1m10 0h1m4 0h2m2 0h2m2 0h1m1 0h1m1 0h2m202 0h1m25 0h1m105 0h1m4 0h1m19 0h2m-493 1h1m9 0h1m3 0h3m7 0h1m2 0h1m2 0h1m66 0h1m4 0h1m3 0h1m7 0h1m2 0h1m3 0h1m1 0h1m5 0h1m2 0h1m2 0h2m196 0h1m21 0h2m3 0h1m106 0h1m-484 1h1m18 0h1m7 0h1m1 0h1m1 0h3m2 0h1m8 0h1m62 0h3m6 0h1m4 0h1m16 0h2m226 0h1m10 0h4m92 0h1m11 0h1m6 0h1m18 0h1m-513 1h1m19 0h1m9 0h1m14 0h1m66 0h1m11 0h1m7 0h1m14 0h2m218 0h1m1 0h2m6 0h1m106 0h1m1 0h1m3 0h1m3 0h1m3 0h1m1 0h3m8 0h1m-493 1h1m4 0h1m2 0h1m1 0h1m3 0h2m3 0h1m6 0h1m68 0h1m19 0h1m5 0h2m228 0h1m1 0h1m1 0h1m2 0h1m102 0h2m3 0h4m4 0h1m6 0h2m2 0h1m-478 1h1m9 0h1m67 0h1m32 0h2m2 0h1m1 0h3m224 0h1m1 0h1m105 0h1m11 0h2m7 0h1m1 0h2m-487 1h1m1 0h1m2 0h1m14 0h1m74 0h2m4 0h1m4 0h1m7 0h1m6 0h1m2 0h1m4 0h1m2 0h1m1 0h1m220 0h1m12 0h1m101 0h2m7 0h1m6 0h1m-486 1h1m1 0h1m11 0h1m3 0h1m5 0h1m69 0h2m1 0h3m18 0h2m4 0h1m2 0h1m4 0h2m229 0h1m109 0h1m7 0h1m4 0h1m2 0h3m-506 1h1m14 0h2m8 0h2m81 0h1m8 0h1m2 0h1m3 0h1m4 0h1m2 0h1m1 0h2m12 0h1m218 0h1m3 0h1m6 0h1m115 0h1m8 0h1m1 0h1m1 0h2m-509 1h1m8 0h4m6 0h4m6 0h1m75 0h1m1 0h1m7 0h1m2 0h2m5 0h1m6 0h1m3 0h1m11 0h1m219 0h1m2 0h1m96 0h1m9 0h1m10 0h1m4 0h1m9 0h2m-493 1h1m5 0h1m1 0h1m8 0h4m3 0h1m65 0h1m4 0h1m22 0h1m3 0h1m3 0h1m1 0h1m226 0h2m2 0h1m2 0h1m91 0h1m9 0h1m5 0h1m1 0h1m3 0h2m4 0h1m1 0h1m4 0h1m4 0h2m2 0h1m3 0h2m-504 1h1m6 0h1m1 0h1m6 0h1m3 0h1m1 0h2m72 0h2m1 0h1m4 0h1m10 0h1m4 0h2m1 0h1m2 0h1m1 0h1m221 0h2m2 0h1m4 0h2m108 0h2m2 0h1m6 0h3m1 0h1m4 0h1m8 0h1m-504 1h1m8 0h1m12 0h3m71 0h1m6 0h1m5 0h1m12 0h1m3 0h1m10 0h2m197 0h1m28 0h1m109 0h1m7 0h1m14 0h1m-501 1h1m1 0h1m9 0h1m14 0h1m69 0h1m8 0h1m3 0h2m6 0h1m9 0h1m6 0h1m202 0h1m22 0h5m98 0h2m11 0h1m14 0h1m7 0h1m-501 1h2m9 0h1m1 0h2m1 0h1m2 0h1m77 0h1m16 0h1m1 0h1m2 0h1m1 0h1m12 0h2m206 0h1m9 0h1m120 0h1m4 0h1m4 0h1m1 0h1m-486 1h1m11 0h1m3 0h1m3 0h1m2 0h2m72 0h1m3 0h2m8 0h1m5 0h2m2 0h1m5 0h2m4 0h1m207 0h1m10 0h1m12 0h2m3 0h1m106 0h1m7 0h1m-499 1h2m20 0h3m2 0h1m7 0h2m75 0h1m14 0h1m5 0h1m2 0h1m11 0h1m216 0h1m10 0h1m114 0h2m4 0h1m4 0h1m8 0h1m5 0h1m-492 1h1m9 0h1m2 0h1m3 0h4m63 0h1m7 0h1m30 0h1m206 0h2m7 0h1m10 0h1m1 0h1m3 0h2m100 0h1m5 0h1m2 0h4m8 0h1m4 0h1m6 0h1m-502 1h2m1 0h1m5 0h2m8 0h1m5 0h1m1 0h1m1 0h1m65 0h1m4 0h1m1 0h1m6 0h2m3 0h1m6 0h1m1 0h2m1 0h1m4 0h1m1 0h1m3 0h2m219 0h1m6 0h1m1 0h1m96 0h1m2 0h1m8 0h1m8 0h3m13 0h1m-510 1h2m14 0h1m9 0h1m1 0h1m5 0h1m71 0h2m1 0h2m1 0h1m6 0h1m9 0h1m1 0h2m1 0h1m3 0h1m1 0h1m4 0h1m1 0h2m205 0h2m11 0h1m7 0h1m95 0h2m2 0h1m6 0h1m2 0h1m7 0h1m14 0h1m-513 1h1m2 0h1m3 0h2m4 0h1m1 0h1m7 0h1m2 0h1m4 0h1m1 0h1m2 0h1m69 0h1m2 0h1m9 0h1m1 0h1m21 0h2m1 0h1m221 0h1m105 0h2m1 0h1m8 0h1m2 0h1m7 0h4m13 0h1m-514 1h1m1 0h1m2 0h1m1 0h1m4 0h1m1 0h1m11 0h1m4 0h1m4 0h1m72 0h1m3 0h1m15 0h1m1 0h1m1 0h4m4 0h1m2 0h1m1 0h1m4 0h2m200 0h2m12 0h1m7 0h3m107 0h1m2 0h1m7 0h1m16 0h1m-487 1h1m1 0h1m5 0h1m76 0h1m4 0h1m5 0h1m1 0h2m1 0h1m6 0h2m8 0h1m207 0h1m19 0h1m97 0h1m13 0h1m8 0h1m1 0h1m5 0h1m8 0h1m-495 1h1m11 0h1m10 0h1m61 0h1m4 0h1m4 0h1m5 0h1m5 0h1m3 0h1m5 0h1m8 0h2m209 0h1m11 0h1m3 0h1m2 0h1m1 0h1m101 0h1m8 0h1m7 0h1m1 0h2m3 0h1m10 0h1m-504 1h1m9 0h1m8 0h1m9 0h1m75 0h1m3 0h1m4 0h1m9 0h1m4 0h1m213 0h2m13 0h1m4 0h3m10 0h1m94 0h2m8 0h1m5 0h2m4 0h1m1 0h1m-496 1h1m9 0h1m1 0h1m5 0h1m10 0h1m75 0h1m4 0h4m8 0h1m2 0h2m2 0h1m213 0h1m24 0h1m6 0h2m111 0h1m1 0h1m1 0h1m1 0h1m-506 1h1m3 0h1m13 0h2m6 0h1m13 0h1m66 0h2m5 0h1m8 0h3m3 0h2m2 0h1m6 0h1m1 0h1m2 0h2m220 0h1m2 0h2m5 0h1m5 0h1m91 0h1m3 0h1m8 0h1m6 0h1m2 0h1m1 0h1m1 0h1m-504 1h1m4 0h1m12 0h1m1 0h1m6 0h1m87 0h1m11 0h1m1 0h1m7 0h1m4 0h1m214 0h1m11 0h2m5 0h2m111 0h1m6 0h1m1 0h1m4 0h1m-482 1h3m5 0h1m81 0h1m3 0h2m6 0h1m9 0h1m11 0h1m224 0h1m103 0h1m5 0h2m2 0h1m2 0h1m8 0h2m8 0h1m-488 1h2m3 0h2m74 0h1m34 0h2m1 0h1m7 0h1m4 0h2m230 0h2m94 0h1m5 0h2m4 0h2m5 0h1m6 0h1m-507 1h1m3 0h1m1 0h2m14 0h2m3 0h1m2 0h1m76 0h2m9 0h1m8 0h1m1 0h2m3 0h1m221 0h1m17 0h1m2 0h2m1 0h1m2 0h1m103 0h1m3 0h2m-493 1h1m4 0h1m18 0h2m1 0h1m3 0h1m1 0h1m65 0h1m13 0h1m1 0h1m11 0h1m2 0h1m7 0h2m234 0h1m2 0h1m1 0h1m1 0h1m2 0h1m98 0h1m2 0h1m4 0h1m-482 1h1m3 0h1m3 0h2m2 0h1m3 0h2m2 0h1m2 0h1m73 0h1m2 0h1m2 0h2m6 0h1m5 0h1m15 0h1m209 0h1m19 0h1m3 0h1m2 0h1m105 0h1m1 0h1m1 0h1m3 0h2m20 0h1m-507 1h1m3 0h1m6 0h1m1 0h1m4 0h2m1 0h2m75 0h3m1 0h1m2 0h1m5 0h1m6 0h2m3 0h3m7 0h1m209 0h1m19 0h1m2 0h1m3 0h1m99 0h1m6 0h1m1 0h2m26 0h1m-496 1h1m10 0h1m4 0h1m67 0h1m18 0h1m5 0h1m4 0h1m3 0h1m9 0h2m210 0h1m16 0h1m1 0h1m97 0h1m2 0h1m2 0h3m7 0h1m1 0h1m1 0h1m4 0h1m-483 1h1m12 0h1m7 0h3m58 0h1m2 0h2m15 0h1m12 0h2m2 0h1m10 0h1m209 0h1m16 0h1m4 0h2m83 0h2m5 0h2m1 0h1m2 0h1m1 0h1m3 0h4m3 0h1m1 0h1m1 0h1m5 0h1m-505 1h2m16 0h2m4 0h1m2 0h5m2 0h1m8 0h1m58 0h1m3 0h1m1 0h1m25 0h1m1 0h2m2 0h1m2 0h1m216 0h1m10 0h1m8 0h2m103 0h1m10 0h1m6 0h1m7 0h2m-514 1h1m1 0h1m16 0h2m1 0h1m1 0h1m1 0h2m4 0h1m1 0h1m1 0h2m11 0h1m54 0h2m2 0h1m1 0h1m4 0h1m8 0h2m8 0h1m4 0h1m1 0h1m3 0h1m215 0h1m11 0h1m6 0h1m2 0h2m2 0h1m96 0h2m6 0h2m3 0h1m6 0h1m-482 1h1m4 0h2m5 0h2m1 0h2m65 0h2m1 0h1m4 0h2m10 0h1m4 0h1m2 0h2m12 0h1m227 0h1m4 0h2m1 0h1m1 0h2m3 0h1m85 0h1m1 0h1m23 0h1m-486 1h1m2 0h3m2 0h3m12 0h1m58 0h1m7 0h1m4 0h1m2 0h1m9 0h2m4 0h2m13 0h1m228 0h1m3 0h1m3 0h2m1 0h1m2 0h1m2 0h1m85 0h1m5 0h1m17 0h1m-497 1h1m7 0h2m11 0h1m3 0h2m15 0h1m51 0h1m3 0h1m3 0h1m9 0h1m7 0h1m13 0h1m6 0h1m10 0h1m211 0h1m16 0h2m85 0h1m3 0h1m11 0h1m5 0h1m4 0h1m-496 1h1m13 0h1m1 0h1m3 0h1m20 0h1m57 0h1m3 0h3m6 0h1m7 0h1m10 0h1m2 0h1m6 0h1m11 0h1m210 0h1m6 0h1m8 0h1m1 0h1m83 0h2m5 0h1m14 0h2m1 0h1m-490 1h1m8 0h1m6 0h1m2 0h1m4 0h2m9 0h1m3 0h1m50 0h1m4 0h1m2 0h3m10 0h1m4 0h1m22 0h1m223 0h1m3 0h3m1 0h3m1 0h1m93 0h1m2 0h1m4 0h1m6 0h1m17 0h2m-503 1h1m6 0h1m1 0h2m7 0h2m1 0h2m4 0h1m2 0h1m57 0h1m5 0h2m3 0h1m10 0h1m5 0h1m2 0h1m18 0h1m223 0h1m1 0h2m3 0h1m15 0h1m77 0h1m4 0h1m2 0h1m4 0h1m12 0h2m-485 1h2m2 0h1m12 0h1m8 0h1m3 0h1m57 0h1m1 0h1m1 0h1m8 0h1m7 0h1m13 0h1m3 0h1m215 0h1m9 0h2m1 0h2m1 0h2m3 0h1m2 0h1m2 0h1m2 0h1m4 0h2m71 0h1m6 0h1m2 0h1m15 0h1m1 0h2m-482 1h1m1 0h1m7 0h2m4 0h1m2 0h1m2 0h1m66 0h1m1 0h1m6 0h1m12 0h1m11 0h1m1 0h1m2 0h1m215 0h1m11 0h1m1 0h1m6 0h1m3 0h2m1 0h3m75 0h1m1 0h1m6 0h1m1 0h2m7 0h1m8 0h1m16 0h2m-509 1h1m13 0h1m7 0h1m4 0h1m7 0h2m2 0h1m56 0h2m9 0h1m3 0h1m6 0h3m12 0h1m15 0h1m221 0h1m1 0h2m1 0h4m3 0h3m2 0h1m80 0h1m2 0h1m13 0h1m3 0h1m-491 1h1m12 0h1m7 0h1m1 0h2m3 0h2m3 0h1m4 0h1m17 0h1m33 0h1m8 0h1m6 0h1m11 0h1m14 0h1m16 0h1m220 0h1m13 0h1m68 0h1m2 0h1m12 0h2m13 0h1m4 0h1m-494 1h1m14 0h1m16 0h1m2 0h1m5 0h1m1 0h1m1 0h1m46 0h2m1 0h1m2 0h1m6 0h1m1 0h1m12 0h2m1 0h1m2 0h1m26 0h1m214 0h1m9 0h2m2 0h1m2 0h2m5 0h3m62 0h1m5 0h1m6 0h3m11 0h2m5 0h1m1 0h1m1 0h1m1 0h1m-498 1h1m13 0h1m6 0h1m6 0h1m3 0h1m5 0h1m2 0h1m1 0h1m55 0h1m5 0h1m2 0h2m16 0h1m26 0h1m214 0h1m4 0h1m9 0h1m1 0h2m70 0h2m6 0h1m3 0h1m3 0h1m16 0h1m1 0h1m3 0h1m-486 1h1m3 0h1m2 0h2m2 0h1m7 0h1m1 0h2m1 0h1m56 0h1m6 0h1m5 0h1m2 0h1m1 0h1m17 0h2m6 0h1m224 0h1m8 0h1m7 0h1m4 0h1m1 0h2m5 0h1m62 0h3m2 0h1m3 0h1m4 0h1m2 0h1m1 0h2m15 0h1m15 0h1m-504 1h2m8 0h1m11 0h1m8 0h1m11 0h1m43 0h1m5 0h2m2 0h1m3 0h1m3 0h1m1 0h1m4 0h2m18 0h1m1 0h2m220 0h1m9 0h1m3 0h1m4 0h3m3 0h1m16 0h1m61 0h1m1 0h1m2 0h2m2 0h1m17 0h1m6 0h2m6 0h1m-504 1h1m11 0h1m21 0h2m12 0h3m44 0h1m3 0h3m9 0h1m2 0h1m4 0h1m23 0h1m7 0h1m217 0h1m2 0h1m5 0h1m2 0h1m6 0h1m15 0h1m46 0h1m6 0h1m2 0h1m5 0h1m1 0h1m5 0h2m7 0h1m16 0h1m-502 1h1m10 0h1m11 0h2m1 0h1m7 0h1m4 0h1m46 0h1m14 0h1m12 0h1m29 0h1m7 0h1m196 0h2m20 0h1m6 0h1m2 0h1m6 0h1m8 0h1m69 0h1m3 0h2m11 0h1m16 0h1m-492 1h1m6 0h2m7 0h1m1 0h1m2 0h1m3 0h2m7 0h1m1 0h2m6 0h1m3 0h2m27 0h1m2 0h1m3 0h1m11 0h1m2 0h2m7 0h1m6 0h1m240 0h1m17 0h3m3 0h1m1 0h1m2 0h1m3 0h1m81 0h2m17 0h2m-486 1h1m9 0h1m1 0h1m3 0h1m9 0h1m1 0h1m16 0h1m1 0h1m23 0h1m5 0h1m11 0h1m12 0h1m6 0h1m240 0h1m17 0h1m5 0h2m3 0h1m5 0h1m53 0h1m3 0h1m8 0h5m2 0h2m22 0h1m1 0h1m-487 1h1m22 0h1m3 0h1m9 0h1m3 0h1m34 0h2m4 0h2m256 0h1m5 0h2m16 0h1m2 0h1m2 0h1m7 0h1m8 0h1m58 0h1m1 0h1m1 0h2m1 0h1m8 0h2m7 0h1m-472 1h1m11 0h2m14 0h2m4 0h1m1 0h1m34 0h1m3 0h1m10 0h2m252 0h1m14 0h1m9 0h2m4 0h1m5 0h2m4 0h1m3 0h2m5 0h1m41 0h1m5 0h1m2 0h1m1 0h1m1 0h1m2 0h1m7 0h2m8 0h1m3 0h4m10 0h2m-496 1h2m8 0h1m24 0h1m4 0h1m1 0h2m35 0h1m2 0h2m3 0h2m3 0h1m4 0h1m264 0h1m20 0h1m9 0h1m23 0h1m21 0h1m1 0h1m4 0h1m10 0h1m11 0h3m2 0h1m32 0h1m-497 1h1m12 0h1m4 0h1m14 0h1m6 0h1m32 0h2m1 0h1m2 0h2m1 0h1m2 0h1m29 0h2m235 0h1m5 0h1m2 0h1m7 0h2m1 0h1m4 0h2m3 0h1m6 0h2m16 0h1m10 0h1m16 0h1m4 0h1m8 0h1m7 0h1m5 0h1m31 0h1m-501 1h1m4 0h2m16 0h2m6 0h1m2 0h2m3 0h1m18 0h1m1 0h2m2 0h1m6 0h1m2 0h1m5 0h1m2 0h1m7 0h2m5 0h1m261 0h2m2 0h1m4 0h1m13 0h1m2 0h2m1 0h1m5 0h1m38 0h1m2 0h2m2 0h1m2 0h1m5 0h1m-450 1h1m5 0h1m6 0h2m1 0h3m2 0h1m16 0h3m4 0h1m4 0h1m2 0h4m1 0h1m2 0h2m1 0h2m4 0h3m4 0h2m2 0h1m7 0h1m2 0h3m3 0h1m268 0h1m13 0h1m11 0h1m41 0h1m4 0h1m2 0h1m6 0h1m2 0h2m-455 1h1m8 0h1m4 0h3m3 0h1m8 0h4m6 0h1m8 0h1m5 0h1m3 0h1m2 0h1m3 0h1m5 0h1m4 0h1m2 0h3m4 0h1m1 0h1m1 0h1m271 0h1m2 0h1m9 0h1m18 0h1m17 0h2m15 0h1m13 0h1m3 0h1m4 0h1m1 0h1m14 0h1m-471 1h1m10 0h1m3 0h1m7 0h1m20 0h1m14 0h3m1 0h1m3 0h1m11 0h1m7 0h1m1 0h2m281 0h2m2 0h1m14 0h1m6 0h2m5 0h1m34 0h1m7 0h1m5 0h1m15 0h1m-486 1h2m35 0h1m3 0h1m10 0h1m5 0h1m5 0h1m5 0h1m2 0h1m1 0h1m2 0h1m2 0h1m10 0h1m7 0h1m11 0h1m274 0h1m8 0h1m2 0h2m1 0h1m10 0h1m4 0h3m4 0h1m3 0h2m17 0h2m2 0h1m11 0h1m8 0h1m11 0h2m10 0h2m-500 1h1m2 0h1m35 0h1m3 0h1m8 0h1m8 0h1m3 0h1m4 0h1m2 0h2m1 0h1m2 0h1m2 0h1m8 0h1m9 0h1m10 0h1m273 0h2m1 0h1m6 0h1m10 0h1m17 0h1m13 0h1m3 0h1m12 0h1m7 0h1m10 0h1m-459 1h1m1 0h1m7 0h1m1 0h1m21 0h2m1 0h1m5 0h1m6 0h1m3 0h2m3 0h3m7 0h1m2 0h1m1 0h1m3 0h1m8 0h2m258 0h1m5 0h2m3 0h1m7 0h1m12 0h2m7 0h1m8 0h1m1 0h1m1 0h1m4 0h1m8 0h1m1 0h1m5 0h1m12 0h1m1 0h1m16 0h1m-457 1h1m2 0h1m1 0h1m2 0h1m2 0h2m3 0h2m17 0h2m1 0h1m1 0h2m6 0h1m2 0h1m2 0h1m2 0h2m8 0h2m5 0h1m3 0h1m3 0h2m264 0h1m10 0h1m7 0h1m4 0h2m11 0h1m6 0h1m7 0h1m1 0h1m17 0h1m7 0h1m8 0h1m16 0h2m14 0h2m-490 1h1m11 0h2m3 0h1m9 0h1m23 0h2m3 0h1m1 0h4m4 0h2m6 0h1m6 0h2m3 0h1m1 0h1m3 0h1m12 0h1m3 0h1m2 0h1m287 0h2m8 0h1m4 0h1m1 0h1m8 0h1m6 0h2m5 0h1m6 0h1m6 0h1m5 0h1m23 0h2m-486 1h1m16 0h1m8 0h1m1 0h1m7 0h2m13 0h1m1 0h1m2 0h1m12 0h1m5 0h3m3 0h1m7 0h1m2 0h1m11 0h1m3 0h1m1 0h3m281 0h2m2 0h2m10 0h1m5 0h1m6 0h1m4 0h2m5 0h1m25 0h1m12 0h2m-447 1h1m2 0h1m8 0h1m1 0h1m1 0h1m1 0h1m9 0h1m9 0h1m1 0h1m2 0h1m10 0h1m12 0h1m3 0h1m20 0h1m6 0h2m238 0h2m4 0h3m5 0h1m24 0h1m5 0h2m13 0h2m1 0h1m5 0h1m14 0h1m2 0h1m1 0h1m2 0h1m1 0h1m6 0h1m9 0h2m1 0h2m-456 1h1m4 0h1m7 0h2m3 0h1m5 0h1m5 0h2m2 0h2m2 0h1m1 0h1m4 0h1m6 0h2m14 0h1m4 0h1m19 0h1m22 0h2m2 0h2m226 0h1m6 0h1m28 0h1m2 0h1m5 0h1m12 0h3m5 0h1m2 0h1m6 0h1m2 0h1m1 0h1m3 0h1m6 0h1m9 0h1m2 0h1m-462 1h2m5 0h1m22 0h1m4 0h1m6 0h1m7 0h1m1 0h1m11 0h2m52 0h1m10 0h1m266 0h1m8 0h6m7 0h1m8 0h1m7 0h2m-431 1h1m35 0h1m10 0h1m64 0h1m10 0h1m257 0h1m2 0h2m1 0h1m3 0h1m2 0h2m2 0h1m6 0h1m5 0h1m1 0h1m16 0h1m-437 1h1m34 0h1m17 0h1m1 0h1m10 0h1m17 0h2m2 0h1m268 0h1m31 0h2m3 0h1m2 0h1m5 0h2m2 0h1m2 0h1m5 0h1m19 0h1m27 0h1m-464 1h1m19 0h1m4 0h2m25 0h1m1 0h1m9 0h1m1 0h3m18 0h1m267 0h1m10 0h1m20 0h1m7 0h1m6 0h1m3 0h1m1 0h1m1 0h1m5 0h1m46 0h1m-472 1h1m8 0h2m17 0h1m18 0h1m11 0h1m2 0h1m14 0h2m14 0h1m1 0h1m9 0h1m65 0h1m202 0h1m4 0h1m11 0h2m1 0h1m16 0h2m4 0h1m12 0h1m5 0h1m2 0h1m12 0h3m20 0h1m5 0h1m-482 1h1m27 0h1m19 0h1m5 0h1m5 0h2m9 0h2m20 0h1m12 0h1m65 0h1m201 0h1m5 0h1m12 0h1m20 0h1m14 0h1m9 0h1m11 0h1m24 0h1m5 0h1m-472 1h1m24 0h1m7 0h1m6 0h1m4 0h2m43 0h2m9 0h1m269 0h1m2 0h1m11 0h1m29 0h1m19 0h2m23 0h1m18 0h2m-481 1h1m20 0h3m8 0h1m2 0h2m2 0h1m33 0h2m18 0h2m4 0h1m270 0h1m3 0h1m10 0h1m29 0h1m44 0h1m-447 1h1m2 0h1m25 0h1m2 0h1m18 0h1m9 0h1m14 0h1m1 0h1m312 0h1m-392 1h1m3 0h1m14 0h2m1 0h1m6 0h1m2 0h1m18 0h1m9 0h1m15 0h1m269 0h2m25 0h1m16 0h1m-408 1h1m36 0h1m5 0h1m8 0h1m22 0h1m322 0h2m13 0h1m33 0h1m-448 1h1m20 0h2m15 0h1m4 0h1m7 0h1m24 0h1m319 0h1m1 0h2m7 0h2m5 0h1m32 0h1m-451 1h1m19 0h1m9 0h1m38 0h2m2 0h1m18 0h1m31 0h1m253 0h1m19 0h1m18 0h1m18 0h1m-437 1h1m20 0h1m8 0h1m38 0h2m2 0h1m19 0h1m30 0h1m253 0h1m13 0h2m4 0h1m17 0h1m19 0h1m43 0h2m-470 1h1m7 0h2m9 0h1m11 0h1m30 0h2m38 0h1m28 0h1m231 0h1m24 0h1m12 0h1m16 0h1m-418 1h1m17 0h1m11 0h1m68 0h2m1 0h1m26 0h1m231 0h1m25 0h1m12 0h1m12 0h2m2 0h1m-414 1h1m3 0h1m1 0h1m2 0h2m34 0h2m317 0h1m34 0h2m8 0h1m-417 1h2m4 0h1m6 0h1m8 0h2m340 0h2m5 0h1m44 0h1m1 0h2m-411 1h2m19 0h2m30 0h1m-54 1h2m27 0h2m23 0h1m6 0h2m-9 1h1m296 0h2m26 0h1m11 0h1m23 0h2m14 0h1m-377 1h2m308 0h2m12 0h1m12 0h1m39 0h1m-423 1h1m367 0h1m-369 1h1m366 0h1m-349 1h1m1 0h1m43 0h1m-79 1h2m30 0h1m2 0h1m43 0h1m-63 1h1m16 0h2m359 0h1m7 0h2m13 0h1m-403 1h1m377 0h1m7 0h1m2 0h1m13 0h1m-286 97h2m352 0h1m14 0h1m-16 1h1m14 0h1m-357 1h1m-2 1h1m346 1h1m17 0h1m-376 1h2m350 0h2m2 0h1m17 0h1m-383 1h1m6 0h1m2 0h1m333 0h1m29 0h1m-374 1h1m5 0h1m2 0h1m329 0h2m2 0h1m27 0h3m-374 1h1m5 0h1m6 0h1m5 0h1m348 0h1m3 0h1m-373 1h1m5 0h2m6 0h1m5 0h1m346 0h1m1 0h1m7 0h2m-384 1h1m2 0h1m13 0h1m10 0h1m5 0h1m306 0h1m16 0h2m4 0h1m22 0h2m-389 1h1m1 0h1m1 0h2m8 0h1m1 0h1m4 0h1m5 0h1m1 0h1m4 0h1m306 0h1m23 0h1m7 0h1m12 0h1m1 0h1m-361 1h1m1 0h1m304 0h1m19 0h1m11 0h2m1 0h1m1 0h1m7 0h1m4 0h1m1 0h1m-391 1h1m33 0h1m303 0h2m17 0h1m12 0h2m1 0h1m2 0h2m9 0h1m1 0h1m-389 1h1m1 0h1m37 0h1m311 0h2m6 0h1m25 0h1m3 0h1m-390 1h1m6 0h1m21 0h1m10 0h1m296 0h4m18 0h1m8 0h1m17 0h1m-389 1h1m1 0h1m33 0h1m294 0h1m3 0h1m18 0h1m2 0h1m1 0h1m1 0h1m2 0h1m-366 1h1m29 0h1m3 0h3m295 0h1m4 0h1m14 0h2m1 0h1m1 0h1m1 0h2m3 0h1m1 0h1m-373 1h1m6 0h1m1 0h1m6 0h1m23 0h1m298 0h1m1 0h1m21 0h3m-366 1h1m8 0h1m34 0h2m295 0h1m10 0h1m7 0h1m2 0h1m-357 1h1m45 0h1m288 0h1m3 0h1m3 0h1m2 0h1m-347 1h1m36 0h1m7 0h1m289 0h1m3 0h1m-345 1h2m4 0h1m26 0h1m12 0h1m292 0h1m3 0h1m53 0h1m-391 1h1m31 0h1m3 0h3m1 0h1m288 0h2m1 0h1m57 0h1m-400 1h2m9 0h2m33 0h1m283 0h1m-321 1h1m2 0h1m30 0h2m284 0h1m65 0h1m-370 1h1m2 0h1m5 0h1m281 0h1m9 0h1m3 0h1m9 0h1m11 0h1m31 0h1m4 0h1m1 0h2m-373 1h1m4 0h1m291 0h1m5 0h1m2 0h1m4 0h1m2 0h2m2 0h2m11 0h1m29 0h1m12 0h2m-381 1h1m12 0h1m291 0h1m6 0h3m3 0h1m1 0h1m3 0h3m8 0h1m3 0h1m6 0h2m2 0h1m5 0h1m2 0h1m1 0h1m7 0h1m2 0h4m3 0h1m-381 1h1m13 0h1m3 0h1m288 0h1m8 0h2m1 0h1m2 0h3m10 0h1m1 0h1m7 0h1m3 0h1m10 0h1m1 0h1m1 0h1m4 0h1m1 0h2m7 0h1m-383 1h1m4 0h1m13 0h1m3 0h1m281 0h1m25 0h1m4 0h1m4 0h1m2 0h2m5 0h1m-347 1h1m13 0h1m2 0h1m281 0h1m31 0h1m15 0h2m-346 1h1m321 0h1m9 0h1m36 0h1m-370 1h1m322 0h1m8 0h1m35 0h1m-36 1h1m16 0h1m-19 1h1m17 0h1m-350 1h1m-1 1h1m345 1h1m-1 1h2m-7 1h2m4 0h1m1 0h1m-13 1h2m4 0h2m1 0h2m2 0h1m0 1h1m-7 1h2m5 0h1m-10 1h1m-327 1h2m325 0h1m-6 1h1m-1 1h1m3 0h2m2 0h1m-357 1h2m339 0h1m6 0h1m-8 1h1m7 0h1m-5 1h1m-332 1h2m326 0h2m1 0h1m-343 1h1m7 0h1m330 0h1m2 0h1m-343 1h1m7 0h1m330 0h1m2 0h1m-344 1h1m343 0h1m1 0h1m3 0h1m-350 1h1m341 0h2m2 0h1m2 0h1m-12 1h1m9 0h1m-13 1h2m9 0h1m-14 1h1m5 0h2m-5 1h3m-9 1h1m2 0h1m13 0h1m-17 1h2m4 0h1m8 0h1m-19 1h1m33 0h2m-36 1h1m9 0h1m-357 1h1m343 0h1m14 0h1m-360 1h1m344 0h2m9 0h1m2 0h1m-42 1h2m20 0h1m1 0h1m10 0h2m2 0h1m-17 1h1m1 0h1m13 0h1m-20 1h1m1 0h2m2 0h1m5 0h1m10 0h2m-25 1h1m15 0h1m5 0h1m2 0h1m-32 1h1m6 0h2m3 0h3m1 0h2m4 0h1m-22 1h1m4 0h1m2 0h1m1 0h1m6 0h2m2 0h1m-23 1h3m1 0h2m3 0h3m1 0h1m9 0h2m-23 1h1m5 0h1m3 0h1m10 0h2m-28 1h1m10 0h4m6 0h2m-24 1h1m16 0h1m-12 1h2m5 0h1m-4 1h3m1 0h1m3 0h1m-334 1h1m325 0h1m1 0h1m5 0h3m-352 1h2m8 0h2m3 0h1m312 0h2m4 0h2m2 0h3m1 0h1m1 0h1m1 0h2m1 0h1m-30 1h1m13 0h2m6 0h1m2 0h1m3 0h1m-368 1h2m337 0h1m14 0h2m1 0h1m8 0h1m-312 1h1m291 0h1m1 0h1m4 0h1m2 0h2m-304 1h1m289 0h2m2 0h1m1 0h1m3 0h1m1 0h1m-13 1h1m7 0h1m5 0h1m-15 1h1m2 0h2m6 0h3m-363 1h1m7 0h1m45 0h1m291 0h1m1 0h2m7 0h1m7 0h1m5 0h1m-372 1h1m8 0h1m45 0h3m288 0h1m9 0h1m-369 1h2m12 0h1m31 0h1m311 0h1m2 0h1m2 0h2m4 0h2m3 0h1m-361 1h1m30 0h1m312 0h1m1 0h1m4 0h2m7 0h1m-366 1h2m55 0h1m4 0h2m281 0h1m5 0h1m5 0h1m6 0h3m-22 1h1m3 0h2m6 0h2m7 0h1m-361 1h2m12 0h1m33 0h1m288 0h2m4 0h1m2 0h1m1 0h2m1 0h1m-337 1h1m33 0h1m287 0h1m4 0h1m7 0h1m-13 1h1m10 0h2m6 0h1m20 0h1m-43 1h2m1 0h1m2 0h1m8 0h1m4 0h1m21 0h1m-395 1h3m62 0h1m296 0h1m9 0h1m-370 1h1m22 0h2m334 0h1m3 0h3m4 0h1m-358 1h1m5 0h1m325 0h1m7 0h2m4 0h1m11 0h2m-359 1h1m5 0h1m325 0h1m9 0h1m2 0h1m4 0h1m-355 1h1m8 0h1m43 0h2m268 0h1m3 0h2m12 0h2m8 0h1m7 0h2m14 0h1m-395 1h2m16 0h1m9 0h1m314 0h1m26 0h1m23 0h1m-446 1h1m38 0h1m20 0h2m3 0h1m65 0h2m274 0h1m2 0h1m7 0h2m1 0h1m-422 1h1m38 0h1m13 0h2m5 0h1m1 0h1m2 0h1m1 0h2m324 0h2m12 0h1m2 0h1m5 0h2m2 0h1m50 0h2m-457 1h1m32 0h2m35 0h1m39 0h1m281 0h1m5 0h1m7 0h1m-413 1h1m5 0h1m16 0h2m24 0h2m1 0h3m16 0h2m3 0h1m4 0h2m33 0h1m234 0h2m32 0h1m12 0h1m12 0h1m-430 1h1m4 0h1m24 0h1m4 0h1m20 0h1m6 0h2m5 0h1m6 0h1m3 0h2m10 0h1m10 0h1m240 0h1m38 0h1m18 0h1m25 0h1m-431 1h1m5 0h1m19 0h2m3 0h1m4 0h1m18 0h2m14 0h1m7 0h2m13 0h1m10 0h1m240 0h1m33 0h2m2 0h1m54 0h1m2 0h1m-451 1h1m3 0h2m9 0h1m10 0h1m6 0h1m3 0h1m23 0h2m11 0h3m4 0h1m6 0h2m2 0h1m54 0h1m191 0h1m32 0h1m28 0h1m26 0h1m9 0h2m15 0h1m-456 1h1m14 0h1m10 0h1m5 0h1m4 0h1m1 0h1m21 0h1m1 0h2m11 0h1m4 0h1m11 0h1m53 0h1m191 0h1m33 0h1m18 0h2m1 0h3m27 0h1m3 0h1m4 0h1m7 0h1m1 0h2m9 0h1m-451 1h1m1 0h1m4 0h1m3 0h1m14 0h1m20 0h1m1 0h1m27 0h1m4 0h1m6 0h1m8 0h1m34 0h1m241 0h2m2 0h1m4 0h1m5 0h1m1 0h1m7 0h1m7 0h1m12 0h2m11 0h3m-436 1h1m5 0h1m4 0h1m5 0h3m10 0h1m3 0h2m10 0h1m2 0h2m7 0h2m17 0h1m3 0h1m7 0h1m6 0h1m36 0h1m220 0h3m21 0h1m4 0h1m5 0h2m16 0h1m9 0h1m20 0h1m3 0h1m-450 1h1m4 0h1m3 0h1m1 0h1m4 0h1m1 0h1m1 0h1m3 0h2m3 0h2m3 0h1m1 0h1m3 0h1m6 0h1m4 0h1m2 0h1m1 0h1m1 0h2m13 0h2m4 0h2m11 0h3m5 0h1m7 0h1m215 0h2m8 0h1m13 0h1m14 0h1m2 0h2m22 0h1m6 0h1m1 0h1m6 0h1m3 0h1m1 0h1m4 0h1m5 0h1m5 0h2m5 0h1m18 0h1m5 0h1m-474 1h2m9 0h1m5 0h1m3 0h1m1 0h3m2 0h1m2 0h1m3 0h2m7 0h1m1 0h1m1 0h1m2 0h1m9 0h2m5 0h1m16 0h1m4 0h1m1 0h1m20 0h1m7 0h1m32 0h2m190 0h1m14 0h1m12 0h1m7 0h1m3 0h2m15 0h1m5 0h1m1 0h1m6 0h1m4 0h2m4 0h1m3 0h2m8 0h1m4 0h1m4 0h1m12 0h1m5 0h1m-481 1h1m12 0h1m15 0h2m2 0h1m18 0h1m2 0h2m4 0h1m2 0h1m3 0h2m7 0h1m12 0h1m17 0h2m6 0h1m8 0h3m221 0h1m43 0h1m2 0h1m3 0h1m7 0h2m1 0h1m1 0h2m1 0h2m1 0h2m9 0h1m7 0h1m3 0h1m15 0h1m-458 1h1m10 0h1m16 0h1m1 0h1m1 0h1m14 0h1m4 0h1m1 0h2m3 0h1m9 0h2m4 0h1m1 0h2m10 0h1m11 0h1m1 0h2m10 0h1m7 0h1m223 0h1m47 0h1m3 0h1m12 0h2m5 0h1m10 0h3m8 0h1m1 0h2m1 0h1m30 0h2m-469 1h1m1 0h1m6 0h1m1 0h1m9 0h1m4 0h1m4 0h2m8 0h1m4 0h2m3 0h1m4 0h1m3 0h1m7 0h1m5 0h1m7 0h1m6 0h1m6 0h1m2 0h1m1 0h1m1 0h1m3 0h1m45 0h2m183 0h1m12 0h1m7 0h2m36 0h1m3 0h1m1 0h2m6 0h1m10 0h1m2 0h1m1 0h2m5 0h1m6 0h1m4 0h1m2 0h1m3 0h1m4 0h1m2 0h2m-463 1h2m5 0h2m2 0h1m2 0h1m6 0h1m4 0h1m8 0h1m5 0h1m5 0h1m9 0h3m13 0h1m7 0h1m1 0h2m2 0h1m3 0h2m1 0h2m1 0h3m1 0h1m1 0h1m3 0h1m44 0h1m185 0h1m44 0h2m17 0h1m15 0h1m3 0h1m1 0h2m7 0h1m7 0h1m3 0h1m12 0h1m1 0h1m-485 1h1m16 0h2m6 0h1m3 0h4m1 0h1m5 0h1m4 0h1m6 0h2m1 0h2m1 0h1m12 0h1m12 0h1m1 0h1m1 0h1m2 0h1m5 0h1m5 0h1m6 0h3m2 0h1m2 0h1m3 0h1m1 0h1m51 0h1m227 0h1m10 0h1m12 0h1m2 0h2m1 0h1m12 0h1m7 0h1m2 0h1m2 0h2m2 0h1m13 0h1m3 0h1m2 0h1m5 0h1m-494 1h1m24 0h2m19 0h1m1 0h3m2 0h1m1 0h1m7 0h1m4 0h1m3 0h1m1 0h1m4 0h1m2 0h2m3 0h1m1 0h4m6 0h1m4 0h1m5 0h1m8 0h3m2 0h1m7 0h2m43 0h1m227 0h1m12 0h2m8 0h1m6 0h2m10 0h1m1 0h1m7 0h1m2 0h2m2 0h3m3 0h1m5 0h3m4 0h2m2 0h1m4 0h1m-457 1h1m7 0h1m1 0h1m1 0h1m11 0h1m4 0h2m30 0h2m2 0h1m10 0h3m12 0h1m2 0h1m1 0h2m4 0h1m3 0h1m251 0h1m5 0h3m15 0h1m2 0h1m3 0h2m1 0h1m6 0h1m13 0h1m2 0h1m1 0h1m3 0h1m4 0h1m2 0h3m9 0h2m1 0h1m1 0h2m6 0h1m-455 1h2m6 0h1m1 0h1m1 0h1m6 0h2m9 0h1m1 0h1m26 0h1m21 0h2m6 0h1m4 0h1m6 0h1m251 0h1m3 0h1m24 0h2m1 0h1m1 0h1m1 0h1m6 0h1m11 0h1m2 0h1m6 0h1m3 0h1m2 0h1m10 0h3m1 0h1m3 0h2m4 0h1m2 0h1m-479 1h1m2 0h1m5 0h2m2 0h1m3 0h2m1 0h1m4 0h1m1 0h1m4 0h1m1 0h1m2 0h2m5 0h1m3 0h2m3 0h2m1 0h3m5 0h1m5 0h1m2 0h2m12 0h1m5 0h4m1 0h1m1 0h1m2 0h1m13 0h1m5 0h1m3 0h1m34 0h1m203 0h1m5 0h2m6 0h1m9 0h1m6 0h2m2 0h1m4 0h1m4 0h1m3 0h1m1 0h1m11 0h1m3 0h1m4 0h2m4 0h1m8 0h2m7 0h1m2 0h1m6 0h1m12 0h1m-485 1h1m1 0h1m4 0h1m2 0h1m1 0h3m1 0h2m5 0h1m1 0h1m4 0h1m1 0h1m1 0h1m1 0h1m1 0h1m1 0h1m11 0h1m9 0h1m6 0h1m15 0h1m6 0h1m4 0h1m1 0h1m1 0h1m1 0h2m10 0h1m5 0h1m3 0h1m35 0h1m203 0h1m14 0h1m8 0h1m6 0h1m1 0h2m9 0h1m3 0h1m10 0h2m7 0h1m1 0h2m2 0h5m3 0h2m3 0h1m1 0h1m8 0h1m11 0h1m7 0h1m-471 1h1m7 0h3m1 0h1m1 0h1m5 0h2m12 0h1m7 0h1m13 0h1m8 0h1m7 0h1m6 0h1m4 0h1m1 0h2m1 0h1m9 0h1m8 0h1m1 0h2m7 0h1m235 0h2m7 0h1m6 0h1m11 0h2m4 0h1m5 0h1m4 0h1m5 0h1m14 0h1m3 0h1m1 0h2m8 0h3m9 0h1m10 0h2m7 0h1m-471 1h1m5 0h2m4 0h1m9 0h1m14 0h2m14 0h1m11 0h2m5 0h1m1 0h1m1 0h2m8 0h1m3 0h1m10 0h2m6 0h1m1 0h1m1 0h1m4 0h1m1 0h1m9 0h2m231 0h2m8 0h1m14 0h2m4 0h2m10 0h1m5 0h1m5 0h1m6 0h2m22 0h2m1 0h2m3 0h1m2 0h1m2 0h1m7 0h1m-503 1h1m19 0h1m7 0h1m2 0h1m2 0h1m1 0h1m3 0h1m6 0h1m6 0h1m29 0h1m18 0h1m7 0h1m15 0h1m6 0h1m264 0h2m6 0h2m2 0h1m3 0h1m3 0h1m4 0h3m1 0h1m7 0h1m1 0h2m1 0h1m6 0h1m16 0h1m7 0h2m5 0h1m2 0h3m3 0h2m1 0h1m1 0h1m-495 1h1m19 0h2m6 0h1m2 0h1m2 0h2m3 0h1m1 0h1m3 0h1m38 0h1m19 0h1m3 0h1m2 0h1m1 0h1m3 0h1m3 0h2m1 0h1m2 0h1m5 0h1m5 0h2m252 0h2m6 0h1m3 0h2m2 0h2m1 0h3m1 0h1m1 0h1m1 0h1m6 0h1m6 0h1m1 0h2m3 0h1m9 0h1m13 0h1m6 0h1m3 0h4m5 0h1m7 0h1m1 0h1m15 0h2m-492 1h2m17 0h1m1 0h1m4 0h1m10 0h1m43 0h1m1 0h2m8 0h1m260 0h1m5 0h2m5 0h1m11 0h1m6 0h1m1 0h1m1 0h1m34 0h1m4 0h1m2 0h1m18 0h1m6 0h1m2 0h1m7 0h1m11 0h1m-469 1h1m3 0h1m2 0h1m14 0h1m39 0h1m4 0h1m1 0h1m1 0h1m19 0h1m9 0h3m22 0h2m213 0h1m11 0h1m12 0h3m3 0h1m4 0h3m1 0h1m3 0h1m2 0h1m14 0h1m10 0h2m14 0h2m7 0h1m4 0h1m1 0h2m4 0h1m3 0h1m11 0h1m15 0h2m-508 1h2m5 0h1m4 0h2m3 0h1m11 0h2m6 0h1m5 0h1m59 0h1m1 0h1m1 0h1m4 0h2m6 0h1m2 0h1m11 0h1m7 0h1m234 0h1m6 0h1m4 0h1m1 0h2m1 0h1m39 0h4m2 0h1m16 0h1m2 0h2m7 0h2m4 0h1m11 0h1m-483 1h1m14 0h1m6 0h1m8 0h1m1 0h1m45 0h1m6 0h2m6 0h1m2 0h1m10 0h1m3 0h1m2 0h1m1 0h2m9 0h1m8 0h1m228 0h2m3 0h1m1 0h1m4 0h1m5 0h1m9 0h3m10 0h1m21 0h1m3 0h2m1 0h1m14 0h1m1 0h1m1 0h1m7 0h1m4 0h1m1 0h1m12 0h1m-486 1h2m10 0h2m1 0h1m6 0h2m7 0h2m54 0h1m4 0h1m3 0h1m11 0h4m6 0h1m3 0h1m5 0h1m243 0h1m7 0h1m4 0h2m4 0h1m11 0h1m1 0h1m1 0h1m5 0h1m16 0h1m4 0h1m16 0h1m2 0h1m2 0h1m4 0h1m15 0h1m22 0h1m-509 1h2m91 0h2m30 0h4m13 0h3m233 0h1m8 0h1m3 0h1m17 0h1m3 0h2m18 0h2m10 0h1m8 0h2m3 0h1m9 0h3m4 0h2m6 0h1m24 0h1m-519 1h1m14 0h1m11 0h2m8 0h2m65 0h1m5 0h1m2 0h1m14 0h1m2 0h1m6 0h1m1 0h1m12 0h1m212 0h1m12 0h1m1 0h2m6 0h2m1 0h1m8 0h1m11 0h1m3 0h1m5 0h1m2 0h1m1 0h1m6 0h1m1 0h1m22 0h1m4 0h1m13 0h1m8 0h1m6 0h1m8 0h1m-505 1h1m6 0h2m6 0h1m7 0h2m1 0h1m2 0h1m1 0h1m4 0h1m14 0h1m56 0h2m1 0h1m1 0h1m4 0h1m6 0h3m4 0h1m4 0h1m2 0h1m12 0h1m212 0h1m13 0h1m6 0h2m3 0h1m5 0h1m3 0h3m2 0h2m11 0h1m3 0h1m2 0h1m33 0h5m22 0h1m7 0h3m4 0h1m-494 1h1m8 0h1m6 0h1m1 0h3m19 0h1m58 0h2m5 0h2m4 0h1m2 0h1m1 0h1m3 0h1m13 0h2m1 0h1m5 0h3m6 0h1m214 0h1m12 0h1m7 0h1m1 0h1m1 0h1m6 0h2m4 0h1m2 0h1m20 0h1m11 0h1m11 0h1m23 0h1m-479 1h1m8 0h1m6 0h2m87 0h1m1 0h1m8 0h2m4 0h1m14 0h1m15 0h1m213 0h1m13 0h1m8 0h1m2 0h1m3 0h1m1 0h1m1 0h1m2 0h2m11 0h1m5 0h1m19 0h1m13 0h1m2 0h1m1 0h1m6 0h1m5 0h1m19 0h2m-510 1h2m1 0h1m10 0h1m9 0h1m6 0h1m13 0h1m53 0h1m7 0h2m9 0h1m10 0h2m2 0h1m229 0h1m6 0h1m15 0h1m7 0h2m3 0h1m7 0h1m8 0h1m2 0h1m1 0h1m15 0h1m16 0h1m19 0h1m2 0h2m4 0h1m13 0h1m12 0h1m15 0h2m-526 1h1m11 0h1m9 0h1m26 0h1m61 0h1m7 0h1m2 0h1m5 0h1m1 0h1m1 0h2m226 0h1m8 0h1m14 0h1m12 0h1m6 0h1m1 0h1m7 0h1m1 0h1m9 0h1m23 0h1m1 0h1m19 0h1m1 0h1m1 0h1m16 0h2m13 0h1m-506 1h1m7 0h1m11 0h1m7 0h1m1 0h2m6 0h2m1 0h2m59 0h1m5 0h1m2 0h1m5 0h1m3 0h2m3 0h1m8 0h3m232 0h1m26 0h1m3 0h1m1 0h1m40 0h1m10 0h1m18 0h1m3 0h1m10 0h2m1 0h1m6 0h1m11 0h2m-514 1h1m8 0h1m11 0h1m7 0h2m10 0h1m58 0h1m1 0h1m8 0h1m14 0h1m11 0h1m231 0h1m26 0h2m4 0h1m32 0h1m1 0h1m3 0h1m1 0h1m1 0h2m7 0h2m5 0h1m12 0h1m17 0h1m6 0h1m-500 1h2m6 0h1m10 0h2m1 0h1m4 0h1m1 0h1m1 0h1m5 0h2m2 0h1m57 0h1m5 0h1m10 0h1m3 0h1m1 0h1m3 0h1m248 0h1m1 0h1m4 0h1m2 0h1m9 0h1m2 0h1m9 0h1m2 0h1m23 0h1m18 0h1m9 0h1m2 0h1m1 0h1m12 0h1m1 0h3m5 0h1m2 0h1m15 0h1m-512 1h1m1 0h1m5 0h1m21 0h1m1 0h1m66 0h1m4 0h2m4 0h1m2 0h2m1 0h1m3 0h1m1 0h1m2 0h1m250 0h1m1 0h1m2 0h1m3 0h1m10 0h1m1 0h1m7 0h2m4 0h1m3 0h1m22 0h1m6 0h1m13 0h1m9 0h1m9 0h2m9 0h1m3 0h1m16 0h1m-502 1h1m16 0h1m3 0h2m6 0h2m57 0h2m9 0h2m1 0h1m6 0h1m1 0h1m1 0h1m7 0h1m266 0h2m2 0h1m4 0h1m7 0h2m23 0h1m1 0h1m13 0h1m9 0h1m1 0h1m1 0h1m8 0h3m2 0h1m6 0h1m30 0h2m-514 1h1m11 0h1m9 0h1m25 0h1m30 0h1m17 0h1m1 0h1m1 0h1m1 0h1m7 0h2m7 0h1m9 0h2m261 0h1m2 0h1m1 0h1m1 0h1m3 0h1m23 0h1m1 0h1m1 0h1m11 0h1m1 0h1m5 0h1m3 0h1m1 0h1m1 0h1m3 0h1m4 0h1m4 0h1m5 0h1m-489 1h2m2 0h2m10 0h2m79 0h1m2 0h1m7 0h1m1 0h1m7 0h1m6 0h1m23 0h1m236 0h1m1 0h1m1 0h1m1 0h2m6 0h1m3 0h1m22 0h1m5 0h1m1 0h1m1 0h1m1 0h1m1 0h1m21 0h1m1 0h2m1 0h1m5 0h1m7 0h2m-461 1h1m3 0h2m68 0h4m2 0h1m4 0h1m1 0h1m3 0h1m9 0h1m24 0h1m2 0h2m194 0h2m38 0h1m1 0h1m10 0h1m8 0h2m8 0h2m6 0h1m5 0h1m4 0h2m1 0h1m11 0h1m9 0h1m1 0h1m9 0h2m-480 1h3m3 0h1m9 0h1m3 0h3m1 0h1m8 0h2m65 0h1m5 0h5m9 0h1m2 0h1m4 0h2m4 0h1m245 0h1m3 0h1m9 0h1m10 0h1m1 0h1m1 0h2m5 0h1m5 0h3m12 0h1m43 0h1m10 0h2m-488 1h1m10 0h1m4 0h1m76 0h1m5 0h1m16 0h1m12 0h1m10 0h2m233 0h1m2 0h1m9 0h1m10 0h2m10 0h1m6 0h1m6 0h1m8 0h1m7 0h1m9 0h1m3 0h1m1 0h1m16 0h3m2 0h2m-472 1h1m3 0h1m8 0h1m4 0h1m63 0h1m5 0h1m21 0h1m21 0h1m229 0h3m15 0h1m8 0h1m1 0h2m1 0h1m9 0h1m1 0h1m1 0h1m2 0h1m3 0h1m3 0h1m21 0h1m3 0h1m1 0h1m8 0h2m6 0h2m4 0h2m2 0h2m2 0h1m1 0h1m-481 1h1m3 0h1m1 0h1m6 0h2m4 0h2m67 0h1m21 0h1m1 0h2m19 0h1m236 0h2m9 0h1m8 0h1m2 0h1m1 0h1m8 0h1m4 0h1m1 0h1m2 0h1m11 0h1m3 0h2m2 0h3m3 0h1m1 0h2m7 0h1m10 0h2m8 0h2m5 0h2m-505 1h2m5 0h1m6 0h1m6 0h1m4 0h1m1 0h1m3 0h2m10 0h1m36 0h1m16 0h1m6 0h1m7 0h2m4 0h2m9 0h1m3 0h1m1 0h3m229 0h1m36 0h1m11 0h2m11 0h2m1 0h1m5 0h1m3 0h1m3 0h1m2 0h4m6 0h1m4 0h1m1 0h1m2 0h1m5 0h1m7 0h1m1 0h1m5 0h2m-487 1h1m7 0h1m4 0h1m5 0h1m14 0h1m2 0h1m19 0h1m37 0h1m11 0h1m3 0h1m6 0h1m9 0h1m2 0h1m230 0h1m22 0h4m8 0h1m12 0h2m7 0h2m5 0h1m9 0h1m3 0h1m10 0h2m1 0h1m5 0h1m2 0h1m7 0h5m1 0h1m-463 1h1m6 0h1m3 0h1m6 0h1m4 0h2m22 0h1m1 0h1m15 0h1m1 0h1m14 0h1m13 0h1m2 0h1m3 0h1m1 0h1m2 0h2m3 0h1m3 0h1m268 0h1m1 0h2m4 0h2m1 0h1m3 0h1m4 0h1m1 0h1m2 0h1m7 0h1m3 0h1m1 0h1m5 0h1m5 0h1m2 0h1m4 0h2m6 0h1m7 0h1m1 0h2m-464 1h1m5 0h1m3 0h1m6 0h1m5 0h1m73 0h1m4 0h1m1 0h2m5 0h1m3 0h1m1 0h2m266 0h1m10 0h1m3 0h1m7 0h1m14 0h1m6 0h1m13 0h2m6 0h1m6 0h1m1 0h1m2 0h1m-463 1h1m4 0h2m4 0h1m1 0h2m11 0h1m19 0h1m17 0h1m5 0h1m17 0h2m6 0h1m1 0h3m2 0h1m6 0h1m6 0h2m236 0h1m4 0h1m1 0h1m23 0h2m25 0h1m8 0h1m2 0h2m2 0h1m1 0h1m28 0h2m2 0h1m2 0h1m5 0h1m1 0h1m-492 1h1m15 0h1m62 0h1m18 0h1m5 0h1m6 0h1m7 0h1m5 0h1m12 0h3m231 0h1m2 0h1m1 0h1m16 0h1m8 0h1m17 0h2m11 0h1m3 0h1m6 0h1m14 0h1m15 0h2m2 0h1m2 0h1m6 0h2m-494 1h1m23 0h1m1 0h1m20 0h1m2 0h2m31 0h1m3 0h2m4 0h2m7 0h1m1 0h1m8 0h1m1 0h2m15 0h1m2 0h1m1 0h1m1 0h2m248 0h2m20 0h1m2 0h1m11 0h1m6 0h1m2 0h1m8 0h1m3 0h4m6 0h1m3 0h1m23 0h1m-489 1h1m24 0h2m2 0h1m2 0h2m13 0h1m2 0h1m31 0h1m21 0h1m25 0h3m4 0h1m1 0h1m266 0h2m5 0h2m1 0h2m17 0h2m27 0h1m24 0h1m-488 1h1m7 0h2m5 0h1m2 0h1m4 0h1m1 0h2m22 0h1m2 0h1m15 0h1m9 0h1m10 0h2m1 0h1m1 0h1m2 0h1m2 0h1m5 0h1m13 0h1m4 0h1m9 0h1m258 0h1m12 0h1m4 0h1m10 0h1m2 0h1m1 0h1m5 0h2m1 0h1m5 0h1m1 0h2m4 0h1m12 0h1m2 0h1m2 0h1m27 0h1m2 0h1m-488 1h1m1 0h2m1 0h1m2 0h1m2 0h2m4 0h1m4 0h1m6 0h2m5 0h3m8 0h1m5 0h1m11 0h1m4 0h1m5 0h1m1 0h1m2 0h1m4 0h1m6 0h1m7 0h1m5 0h4m9 0h1m272 0h1m4 0h1m10 0h1m5 0h1m13 0h1m1 0h2m3 0h1m13 0h1m2 0h1m18 0h2m11 0h1m-493 1h2m4 0h1m1 0h1m2 0h2m3 0h1m7 0h1m1 0h1m8 0h1m8 0h1m28 0h1m10 0h1m3 0h1m1 0h1m3 0h1m3 0h1m1 0h1m10 0h2m278 0h2m8 0h2m15 0h1m3 0h1m3 0h1m8 0h1m33 0h2m2 0h1m-475 1h1m5 0h1m1 0h1m7 0h1m7 0h1m6 0h2m3 0h1m7 0h1m26 0h1m5 0h1m7 0h1m2 0h1m2 0h1m2 0h1m4 0h1m326 0h1m9 0h1m1 0h2m3 0h1m12 0h2m17 0h1m-464 1h1m4 0h1m14 0h1m1 0h1m1 0h2m2 0h1m1 0h3m15 0h1m6 0h1m5 0h1m1 0h1m8 0h1m1 0h1m4 0h3m4 0h1m5 0h2m6 0h1m2 0h1m6 0h1m274 0h1m4 0h1m22 0h3m22 0h1m6 0h1m15 0h1m2 0h1m-465 1h1m3 0h1m12 0h1m2 0h1m2 0h1m5 0h1m5 0h1m10 0h1m2 0h1m3 0h1m8 0h1m10 0h2m4 0h1m7 0h1m12 0h1m3 0h2m4 0h1m7 0h2m270 0h1m1 0h1m11 0h2m6 0h1m26 0h1m4 0h1m16 0h1m3 0h1m-474 1h2m5 0h1m3 0h2m3 0h1m3 0h1m3 0h1m1 0h1m4 0h3m1 0h1m1 0h1m2 0h1m1 0h1m2 0h1m1 0h2m4 0h1m7 0h1m12 0h1m1 0h1m4 0h1m1 0h2m1 0h1m8 0h1m16 0h4m282 0h1m1 0h2m41 0h1m10 0h2m7 0h1m-457 1h1m2 0h1m1 0h1m4 0h1m1 0h1m9 0h2m7 0h2m1 0h1m2 0h1m16 0h1m1 0h1m3 0h1m5 0h1m1 0h1m4 0h1m2 0h1m1 0h1m1 0h1m6 0h1m304 0h1m42 0h1m20 0h1m-464 1h1m6 0h1m6 0h1m3 0h1m1 0h2m1 0h1m3 0h2m1 0h1m1 0h1m3 0h1m3 0h2m1 0h1m8 0h1m2 0h1m1 0h1m2 0h1m3 0h1m1 0h3m8 0h1m5 0h3m1 0h3m4 0h3m11 0h1m7 0h1m268 0h1m11 0h1m14 0h2m9 0h1m6 0h2m28 0h1m26 0h1m-487 1h1m5 0h1m7 0h1m3 0h1m7 0h1m1 0h1m7 0h2m13 0h1m2 0h2m3 0h1m15 0h1m3 0h1m1 0h1m13 0h1m11 0h1m8 0h1m266 0h1m12 0h1m24 0h1m33 0h2m2 0h1m25 0h1m-477 1h2m2 0h1m2 0h1m8 0h1m10 0h1m1 0h1m4 0h1m5 0h1m4 0h1m2 0h1m1 0h1m2 0h1m5 0h1m4 0h1m3 0h1m5 0h1m5 0h1m4 0h4m1 0h1m1 0h2m258 0h1m19 0h1m20 0h1m52 0h1m22 0h1m-466 1h1m3 0h2m7 0h1m9 0h1m17 0h2m2 0h1m2 0h1m5 0h1m1 0h2m3 0h1m8 0h1m6 0h1m2 0h1m3 0h1m1 0h1m261 0h1m19 0h1m20 0h1m46 0h2m5 0h1m21 0h1m-463 1h2m8 0h1m2 0h1m16 0h1m10 0h1m5 0h1m14 0h1m1 0h1m3 0h1m18 0h2m234 0h2m61 0h1m42 0h1m23 0h1m66 0h1m-525 1h1m2 0h1m10 0h1m3 0h3m7 0h3m2 0h1m8 0h1m9 0h1m11 0h1m1 0h1m6 0h2m302 0h2m11 0h1m8 0h2m33 0h1m22 0h1m66 0h1m-554 1h1m24 0h1m2 0h2m12 0h1m1 0h1m13 0h1m1 0h1m5 0h1m4 0h2m2 0h2m2 0h1m10 0h1m5 0h1m1 0h1m9 0h1m7 0h1m2 0h1m6 0h2m303 0h1m6 0h1m42 0h1m-481 1h1m22 0h1m5 0h1m9 0h2m3 0h1m6 0h2m6 0h1m1 0h1m7 0h1m2 0h2m16 0h1m2 0h3m1 0h1m10 0h1m6 0h1m307 0h2m4 0h1m8 0h1m40 0h1m-450 1h1m18 0h1m1 0h1m5 0h2m3 0h1m8 0h1m1 0h2m2 0h2m1 0h1m4 0h1m13 0h1m10 0h1m8 0h1m302 0h1m9 0h1m19 0h1m-423 1h1m14 0h1m3 0h1m1 0h1m1 0h2m7 0h1m8 0h1m14 0h1m1 0h1m11 0h1m6 0h2m1 0h1m310 0h1m10 0h1m19 0h2m-432 1h1m9 0h1m13 0h2m20 0h1m7 0h1m9 0h1m2 0h1m9 0h1m30 0h1m240 0h2m19 0h1m-372 1h1m9 0h1m13 0h1m2 0h2m11 0h2m3 0h2m8 0h1m9 0h1m3 0h2m7 0h1m29 0h1m262 0h1m60 0h2m44 0h2m-491 1h1m5 0h1m14 0h1m1 0h1m5 0h2m7 0h1m7 0h1m2 0h1m11 0h2m5 0h2m5 0h1m354 0h1m4 0h1m5 0h3m4 0h1m-450 1h1m6 0h1m12 0h3m1 0h1m14 0h1m7 0h2m2 0h1m3 0h1m13 0h1m1 0h1m5 0h1m4 0h2m347 0h1m4 0h1m8 0h1m3 0h1m-463 1h1m18 0h1m34 0h1m5 0h1m1 0h1m4 0h1m14 0h1m16 0h1m1 0h2m11 0h1m312 0h1m76 0h1m-505 1h1m19 0h1m33 0h1m2 0h2m1 0h1m1 0h1m4 0h1m14 0h1m16 0h1m14 0h1m313 0h1m74 0h1m-479 1h1m16 0h2m17 0h1m2 0h1m15 0h1m12 0h1m7 0h2m4 0h2m280 0h2m32 0h1m3 0h1m-403 1h1m16 0h1m1 0h1m8 0h2m8 0h1m13 0h2m1 0h1m13 0h1m329 0h1m3 0h1m-421 1h1m17 0h1m27 0h1m12 0h1m4 0h1m4 0h3m15 0h1m2 0h1m30 0h1m327 0h2m-452 1h1m18 0h1m26 0h1m14 0h1m3 0h1m22 0h1m1 0h1m32 0h1m-128 1h1m25 0h1m19 0h1m10 0h1m8 0h1m19 0h1m-86 1h1m45 0h1m2 0h2m4 0h1m10 0h1m14 0h2m2 0h1m-78 1h1m14 0h2m40 0h1m78 0h1m273 0h1m24 0h1m-437 1h1m57 0h1m25 0h2m50 0h1m273 0h1m25 0h1m-387 1h1m12 0h1m6 0h2m6 0h1m6 0h2m335 0h1m54 0h1m-427 1h1m10 0h1m1 0h2m20 0h1m23 0h2m311 0h1m53 0h1m-460 1h2m24 0h1m5 0h1m8 0h1m56 0h2m320 0h1m62 0h1m-458 1h1m5 0h1m8 0h1m66 0h2m310 0h1m62 0h1m-489 1h1m23 0h1m6 0h2m2 0h2m6 0h2m37 0h1m-84 1h1m24 0h1m57 0h1m272 0h2m-308 1h2m-18 2h2m39 0h1m324 0h1m-389 1h2m60 0h1m326 0h1m-386 1h1m377 0h2m-379 1h1m9 1h1m18 0h1m-20 1h1m19 0h1m7 1h1m2 0h2m-6 1h1m-60 3h1m-1 1h1m44 1h1m-1 1h1m15 3h1m28 0h1m-30 1h1m28 0h1" stroke="#8c2a32" stroke-width="1" transform="translate(0,0.5)" shape-rendering="crispEdges"/><path d="M233 32h1m-4 1h4m2 1h1m-11 2h2m2 0h1m-4 1h1m3 0h1m342 3h2m27 0h1m-29 1h1m26 0h2m-30 7h2m6 0h1m9 0h2m4 0h2m-25 1h1m6 0h2m9 0h1m5 0h1m-395 1h1m16 0h2m-20 1h2m14 0h1m1 0h1m-15 1h2m2 0h1m3 0h1m2 0h1m4 0h1m1 0h1m349 0h2m5 0h1m6 0h2m-383 1h1m1 0h3m3 0h2m5 0h4m348 0h1m1 0h1m3 0h2m5 0h2m1 0h1m-384 1h1m15 0h1m2 0h2m6 0h2m336 0h1m3 0h4m1 0h1m2 0h2m1 0h2m2 0h2m5 0h2m-394 1h2m5 0h1m4 0h2m2 0h2m3 0h1m7 0h1m336 0h2m3 0h1m1 0h2m4 0h4m1 0h4m5 0h1m-394 1h2m10 0h1m3 0h5m1 0h4m332 0h2m6 0h2m2 0h1m2 0h1m1 0h2m1 0h2m2 0h1m1 0h2m-386 1h1m7 0h2m7 0h2m1 0h2m1 0h2m334 0h1m6 0h1m3 0h8m5 0h1m1 0h1m-384 1h1m1 0h3m1 0h2m6 0h3m1 0h1m4 0h3m337 0h1m18 0h1m2 0h1m1 0h1m2 0h1m-387 1h2m1 0h1m7 0h3m4 0h2m1 0h1m337 0h1m19 0h5m2 0h2m-384 1h1m1 0h4m1 0h1m344 0h1m1 0h2m3 0h2m15 0h1m2 0h1m-375 1h3m344 0h3m4 0h2m16 0h3m-26 1h1m24 0h1m-28 1h6m20 0h1m3 0h1m-33 1h2m5 0h1m22 0h1m1 0h1m-32 1h1m27 0h5m-38 1h2m3 0h3m1 0h1m28 0h1m-38 1h1m2 0h2m1 0h2m29 0h2m-35 2h1m-6 1h1m6 0h1m23 0h3m6 0h2m-42 1h2m5 0h1m25 0h1m6 0h1m-34 1h1m20 0h1m3 0h1m-4 1h1m-24 1h2m1 0h2m16 0h1m2 0h1m10 0h1m-35 1h2m1 0h1m15 0h1m13 0h2m-34 1h1m14 0h2m3 0h6m-26 1h2m11 0h3m4 0h1m1 0h1m1 0h1m-29 1h1m6 0h2m2 0h2m24 0h1m-38 1h2m6 0h6m22 0h2m-45 1h1m33 0h1m-36 1h2m8 0h1m23 0h2m-30 1h2m1 0h1m9 0h5m2 0h2m-22 1h1m1 0h2m2 0h1m5 0h2m1 0h1m1 0h1m2 0h1m1 0h1m-19 1h2m14 0h4m-19 1h2m13 0h1m2 0h1m-36 1h2m15 0h2m2 0h2m1 0h3m3 0h2m-33 1h1m1 0h2m15 0h7m1 0h2m3 0h1m-392 1h2m356 0h1m6 0h4m7 0h2m2 0h2m2 0h1m7 0h2m-394 1h1m357 0h2m4 0h2m1 0h3m6 0h1m3 0h1m3 0h2m7 0h1m-30 1h4m6 0h3m5 0h1m-18 1h2m8 0h3m4 0h2m-22 1h2m15 0h1m-18 1h1m15 0h2m-21 1h1m8 0h2m3 0h3m-18 1h2m9 0h1m2 0h2m1 0h1m1 0h1m-20 1h2m1 0h1m6 0h2m-11 1h3m7 0h2m-1 1h2m4 0h1m-7 1h1m-15 1h1m3 0h2m2 0h1m35 0h2m-46 1h2m2 0h1m3 0h2m35 0h1m-60 1h2m13 0h1m-15 1h1m12 0h2m0 1h2m-2 1h1m-3 1h2m28 0h2m-32 1h1m29 0h1m-36 1h2m7 0h4m10 0h1m-25 1h4m6 0h1m1 0h1m11 0h2m-37 1h1m17 0h1m2 0h1m10 0h1m-34 1h2m30 0h2m-24 1h1m-1 1h2m-9 1h1m26 0h2m-30 1h2m27 0h1m-35 1h1m6 0h1m7 0h2m-18 1h2m6 0h2m7 0h1m-12 1h3m3 0h1m6 0h1m2 0h2m14 0h1m-33 1h1m5 0h2m4 0h2m2 0h1m15 0h2m-38 1h2m16 0h1m7 0h2m-29 1h2m17 0h2m7 0h1m-22 1h2m-1 1h2m-1 1h2m4 0h2m-7 1h1m4 0h1m-18 1h1m9 0h1m1 0h1m-14 1h2m8 0h4m-16 1h2m6 0h1m4 0h2m29 0h2m20 0h2m-68 1h1m7 0h3m1 0h2m31 0h1m20 0h1m-63 1h1m3 0h2m1 0h2m5 0h1m5 0h2m-22 1h2m2 0h1m1 0h2m6 0h2m4 0h1m-25 1h2m2 0h2m2 0h1m-8 1h2m2 0h1m2 0h2m-17 1h1m4 0h3m4 0h1m-14 1h2m4 0h1m2 0h1m2 0h2m-6 1h5m3 0h2m12 0h1m1 0h4m12 0h2m-43 1h2m2 0h1m4 0h1m13 0h2m1 0h2m1 0h1m11 0h1m-79 1h2m3 0h1m20 0h4m2 0h2m2 0h2m1 0h1m6 0h2m13 0h5m1 0h1m-68 1h1m3 0h2m20 0h1m1 0h1m4 0h1m3 0h3m2 0h1m3 0h1m15 0h1m3 0h2m-90 1h2m4 0h4m2 0h1m3 0h2m5 0h1m16 0h2m2 0h1m5 0h1m1 0h3m4 0h1m1 0h4m5 0h2m4 0h2m-77 1h1m4 0h1m1 0h1m3 0h2m3 0h1m1 0h1m3 0h1m10 0h2m2 0h1m1 0h1m4 0h1m4 0h2m1 0h10m1 0h2m5 0h1m5 0h1m-414 1h2m15 0h1m334 0h2m1 0h2m20 0h1m4 0h1m5 0h1m2 0h1m8 0h2m4 0h2m8 0h2m16 0h1m13 0h2m-450 1h1m15 0h2m333 0h2m1 0h4m11 0h1m6 0h2m4 0h1m18 0h2m4 0h1m8 0h1m17 0h2m12 0h1m-121 1h1m2 0h1m4 0h2m3 0h2m10 0h1m1 0h1m1 0h2m4 0h2m3 0h1m1 0h1m5 0h1m8 0h1m1 0h1m2 0h3m4 0h1m2 0h1m3 0h6m2 0h2m-86 1h4m5 0h2m1 0h3m6 0h1m2 0h7m4 0h2m4 0h2m15 0h3m1 0h1m1 0h3m1 0h2m2 0h2m3 0h1m1 0h1m1 0h1m2 0h1m3 0h1m-395 1h1m11 0h1m27 0h2m263 0h1m2 0h2m6 0h2m7 0h1m4 0h1m1 0h2m31 0h3m1 0h1m4 0h1m1 0h1m5 0h2m2 0h1m12 0h1m-400 1h2m10 0h2m27 0h1m262 0h2m2 0h1m7 0h1m8 0h1m5 0h2m32 0h1m1 0h2m5 0h3m1 0h1m4 0h5m4 0h2m1 0h1m2 0h2m6 0h1m-428 1h1m2 0h1m10 0h1m4 0h1m2 0h1m2 0h1m11 0h1m6 0h1m2 0h1m9 0h2m2 0h2m6 0h2m2 0h1m259 0h4m5 0h2m9 0h1m41 0h2m5 0h1m4 0h1m4 0h1m4 0h1m8 0h1m22 0h2m-452 1h2m2 0h2m3 0h1m4 0h2m4 0h4m2 0h2m7 0h1m2 0h2m4 0h3m1 0h2m9 0h1m3 0h1m6 0h1m3 0h2m258 0h1m1 0h1m3 0h4m11 0h1m47 0h1m26 0h1m20 0h1m-453 1h2m10 0h1m4 0h2m1 0h5m5 0h1m3 0h1m4 0h2m3 0h1m2 0h2m2 0h2m2 0h3m4 0h1m1 0h1m5 0h7m259 0h3m1 0h2m61 0h1m1 0h1m1 0h1m1 0h2m5 0h1m-418 1h4m8 0h3m4 0h3m2 0h1m1 0h2m2 0h3m1 0h2m1 0h1m3 0h2m1 0h2m3 0h1m7 0h3m2 0h5m1 0h5m3 0h1m260 0h1m1 0h3m3 0h1m59 0h4m2 0h2m3 0h2m16 0h1m-453 1h2m11 0h1m2 0h2m2 0h2m8 0h1m8 0h1m2 0h1m3 0h4m3 0h1m2 0h1m2 0h3m2 0h2m6 0h2m2 0h2m4 0h3m3 0h1m1 0h2m6 0h2m1 0h1m1 0h1m240 0h4m8 0h1m4 0h1m51 0h2m12 0h3m8 0h2m6 0h2m1 0h1m6 0h3m-459 1h1m11 0h2m2 0h1m3 0h1m6 0h1m14 0h1m4 0h1m4 0h3m1 0h1m3 0h1m4 0h1m3 0h1m3 0h1m3 0h1m4 0h1m1 0h1m4 0h1m1 0h1m7 0h5m241 0h2m10 0h1m6 0h2m47 0h2m12 0h1m12 0h1m5 0h1m1 0h2m7 0h3m-455 1h1m3 0h1m2 0h2m4 0h1m2 0h1m13 0h1m6 0h1m9 0h1m2 0h1m2 0h1m1 0h1m2 0h1m2 0h1m1 0h4m2 0h6m2 0h2m12 0h1m1 0h3m233 0h2m13 0h1m3 0h2m76 0h7m2 0h2m2 0h1m11 0h2m-454 1h2m6 0h1m1 0h1m3 0h2m1 0h1m12 0h1m18 0h2m3 0h3m8 0h1m3 0h1m1 0h2m2 0h1m2 0h1m9 0h1m3 0h3m236 0h1m12 0h2m2 0h2m4 0h2m71 0h1m1 0h2m5 0h1m3 0h1m5 0h1m6 0h1m-446 1h2m3 0h2m39 0h3m3 0h1m4 0h3m1 0h1m4 0h1m3 0h1m1 0h7m11 0h1m234 0h1m13 0h3m4 0h1m73 0h3m1 0h1m5 0h2m4 0h1m-436 1h1m2 0h1m1 0h1m40 0h3m9 0h3m1 0h1m2 0h2m22 0h2m232 0h2m4 0h1m7 0h2m1 0h1m80 0h5m1 0h3m5 0h2m-444 1h2m8 0h2m42 0h1m12 0h1m4 0h1m1 0h1m2 0h2m3 0h1m1 0h2m10 0h2m232 0h2m2 0h1m1 0h4m3 0h2m1 0h2m80 0h1m1 0h3m3 0h2m5 0h1m4 0h2m6 0h2m-457 1h1m44 0h2m2 0h2m3 0h2m8 0h3m4 0h2m2 0h5m1 0h2m1 0h1m11 0h1m233 0h1m2 0h3m2 0h1m2 0h4m1 0h1m76 0h1m3 0h1m2 0h3m2 0h1m2 0h1m3 0h1m3 0h2m8 0h1m-468 1h1m1 0h1m6 0h1m5 0h1m1 0h3m36 0h2m2 0h1m7 0h1m3 0h1m3 0h1m9 0h1m1 0h1m1 0h6m249 0h6m2 0h1m2 0h3m66 0h1m1 0h2m3 0h1m1 0h1m3 0h1m2 0h1m1 0h2m1 0h2m8 0h2m-458 1h4m4 0h2m5 0h3m1 0h1m40 0h2m6 0h2m2 0h2m12 0h2m2 0h1m1 0h1m1 0h1m16 0h1m232 0h3m1 0h1m1 0h6m1 0h3m65 0h4m3 0h1m1 0h1m4 0h4m1 0h2m1 0h2m2 0h1m5 0h1m-467 1h3m12 0h3m5 0h2m2 0h1m41 0h1m5 0h1m1 0h2m2 0h2m9 0h1m2 0h2m4 0h1m1 0h1m2 0h1m4 0h1m9 0h2m236 0h6m2 0h2m66 0h1m15 0h3m1 0h2m1 0h1m-460 1h3m14 0h2m51 0h3m3 0h1m1 0h1m3 0h1m9 0h1m4 0h2m3 0h2m1 0h3m4 0h2m9 0h1m234 0h1m2 0h1m1 0h1m78 0h2m9 0h3m2 0h3m-464 1h1m15 0h1m2 0h1m54 0h1m6 0h2m5 0h1m16 0h3m1 0h3m11 0h1m231 0h2m2 0h1m5 0h1m88 0h1m1 0h1m1 0h1m3 0h3m4 0h2m7 0h1m-464 1h2m2 0h1m62 0h1m4 0h2m16 0h1m1 0h2m2 0h2m1 0h1m240 0h1m1 0h1m1 0h2m4 0h2m86 0h2m1 0h3m5 0h1m5 0h1m6 0h2m-464 1h1m7 0h1m1 0h1m50 0h7m18 0h1m3 0h2m1 0h1m1 0h1m2 0h1m2 0h1m2 0h2m3 0h1m228 0h2m1 0h1m3 0h1m1 0h1m1 0h1m81 0h1m1 0h1m5 0h1m3 0h1m1 0h1m2 0h1m2 0h1m3 0h1m2 0h2m-457 1h1m2 0h1m2 0h3m51 0h1m1 0h2m1 0h2m16 0h2m2 0h1m1 0h4m2 0h2m4 0h1m3 0h2m228 0h1m2 0h1m3 0h1m2 0h2m4 0h2m74 0h2m1 0h1m4 0h2m2 0h3m3 0h4m2 0h2m2 0h1m2 0h1m-466 1h3m1 0h1m1 0h2m2 0h1m4 0h2m51 0h1m1 0h1m4 0h4m15 0h1m247 0h2m6 0h1m1 0h2m4 0h2m75 0h1m3 0h1m1 0h9m2 0h4m3 0h2m1 0h1m1 0h1m-465 1h1m3 0h2m1 0h1m3 0h1m3 0h2m51 0h4m2 0h1m19 0h2m1 0h1m1 0h1m243 0h1m94 0h1m3 0h1m2 0h2m1 0h1m3 0h1m5 0h1m1 0h2m2 0h2m-483 1h1m15 0h1m19 0h1m48 0h3m7 0h2m6 0h2m10 0h1m2 0h2m336 0h1m1 0h1m7 0h1m2 0h2m18 0h1m-491 1h2m14 0h2m11 0h1m7 0h1m46 0h2m1 0h4m5 0h1m7 0h1m11 0h2m2 0h3m244 0h1m88 0h2m8 0h3m2 0h1m18 0h2m-474 1h2m6 0h3m55 0h1m4 0h1m3 0h1m13 0h1m4 0h2m1 0h3m14 0h1m223 0h2m9 0h2m1 0h3m83 0h3m4 0h1m2 0h1m3 0h4m7 0h1m-463 1h1m6 0h1m1 0h2m62 0h1m19 0h1m4 0h1m239 0h1m7 0h6m1 0h1m85 0h3m6 0h1m5 0h1m6 0h2m-456 1h3m1 0h1m61 0h1m4 0h1m2 0h1m2 0h1m16 0h4m237 0h1m2 0h2m1 0h3m2 0h2m84 0h1m1 0h2m1 0h3m1 0h1m4 0h2m12 0h3m-462 1h3m1 0h1m50 0h2m9 0h1m2 0h2m2 0h4m16 0h1m1 0h1m237 0h2m2 0h1m4 0h3m86 0h3m1 0h3m1 0h2m5 0h1m13 0h3m-466 1h2m6 0h1m51 0h2m2 0h2m25 0h1m3 0h1m10 0h2m232 0h2m3 0h1m1 0h1m79 0h1m3 0h5m2 0h2m9 0h1m22 0h2m-480 1h1m6 0h1m5 0h2m70 0h1m2 0h2m2 0h1m3 0h2m1 0h3m11 0h1m231 0h2m4 0h3m79 0h1m3 0h2m1 0h1m3 0h1m6 0h1m3 0h1m23 0h1m-494 1h2m1 0h1m22 0h2m56 0h2m14 0h1m1 0h2m9 0h1m238 0h2m4 0h1m6 0h2m1 0h1m6 0h1m76 0h1m1 0h2m10 0h2m9 0h1m6 0h2m-486 1h1m1 0h2m13 0h1m6 0h1m2 0h1m56 0h1m1 0h2m14 0h1m9 0h2m10 0h2m227 0h1m4 0h2m4 0h5m6 0h2m75 0h1m2 0h1m2 0h1m5 0h2m10 0h2m7 0h1m-478 1h1m9 0h2m3 0h1m2 0h1m57 0h1m2 0h3m6 0h1m10 0h1m256 0h1m2 0h1m84 0h2m1 0h2m5 0h2m5 0h1m4 0h2m-468 1h2m4 0h1m4 0h1m2 0h2m2 0h1m53 0h2m2 0h4m1 0h2m5 0h2m8 0h2m255 0h4m87 0h4m2 0h1m1 0h1m5 0h1m6 0h1m-463 1h1m2 0h4m2 0h2m60 0h1m5 0h1m4 0h1m28 0h2m227 0h1m2 0h2m4 0h4m3 0h2m88 0h1m2 0h1m1 0h1m3 0h1m23 0h1m-477 1h1m1 0h1m2 0h2m57 0h2m2 0h2m4 0h2m2 0h2m22 0h1m6 0h1m226 0h2m3 0h1m3 0h1m1 0h2m3 0h1m1 0h1m87 0h1m6 0h1m2 0h1m23 0h2m-504 1h2m10 0h2m11 0h3m1 0h1m1 0h1m4 0h3m1 0h1m53 0h2m3 0h2m24 0h1m1 0h1m231 0h1m3 0h3m4 0h3m1 0h1m1 0h1m5 0h1m76 0h1m3 0h2m1 0h2m3 0h1m6 0h4m2 0h1m3 0h1m-489 1h1m12 0h1m10 0h2m2 0h4m5 0h2m53 0h3m3 0h4m22 0h2m232 0h2m5 0h1m4 0h1m3 0h4m5 0h1m74 0h1m4 0h2m5 0h2m5 0h1m1 0h1m1 0h1m6 0h2m-484 1h1m9 0h2m5 0h2m1 0h2m2 0h1m4 0h3m51 0h2m2 0h3m1 0h2m5 0h2m8 0h2m8 0h2m240 0h1m13 0h3m88 0h1m6 0h2m2 0h1m1 0h2m-480 1h2m8 0h1m5 0h3m6 0h1m2 0h2m7 0h1m44 0h1m1 0h5m1 0h3m5 0h1m9 0h1m9 0h1m241 0h2m14 0h2m12 0h2m72 0h2m1 0h1m4 0h1m3 0h1m2 0h1m-463 1h1m4 0h2m2 0h2m7 0h1m1 0h1m44 0h1m5 0h1m4 0h3m3 0h3m10 0h4m2 0h2m4 0h1m233 0h2m12 0h1m3 0h2m5 0h1m6 0h1m84 0h1m-449 1h1m6 0h1m2 0h1m50 0h2m2 0h3m6 0h1m9 0h1m1 0h1m1 0h1m2 0h1m239 0h1m13 0h1m10 0h1m5 0h2m65 0h2m-460 1h1m21 0h1m4 0h5m4 0h1m54 0h1m2 0h1m8 0h1m1 0h1m275 0h1m73 0h1m1 0h3m2 0h3m4 0h1m6 0h1m-477 1h2m20 0h1m3 0h2m3 0h3m2 0h2m52 0h1m13 0h2m16 0h1m248 0h1m1 0h1m7 0h1m72 0h5m1 0h2m1 0h2m3 0h2m6 0h2m-466 1h2m9 0h1m1 0h3m2 0h2m1 0h5m46 0h1m4 0h1m4 0h1m23 0h2m5 0h1m247 0h1m7 0h1m72 0h2m3 0h1m2 0h2m6 0h1m-458 1h1m8 0h2m1 0h2m1 0h3m1 0h2m1 0h2m48 0h1m3 0h1m28 0h1m5 0h2m247 0h1m6 0h2m72 0h1m3 0h2m3 0h1m6 0h2m-466 1h1m1 0h2m13 0h3m2 0h1m6 0h1m46 0h3m2 0h3m1 0h1m6 0h2m2 0h1m5 0h1m11 0h2m217 0h1m25 0h1m4 0h2m2 0h1m4 0h3m68 0h6m1 0h1m1 0h5m-458 1h3m15 0h1m3 0h2m4 0h1m49 0h3m1 0h1m1 0h2m7 0h1m2 0h2m4 0h2m10 0h1m217 0h2m24 0h2m4 0h1m3 0h1m3 0h1m2 0h1m67 0h2m1 0h1m1 0h1m5 0h1m2 0h1m-438 1h1m3 0h2m50 0h1m1 0h1m1 0h2m12 0h3m37 0h2m233 0h2m3 0h3m60 0h4m3 0h4m2 0h1m2 0h2m9 0h2m14 0h2m-462 1h2m3 0h1m1 0h1m48 0h1m1 0h3m4 0h1m8 0h1m39 0h1m235 0h2m65 0h1m1 0h1m7 0h1m2 0h6m9 0h1m14 0h1m-481 1h2m10 0h4m8 0h1m2 0h3m1 0h1m3 0h1m44 0h1m5 0h1m263 0h2m6 0h2m13 0h1m1 0h1m70 0h5m14 0h1m7 0h1m9 0h1m-484 1h1m11 0h1m1 0h1m2 0h2m5 0h4m1 0h3m2 0h4m313 0h1m6 0h1m1 0h1m25 0h1m59 0h1m1 0h1m1 0h2m2 0h2m2 0h1m5 0h2m6 0h2m8 0h2m-486 1h4m5 0h1m7 0h1m5 0h1m3 0h1m5 0h2m1 0h1m2 0h1m37 0h2m1 0h1m6 0h1m2 0h2m31 0h1m238 0h2m4 0h1m6 0h1m12 0h1m58 0h7m1 0h1m4 0h2m14 0h2m-478 1h1m1 0h1m5 0h2m12 0h2m2 0h1m3 0h1m3 0h8m4 0h1m30 0h1m1 0h2m5 0h2m3 0h1m30 0h2m238 0h1m5 0h2m4 0h4m2 0h1m3 0h2m52 0h2m8 0h1m1 0h1m2 0h2m5 0h1m16 0h1m-460 1h3m5 0h1m1 0h2m2 0h5m3 0h2m4 0h2m30 0h3m3 0h2m24 0h1m222 0h1m34 0h2m5 0h1m1 0h1m1 0h1m1 0h1m3 0h1m66 0h2m1 0h1m1 0h1m16 0h2m-458 1h1m9 0h1m2 0h2m1 0h1m1 0h2m8 0h1m32 0h1m5 0h1m24 0h2m221 0h1m34 0h1m5 0h4m2 0h1m71 0h1m1 0h2m14 0h2m3 0h1m-472 1h2m4 0h4m5 0h1m2 0h2m6 0h1m2 0h6m7 0h2m27 0h1m1 0h3m5 0h1m7 0h1m4 0h2m260 0h1m14 0h1m52 0h1m14 0h1m1 0h3m4 0h1m1 0h1m4 0h1m2 0h2m5 0h1m5 0h1m14 0h1m-487 1h1m5 0h1m2 0h1m4 0h2m2 0h1m7 0h4m1 0h1m1 0h2m4 0h1m31 0h4m5 0h2m7 0h1m5 0h1m260 0h2m12 0h3m2 0h1m3 0h1m2 0h2m14 0h1m24 0h2m10 0h1m2 0h1m1 0h2m1 0h1m4 0h4m7 0h1m10 0h2m14 0h2m-475 1h1m9 0h1m1 0h1m1 0h3m2 0h4m4 0h1m27 0h2m4 0h5m9 0h1m33 0h2m222 0h1m26 0h3m2 0h3m1 0h2m3 0h1m11 0h1m35 0h1m1 0h2m1 0h1m1 0h4m1 0h1m2 0h2m22 0h1m-451 1h5m4 0h1m1 0h1m2 0h1m2 0h1m22 0h2m6 0h1m2 0h1m1 0h1m45 0h1m222 0h2m24 0h3m4 0h3m4 0h1m47 0h2m2 0h2m2 0h1m1 0h1m1 0h1m3 0h1m23 0h2m-485 1h1m18 0h2m15 0h1m2 0h1m2 0h2m3 0h3m1 0h1m21 0h1m2 0h5m4 0h2m4 0h2m276 0h2m6 0h2m6 0h2m1 0h1m1 0h1m13 0h2m10 0h2m12 0h4m9 0h2m18 0h1m-465 1h2m18 0h1m15 0h2m2 0h1m1 0h3m4 0h5m2 0h1m16 0h3m1 0h1m1 0h1m1 0h1m5 0h1m4 0h1m19 0h1m257 0h1m7 0h1m7 0h1m1 0h2m1 0h1m8 0h2m15 0h1m15 0h1m11 0h1m18 0h2m-436 1h1m1 0h2m4 0h5m6 0h1m3 0h1m2 0h1m1 0h1m1 0h1m4 0h2m7 0h1m4 0h2m4 0h1m10 0h2m6 0h1m275 0h2m4 0h2m4 0h1m1 0h1m5 0h1m1 0h1m14 0h1m25 0h2m3 0h1m7 0h1m11 0h1m-452 1h1m12 0h1m1 0h1m3 0h1m4 0h1m1 0h1m4 0h2m6 0h4m1 0h1m4 0h1m11 0h2m3 0h4m3 0h1m6 0h1m6 0h2m274 0h1m5 0h1m7 0h4m3 0h1m1 0h1m4 0h1m30 0h1m2 0h1m5 0h2m18 0h2m-452 1h1m11 0h1m5 0h3m1 0h1m3 0h7m5 0h5m5 0h2m14 0h6m1 0h1m18 0h2m253 0h1m22 0h2m15 0h2m3 0h2m17 0h4m1 0h1m5 0h2m2 0h2m2 0h3m3 0h1m3 0h2m42 0h2m-472 1h2m5 0h3m6 0h1m1 0h1m1 0h1m5 0h1m1 0h1m1 0h2m9 0h1m11 0h2m2 0h1m20 0h1m277 0h1m11 0h1m3 0h2m1 0h1m23 0h3m1 0h1m4 0h1m6 0h2m1 0h3m1 0h3m2 0h1m43 0h1m-498 1h2m20 0h2m3 0h2m2 0h1m6 0h2m9 0h1m1 0h1m2 0h1m2 0h2m6 0h4m5 0h2m14 0h2m285 0h1m4 0h2m13 0h6m25 0h1m4 0h1m1 0h2m3 0h1m1 0h3m3 0h1m2 0h3m19 0h1m-473 1h1m21 0h1m2 0h4m7 0h2m14 0h3m1 0h2m6 0h2m1 0h1m6 0h1m15 0h1m284 0h2m5 0h1m7 0h1m5 0h1m1 0h2m27 0h2m3 0h5m2 0h3m7 0h2m1 0h1m18 0h2m-474 1h1m1 0h2m24 0h1m5 0h3m1 0h1m3 0h2m2 0h2m2 0h1m2 0h1m2 0h1m6 0h3m1 0h1m1 0h1m2 0h3m7 0h2m18 0h2m8 0h2m238 0h2m22 0h1m11 0h2m2 0h1m1 0h4m1 0h3m7 0h2m16 0h3m2 0h6m5 0h1m-444 1h3m25 0h2m5 0h3m5 0h1m2 0h1m4 0h3m2 0h2m4 0h1m3 0h6m1 0h1m9 0h1m19 0h1m9 0h1m239 0h1m22 0h2m11 0h1m7 0h1m2 0h1m8 0h2m4 0h1m11 0h2m1 0h2m1 0h1m1 0h1m1 0h1m3 0h3m-434 1h1m9 0h2m2 0h1m3 0h2m1 0h1m2 0h2m7 0h2m2 0h1m3 0h3m3 0h2m4 0h1m1 0h5m1 0h5m2 0h1m279 0h2m8 0h2m14 0h1m3 0h1m3 0h2m2 0h2m2 0h7m4 0h1m2 0h1m3 0h3m5 0h1m3 0h2m4 0h1m5 0h1m9 0h2m2 0h2m-448 1h2m9 0h1m2 0h2m2 0h1m1 0h2m3 0h1m8 0h4m2 0h3m3 0h1m1 0h2m2 0h1m1 0h2m1 0h2m1 0h2m1 0h2m3 0h2m278 0h1m10 0h1m14 0h2m2 0h2m3 0h1m3 0h1m3 0h1m2 0h1m1 0h1m3 0h1m6 0h2m2 0h1m8 0h1m11 0h2m4 0h1m3 0h1m3 0h1m-432 1h1m5 0h4m1 0h2m3 0h1m5 0h1m1 0h1m2 0h3m1 0h2m14 0h2m5 0h3m306 0h2m4 0h3m3 0h1m12 0h1m1 0h5m3 0h2m5 0h1m15 0h2m3 0h1m5 0h1m-434 1h2m4 0h2m1 0h1m6 0h2m4 0h4m3 0h1m3 0h1m14 0h1m7 0h1m308 0h1m4 0h1m1 0h1m3 0h2m6 0h2m3 0h3m1 0h2m4 0h3m4 0h1m3 0h2m2 0h1m7 0h1m3 0h2m4 0h2m-430 1h2m15 0h1m4 0h2m8 0h2m6 0h2m5 0h1m292 0h2m25 0h2m3 0h2m2 0h4m1 0h1m4 0h1m4 0h2m3 0h1m3 0h2m7 0h4m2 0h1m2 0h2m-419 1h1m21 0h1m6 0h1m2 0h1m7 0h1m2 0h4m292 0h1m27 0h3m1 0h1m3 0h1m5 0h2m2 0h3m3 0h2m2 0h2m3 0h1m6 0h3m1 0h4m2 0h1m-404 1h1m7 0h1m16 0h2m5 0h2m5 0h1m43 0h1m265 0h2m2 0h2m1 0h1m4 0h2m4 0h2m4 0h2m3 0h1m2 0h2m8 0h2m24 0h1m-419 1h2m6 0h2m17 0h1m4 0h4m3 0h3m42 0h2m265 0h1m3 0h3m4 0h1m5 0h1m1 0h1m4 0h1m2 0h2m3 0h2m8 0h1m24 0h2m-452 1h2m25 0h1m12 0h2m16 0h1m3 0h1m8 0h1m304 0h2m2 0h2m2 0h2m2 0h1m9 0h2m2 0h4m2 0h2m10 0h3m1 0h2m8 0h2m-435 1h1m24 0h2m11 0h2m17 0h3m9 0h2m304 0h1m3 0h1m4 0h1m2 0h2m9 0h1m3 0h1m1 0h1m2 0h1m6 0h1m4 0h1m3 0h1m10 0h1m-458 1h2m41 0h1m8 0h1m8 0h1m21 0h1m298 0h2m32 0h2m1 0h1m8 0h3m15 0h1m3 0h2m8 0h2m-461 1h1m40 0h2m8 0h2m6 0h2m20 0h2m299 0h1m33 0h4m8 0h1m15 0h3m3 0h1m9 0h1m-414 1h2m8 0h2m8 0h2m12 0h2m303 0h1m19 0h1m11 0h1m1 0h1m15 0h3m4 0h2m-398 1h1m9 0h1m10 0h1m12 0h1m303 0h2m18 0h2m12 0h2m14 0h2m1 0h1m4 0h1m-411 1h1m3 0h2m14 0h1m38 0h1m308 0h2m3 0h1m-374 1h2m3 0h1m14 0h2m36 0h2m309 0h1m2 0h2m-368 1h2m12 0h8m324 0h2m22 0h2m34 0h1m6 0h1m-413 1h1m13 0h1m1 0h1m1 0h2m325 0h1m23 0h1m35 0h2m4 0h2m-410 1h2m20 0h1m1 0h2m32 0h1m323 0h1m4 0h1m-388 1h1m21 0h3m33 0h2m322 0h2m2 0h2m-8 1h2m-1 1h1m-366 1h2m373 0h1m-376 1h1m373 0h2m-25 1h1m30 0h1m7 0h2m-42 1h2m30 0h2m7 0h1m13 3h1m-2 1h2m-376 1h2m-1 1h1m408 3h2m-2 1h1m-443 1h1m-1 1h2m6 3h2m-1 1h1m104 105h2m362 0h2m-366 1h1m363 0h1m-369 1h3m5 0h1m355 0h1m1 0h2m2 0h1m-370 1h3m4 0h3m353 0h2m1 0h1m2 0h2m-380 1h1m1 0h2m1 0h2m3 0h1m3 0h2m1 0h6m339 0h1m10 0h3m1 0h1m3 0h1m-382 1h2m1 0h5m2 0h5m1 0h3m1 0h1m1 0h1m339 0h2m10 0h1m1 0h2m2 0h2m-390 1h1m1 0h2m4 0h1m2 0h1m2 0h3m1 0h2m16 0h1m6 0h1m326 0h2m2 0h5m7 0h3m3 0h1m-393 1h2m1 0h1m2 0h1m1 0h4m2 0h1m1 0h1m1 0h1m17 0h2m4 0h2m326 0h1m4 0h2m1 0h4m6 0h2m2 0h2m-386 1h3m2 0h1m1 0h1m9 0h2m6 0h1m341 0h1m17 0h1m-386 1h1m1 0h6m9 0h2m3 0h2m2 0h2m329 0h1m3 0h1m20 0h4m-388 1h6m3 0h1m11 0h1m4 0h2m4 0h1m301 0h1m11 0h2m1 0h1m7 0h1m4 0h3m23 0h2m-388 1h1m1 0h1m3 0h2m2 0h2m18 0h2m300 0h2m10 0h1m1 0h2m6 0h2m2 0h2m1 0h1m24 0h1m-391 1h2m3 0h1m2 0h1m1 0h2m2 0h1m17 0h3m308 0h1m11 0h1m2 0h1m6 0h1m-365 1h1m2 0h2m2 0h3m9 0h2m10 0h1m1 0h2m308 0h1m42 0h1m-386 1h1m1 0h3m2 0h1m10 0h2m320 0h2m3 0h2m37 0h4m-388 1h3m1 0h4m2 0h2m2 0h1m19 0h1m300 0h1m4 0h1m4 0h2m37 0h1m2 0h1m-384 1h2m3 0h3m2 0h3m5 0h3m1 0h3m299 0h1m6 0h1m4 0h2m27 0h2m14 0h1m-382 1h1m1 0h5m5 0h1m3 0h3m1 0h3m301 0h1m6 0h1m18 0h2m5 0h1m6 0h1m1 0h1m10 0h1m2 0h2m-381 1h1m1 0h1m2 0h3m2 0h1m5 0h1m1 0h3m298 0h2m2 0h2m4 0h2m6 0h1m10 0h5m2 0h2m3 0h2m1 0h2m8 0h3m1 0h1m-379 1h4m2 0h1m3 0h2m6 0h3m300 0h1m3 0h1m5 0h3m10 0h2m3 0h1m1 0h1m4 0h1m4 0h3m1 0h1m9 0h1m-376 1h2m16 0h3m289 0h2m18 0h1m1 0h1m1 0h2m1 0h1m6 0h3m7 0h2m10 0h1m4 0h1m-372 1h1m18 0h1m290 0h1m19 0h4m10 0h1m9 0h1m-29 1h1m1 0h1m-3 1h4m22 11h2m-1 1h1m0 3h1m-1 1h2m-1 1h1m-2 1h2m-9 3h1m-2 1h2m-10 1h1m-1 1h2m4 1h1m1 0h2m-4 1h3m-9 1h2m-1 1h1m-2 1h2m2 0h3m-6 1h1m2 0h1m1 0h2m-12 1h2m1 0h6m1 0h1m-11 1h1m1 0h3m1 0h1m3 0h2m-12 1h2m2 0h4m-7 1h1m2 0h1m1 0h1m-8 1h1m4 0h1m-7 1h2m-1 1h1m3 0h3m-8 1h2m4 0h1m-9 6h1m-2 1h1m-14 2h2m-1 1h1m6 1h2m4 0h2m-7 1h1m3 0h2m-13 1h2m8 0h1m-10 1h1m8 0h2m-354 1h1m349 0h1m1 0h1m3 0h2m1 0h1m-360 1h2m348 0h4m2 0h1m1 0h2m-31 3h1m13 0h1m10 0h2m-28 1h2m12 0h2m11 0h1m-363 3h1m335 0h1m5 0h1m6 0h2m-352 1h2m340 0h2m6 0h1m-302 3h1m290 0h2m4 0h2m-300 1h2m291 0h1m5 0h1m3 1h1m-2 1h2m-18 1h2m3 0h4m1 0h1m3 0h1m-14 1h1m2 0h3m1 0h4m2 0h2m-378 3h1m27 0h2m316 0h2m16 0h1m21 0h1m-387 1h2m27 0h1m316 0h1m17 0h2m1 0h1m18 0h2m-41 1h1m18 0h2m2 0h4m10 0h3m-41 1h2m18 0h1m3 0h1m2 0h1m10 0h1m-431 1h2m11 0h1m7 0h1m31 0h1m330 0h4m29 0h3m-419 1h1m10 0h2m38 0h2m331 0h1m1 0h1m30 0h1m-423 1h2m2 0h2m14 0h2m6 0h2m2 0h1m27 0h2m348 0h2m3 0h1m12 0h2m2 0h2m-433 1h1m2 0h1m16 0h1m6 0h1m3 0h2m27 0h1m349 0h1m2 0h2m12 0h1m4 0h1m-403 1h1m7 0h1m31 0h1m287 0h1m44 0h1m5 0h1m13 0h2m-396 1h2m6 0h2m30 0h2m286 0h2m44 0h3m3 0h2m13 0h2m-441 1h2m20 0h2m6 0h2m15 0h1m4 0h2m27 0h1m289 0h1m48 0h2m23 0h1m-445 1h1m20 0h1m6 0h1m1 0h1m14 0h2m5 0h1m26 0h2m288 0h2m49 0h1m22 0h2m-460 1h2m26 0h1m13 0h2m4 0h2m9 0h2m6 0h1m6 0h1m1 0h1m4 0h1m8 0h1m19 0h2m242 0h2m41 0h1m2 0h2m13 0h1m4 0h2m2 0h2m14 0h4m15 0h3m-462 1h1m27 0h2m11 0h1m1 0h1m4 0h1m8 0h3m6 0h2m6 0h4m2 0h2m8 0h2m18 0h1m244 0h1m40 0h2m3 0h1m12 0h2m5 0h1m2 0h1m16 0h1m1 0h1m17 0h1m-444 1h1m5 0h2m17 0h1m3 0h2m7 0h2m24 0h2m38 0h2m215 0h1m70 0h2m10 0h2m1 0h1m5 0h1m2 0h2m12 0h1m6 0h1m-442 1h1m3 0h3m4 0h1m20 0h2m8 0h1m25 0h1m39 0h1m215 0h2m70 0h1m11 0h1m1 0h3m4 0h1m3 0h1m12 0h2m4 0h2m-454 1h4m6 0h1m8 0h1m9 0h2m6 0h1m11 0h2m3 0h6m5 0h1m4 0h2m9 0h1m16 0h2m266 0h1m28 0h1m18 0h1m5 0h1m1 0h1m1 0h2m2 0h1m13 0h1m5 0h2m-449 1h1m1 0h1m6 0h2m6 0h2m8 0h4m4 0h2m10 0h4m2 0h1m2 0h1m1 0h1m4 0h2m5 0h1m8 0h2m17 0h1m266 0h2m26 0h2m18 0h2m4 0h2m3 0h1m2 0h2m12 0h2m3 0h1m1 0h1m-432 1h2m12 0h1m3 0h1m3 0h1m8 0h3m3 0h5m6 0h3m11 0h2m17 0h1m2 0h3m289 0h2m2 0h2m2 0h1m6 0h1m2 0h3m21 0h1m12 0h3m5 0h2m1 0h2m2 0h2m-448 1h1m13 0h3m1 0h2m2 0h2m8 0h1m5 0h1m2 0h1m5 0h2m1 0h2m10 0h1m5 0h1m11 0h2m2 0h1m1 0h2m289 0h1m1 0h1m1 0h1m2 0h2m3 0h3m2 0h1m9 0h1m13 0h2m11 0h1m1 0h1m4 0h5m4 0h1m-474 1h2m28 0h2m4 0h2m2 0h3m1 0h2m6 0h2m2 0h3m1 0h3m2 0h2m3 0h1m2 0h1m13 0h1m2 0h1m37 0h1m261 0h3m11 0h1m9 0h3m15 0h1m9 0h1m2 0h1m10 0h2m1 0h1m6 0h1m1 0h1m-469 1h1m30 0h1m5 0h1m3 0h3m1 0h1m5 0h2m1 0h1m1 0h1m2 0h2m1 0h2m2 0h3m1 0h4m5 0h1m10 0h2m36 0h2m261 0h3m9 0h3m7 0h1m1 0h3m7 0h1m5 0h4m7 0h4m11 0h3m6 0h2m-444 1h1m4 0h1m1 0h3m2 0h3m5 0h2m5 0h2m1 0h1m2 0h4m6 0h1m1 0h1m1 0h2m2 0h8m3 0h1m7 0h1m21 0h2m284 0h3m5 0h1m1 0h1m11 0h4m2 0h1m2 0h1m1 0h2m1 0h5m1 0h2m3 0h3m17 0h1m27 0h1m-474 1h2m5 0h2m1 0h1m2 0h3m4 0h1m5 0h8m1 0h2m5 0h1m1 0h5m1 0h3m2 0h1m2 0h2m2 0h3m28 0h1m284 0h1m7 0h4m6 0h1m4 0h2m1 0h1m1 0h2m2 0h5m2 0h4m3 0h2m1 0h1m16 0h2m26 0h2m-498 1h1m24 0h3m2 0h3m1 0h3m3 0h1m3 0h2m4 0h3m5 0h2m1 0h1m6 0h2m1 0h1m3 0h1m2 0h1m9 0h2m8 0h1m5 0h2m3 0h3m2 0h1m1 0h1m289 0h1m1 0h1m1 0h2m2 0h4m4 0h4m2 0h2m8 0h1m1 0h2m8 0h1m1 0h1m3 0h4m6 0h2m8 0h2m-478 1h2m22 0h3m2 0h2m1 0h2m1 0h3m3 0h1m2 0h1m6 0h1m1 0h1m4 0h1m1 0h2m2 0h2m3 0h2m3 0h2m22 0h2m5 0h1m2 0h3m3 0h2m284 0h1m4 0h6m4 0h2m6 0h2m4 0h1m9 0h2m9 0h4m2 0h1m2 0h1m6 0h1m10 0h1m-466 1h2m2 0h2m10 0h1m5 0h1m1 0h1m6 0h1m1 0h1m9 0h4m2 0h1m11 0h2m1 0h1m3 0h1m1 0h1m19 0h2m1 0h1m4 0h2m269 0h1m8 0h2m7 0h2m1 0h3m2 0h1m1 0h3m5 0h2m5 0h1m11 0h1m3 0h8m19 0h1m-455 1h1m2 0h1m8 0h1m2 0h2m4 0h2m2 0h2m2 0h1m1 0h1m4 0h3m3 0h2m1 0h4m11 0h1m1 0h3m2 0h4m7 0h1m9 0h2m1 0h2m4 0h1m269 0h2m8 0h1m8 0h4m1 0h2m2 0h2m1 0h3m3 0h3m4 0h2m15 0h2m2 0h2m10 0h1m8 0h2m-464 1h1m9 0h1m1 0h1m2 0h1m5 0h2m1 0h1m4 0h3m5 0h2m13 0h2m1 0h2m1 0h1m1 0h1m8 0h1m6 0h1m1 0h1m5 0h1m3 0h2m4 0h2m1 0h1m22 0h1m265 0h2m5 0h3m9 0h1m2 0h2m3 0h3m12 0h1m2 0h1m2 0h2m2 0h2m1 0h1m8 0h2m2 0h1m-455 1h2m8 0h2m1 0h3m4 0h4m4 0h2m1 0h1m4 0h3m13 0h1m1 0h3m1 0h2m1 0h1m6 0h2m6 0h4m4 0h2m2 0h1m6 0h3m22 0h3m262 0h1m1 0h1m4 0h3m9 0h2m3 0h1m2 0h2m1 0h3m7 0h1m4 0h2m3 0h1m2 0h1m1 0h2m9 0h1m1 0h3m-458 1h1m6 0h1m7 0h2m3 0h4m1 0h1m1 0h1m2 0h1m2 0h1m4 0h2m13 0h2m3 0h1m6 0h2m1 0h1m2 0h2m5 0h1m1 0h2m14 0h2m1 0h2m1 0h2m10 0h1m10 0h1m254 0h2m4 0h1m5 0h1m3 0h1m5 0h1m8 0h4m5 0h1m3 0h2m1 0h1m2 0h1m1 0h2m1 0h1m2 0h2m12 0h3m3 0h1m-459 1h2m11 0h3m4 0h1m1 0h1m1 0h4m2 0h1m7 0h1m10 0h1m3 0h2m10 0h3m1 0h7m3 0h1m4 0h1m3 0h1m8 0h1m2 0h2m1 0h1m10 0h2m8 0h2m255 0h1m4 0h2m4 0h2m2 0h2m4 0h2m3 0h1m2 0h1m2 0h3m3 0h1m1 0h1m4 0h2m2 0h1m2 0h3m4 0h1m12 0h3m2 0h1m-457 1h1m9 0h1m1 0h3m1 0h1m1 0h6m1 0h1m4 0h3m1 0h1m2 0h1m9 0h1m15 0h1m8 0h2m8 0h1m2 0h3m2 0h1m1 0h2m5 0h1m16 0h2m266 0h2m24 0h1m2 0h4m7 0h1m8 0h1m5 0h3m2 0h2m3 0h1m1 0h4m2 0h1m11 0h1m-470 1h2m8 0h2m2 0h4m1 0h2m1 0h1m1 0h2m3 0h1m1 0h8m34 0h3m4 0h7m3 0h2m1 0h1m4 0h2m16 0h1m268 0h1m13 0h1m2 0h2m7 0h1m3 0h3m2 0h2m2 0h1m5 0h1m7 0h2m1 0h1m3 0h1m6 0h1m1 0h4m10 0h2m-468 1h2m1 0h1m3 0h1m2 0h2m1 0h2m1 0h2m3 0h3m4 0h1m29 0h1m12 0h1m2 0h1m1 0h1m1 0h1m16 0h1m16 0h2m260 0h2m7 0h3m15 0h1m11 0h2m3 0h3m2 0h3m1 0h1m2 0h2m5 0h1m1 0h4m11 0h1m4 0h1m2 0h4m-465 1h3m2 0h2m3 0h6m3 0h3m5 0h2m28 0h1m5 0h2m2 0h4m2 0h2m1 0h3m3 0h1m28 0h1m261 0h1m9 0h1m13 0h4m10 0h4m2 0h1m1 0h4m7 0h1m4 0h4m1 0h3m10 0h2m2 0h2m3 0h2m-465 1h2m12 0h2m7 0h4m1 0h2m8 0h1m19 0h3m1 0h1m4 0h1m1 0h1m1 0h1m2 0h3m6 0h1m1 0h1m2 0h1m23 0h2m236 0h2m32 0h3m3 0h3m6 0h3m1 0h2m5 0h1m1 0h3m1 0h1m1 0h2m7 0h1m1 0h2m6 0h2m1 0h1m1 0h2m10 0h2m3 0h3m2 0h1m-465 1h1m1 0h2m7 0h1m2 0h1m7 0h1m2 0h1m1 0h1m1 0h1m2 0h1m6 0h1m8 0h2m9 0h4m4 0h2m1 0h2m3 0h3m4 0h5m26 0h1m237 0h1m32 0h1m1 0h2m3 0h3m4 0h2m1 0h4m3 0h5m5 0h1m7 0h5m5 0h4m2 0h1m12 0h2m1 0h2m1 0h1m2 0h1m-463 1h1m1 0h1m8 0h2m3 0h1m9 0h4m1 0h2m10 0h1m1 0h1m1 0h2m7 0h3m3 0h1m6 0h5m1 0h1m12 0h2m11 0h1m268 0h2m18 0h2m2 0h2m1 0h5m9 0h1m2 0h3m3 0h2m2 0h3m1 0h2m5 0h2m17 0h1m-455 1h4m6 0h4m2 0h2m1 0h1m6 0h1m2 0h3m10 0h1m1 0h5m8 0h3m3 0h1m4 0h2m1 0h1m2 0h2m4 0h1m5 0h1m2 0h1m10 0h2m269 0h1m19 0h1m3 0h4m1 0h1m3 0h2m4 0h3m2 0h1m4 0h1m3 0h1m2 0h2m1 0h1m3 0h2m18 0h2m-458 1h2m2 0h2m2 0h1m5 0h1m1 0h2m7 0h2m1 0h1m3 0h2m2 0h1m2 0h1m4 0h2m4 0h2m9 0h1m5 0h1m3 0h6m3 0h1m1 0h3m9 0h3m277 0h1m9 0h2m11 0h2m1 0h3m1 0h3m1 0h1m3 0h1m2 0h1m2 0h1m8 0h7m6 0h2m2 0h2m-446 1h1m4 0h2m1 0h2m4 0h2m1 0h2m2 0h1m2 0h1m1 0h4m3 0h1m2 0h1m8 0h1m15 0h1m2 0h5m2 0h1m1 0h1m1 0h3m2 0h3m1 0h3m8 0h3m276 0h2m8 0h1m13 0h3m1 0h3m1 0h1m1 0h2m3 0h3m10 0h3m2 0h1m1 0h1m6 0h1m3 0h1m-443 1h1m2 0h1m6 0h8m3 0h3m2 0h1m2 0h1m1 0h1m4 0h3m2 0h1m1 0h2m7 0h1m5 0h1m5 0h4m2 0h1m2 0h1m1 0h1m8 0h1m1 0h1m6 0h2m287 0h2m2 0h2m8 0h3m3 0h1m2 0h2m2 0h3m10 0h1m1 0h4m2 0h1m6 0h3m1 0h2m7 0h1m7 0h1m2 0h1m-462 1h2m9 0h2m2 0h2m3 0h3m3 0h1m1 0h6m3 0h8m5 0h3m5 0h2m5 0h2m4 0h5m8 0h4m4 0h2m288 0h1m3 0h1m9 0h1m1 0h2m2 0h4m4 0h1m14 0h1m1 0h1m2 0h2m4 0h2m1 0h3m7 0h3m6 0h4m-456 1h3m4 0h1m3 0h1m2 0h1m8 0h1m19 0h2m8 0h2m9 0h3m8 0h1m8 0h4m2 0h1m295 0h2m4 0h2m4 0h1m5 0h2m4 0h2m3 0h3m8 0h5m1 0h2m4 0h2m2 0h1m1 0h2m-445 1h3m6 0h1m3 0h2m2 0h1m3 0h1m5 0h2m11 0h3m1 0h1m4 0h4m11 0h3m5 0h3m7 0h2m1 0h1m3 0h2m295 0h1m5 0h1m4 0h2m2 0h1m2 0h1m4 0h1m3 0h2m1 0h1m9 0h2m4 0h1m3 0h2m3 0h3m-447 1h2m3 0h1m1 0h1m3 0h3m1 0h1m1 0h3m1 0h6m3 0h1m1 0h1m17 0h2m1 0h1m1 0h1m12 0h2m4 0h3m3 0h3m1 0h1m321 0h1m5 0h2m1 0h1m1 0h3m2 0h2m18 0h2m-443 1h1m4 0h2m5 0h6m1 0h1m1 0h1m2 0h2m3 0h3m15 0h2m1 0h3m1 0h1m13 0h1m2 0h1m2 0h3m3 0h5m320 0h2m1 0h1m3 0h3m3 0h1m3 0h1m18 0h1m-447 1h2m6 0h3m1 0h2m5 0h5m3 0h1m1 0h1m3 0h1m18 0h3m3 0h3m1 0h3m13 0h3m16 0h3m292 0h2m1 0h1m15 0h1m3 0h1m10 0h1m11 0h2m2 0h4m-446 1h1m8 0h1m2 0h1m5 0h1m2 0h2m4 0h2m13 0h2m3 0h1m4 0h1m1 0h1m3 0h1m1 0h3m1 0h1m13 0h1m1 0h1m1 0h1m13 0h3m294 0h3m13 0h3m2 0h2m10 0h2m10 0h1m5 0h1m-473 1h1m39 0h1m6 0h3m2 0h2m9 0h3m4 0h1m3 0h2m12 0h2m2 0h1m1 0h5m1 0h1m5 0h1m1 0h2m2 0h3m5 0h2m288 0h2m15 0h1m4 0h2m2 0h1m1 0h1m15 0h2m2 0h1m3 0h2m-464 1h2m38 0h2m4 0h2m1 0h1m8 0h1m4 0h2m1 0h1m3 0h2m3 0h1m12 0h1m3 0h3m1 0h1m1 0h4m5 0h1m1 0h1m3 0h4m3 0h1m290 0h1m20 0h1m3 0h2m16 0h1m3 0h2m2 0h1m-413 1h2m1 0h2m1 0h4m10 0h1m3 0h5m5 0h1m4 0h3m2 0h2m2 0h1m6 0h2m8 0h2m285 0h1m17 0h2m8 0h2m10 0h2m12 0h2m7 0h1m4 0h2m2 0h2m1 0h1m-444 1h1m16 0h6m2 0h1m8 0h1m1 0h2m2 0h1m1 0h1m1 0h4m2 0h2m2 0h3m3 0h1m4 0h1m6 0h2m7 0h3m284 0h2m16 0h1m10 0h1m10 0h1m14 0h1m6 0h2m4 0h1m3 0h1m1 0h2m-472 1h1m20 0h1m4 0h1m2 0h1m2 0h2m3 0h1m1 0h6m6 0h1m1 0h3m8 0h1m1 0h3m1 0h2m5 0h1m5 0h1m1 0h1m2 0h1m1 0h1m3 0h4m11 0h1m1 0h1m282 0h1m23 0h2m17 0h1m4 0h1m41 0h1m15 0h2m-502 1h2m18 0h2m6 0h2m3 0h1m2 0h5m2 0h1m3 0h1m4 0h3m1 0h2m3 0h1m2 0h1m2 0h4m6 0h1m6 0h2m2 0h4m3 0h1m1 0h1m10 0h4m282 0h2m23 0h1m16 0h2m4 0h2m40 0h2m14 0h1m-469 1h2m1 0h1m2 0h3m4 0h1m8 0h1m1 0h2m4 0h1m10 0h5m2 0h1m1 0h2m4 0h1m9 0h2m324 0h2m7 0h1m15 0h1m2 0h1m15 0h2m-440 1h1m2 0h3m3 0h3m12 0h3m3 0h1m1 0h1m3 0h1m6 0h2m1 0h1m3 0h2m1 0h1m15 0h1m325 0h1m6 0h2m14 0h2m2 0h2m15 0h1m-444 1h2m7 0h1m3 0h3m2 0h4m1 0h1m2 0h7m6 0h1m1 0h3m1 0h1m1 0h1m2 0h1m7 0h2m1 0h2m19 0h2m5 0h1m4 0h2m266 0h2m37 0h1m3 0h1m6 0h2m7 0h2m-422 1h1m6 0h2m5 0h1m2 0h1m3 0h2m2 0h1m3 0h1m1 0h4m2 0h5m1 0h4m11 0h5m18 0h1m5 0h2m5 0h1m266 0h1m37 0h2m2 0h2m6 0h1m7 0h2m-422 1h1m1 0h2m5 0h3m7 0h1m7 0h9m2 0h1m3 0h3m11 0h3m3 0h1m5 0h2m17 0h1m291 0h1m-380 1h3m8 0h1m6 0h2m8 0h1m1 0h1m1 0h1m1 0h1m8 0h1m4 0h1m3 0h1m3 0h1m1 0h2m3 0h1m5 0h1m16 0h2m290 0h2m-347 1h1m2 0h1m13 0h1m1 0h1m2 0h2m341 0h3m4 0h1m28 0h2m-431 1h1m12 0h1m33 0h4m343 0h3m2 0h2m28 0h1m-435 1h2m26 0h1m14 0h1m12 0h2m340 0h2m-400 1h1m16 0h1m10 0h2m12 0h2m12 0h1m13 0h1m328 0h1m-430 1h2m44 0h2m6 0h2m4 0h3m31 0h2m7 0h1m294 0h2m21 0h1m-422 1h1m45 0h1m6 0h1m1 0h1m5 0h3m31 0h1m6 0h2m294 0h1m21 0h2m-394 1h2m20 0h3m11 0h2m4 0h1m4 0h1m15 0h1m4 0h2m8 0h2m16 0h2m-97 1h1m20 0h1m1 0h3m10 0h1m2 0h1m1 0h2m2 0h2m20 0h1m9 0h1m17 0h1m-73 1h3m10 0h2m13 0h2m36 0h1m-66 1h3m10 0h2m12 0h1m37 0h2m-81 1h1m375 0h1m3 0h1m-382 1h2m374 0h2m2 0h2m-378 1h2m14 0h2m2 0h2m16 0h2m378 0h2m-419 1h1m14 0h1m4 0h2m16 0h1m378 0h1m-412 1h1m13 0h3m8 0h2m20 0h1m-49 1h2m14 0h1m10 0h1m20 0h2m-74 1h2m-1 1h1m28 1h2m-2 1h1m-33 3h1m-1 1h2m54 1h1m5 0h2m-8 1h2m4 0h1m-45 1h1m-1 1h2" stroke="#c0161c" stroke-width="1" transform="translate(0,0.5)" shape-rendering="crispEdges"/><path d="M228 32h2m-2 1h2m0 1h6m-6 1h6m-5 1h3m-2 1h2m-20 15h2m4 0h2m-8 1h3m3 0h2m-16 1h2m2 0h2m4 0h5m1 0h2m2 0h2m356 0h2m-380 1h2m2 0h2m4 0h4m2 0h2m2 0h2m356 0h2m-376 1h6m1 0h3m2 0h2m364 0h2m-380 1h6m2 0h6m363 0h4m-385 1h2m10 0h4m352 0h18m-386 1h2m10 0h4m352 0h15m1 0h3m-19 1h2m4 0h14m-20 1h3m2 0h16m-20 1h21m2 0h2m-24 1h20m2 0h2m-30 1h4m2 0h20m-26 1h26m-22 1h24m-24 1h24m-28 1h4m1 0h23m-28 1h28m-26 1h23m-23 1h23m-23 1h20m2 0h2m-24 1h20m2 0h2m-28 1h2m5 0h16m-23 1h2m6 0h4m1 0h9m-16 1h11m-11 1h11m-3 1h4m-4 1h4m-12 1h6m-6 1h6m-10 1h2m-2 1h2m-16 5h2m-2 1h2m-12 3h2m-2 1h2m22 3h2m-2 1h2m-12 3h2m-2 1h2m-10 9h2m-2 1h2m-2 1h2m-2 1h2m-14 3h2m-2 1h2m0 1h2m-2 1h2m-16 3h2m-2 1h2m22 3h2m-2 1h2m-10 3h2m-2 1h2m-12 1h4m-4 1h4m-12 1h2m-2 1h2m6 1h2m-2 1h2m-10 1h2m-2 1h2m-44 1h2m14 0h2m4 0h2m30 0h2m-56 1h3m13 0h2m4 0h3m29 0h2m-54 1h8m4 0h2m1 0h3m2 0h4m2 0h4m4 0h2m-36 1h8m4 0h6m2 0h4m2 0h4m4 0h2m-50 1h2m4 0h2m8 0h2m4 0h2m3 0h5m2 0h7m13 0h2m2 0h2m10 0h2m-73 1h3m4 0h2m8 0h3m2 0h4m3 0h13m13 0h2m2 0h2m10 0h2m-356 1h2m278 0h6m2 0h4m4 0h30m6 0h4m6 0h2m14 0h2m-360 1h2m278 0h6m2 0h5m3 0h19m1 0h11m4 0h5m6 0h2m14 0h2m-402 1h2m16 0h2m34 0h2m264 0h3m4 0h9m2 0h17m1 0h19m1 0h2m2 0h5m3 0h2m6 0h2m12 0h2m-412 1h2m16 0h2m34 0h2m264 0h2m5 0h9m2 0h41m1 0h4m4 0h2m6 0h2m12 0h2m-422 1h2m4 0h2m20 0h2m10 0h2m294 0h58m28 0h2m-424 1h2m4 0h2m20 0h2m10 0h3m293 0h58m28 0h2m-444 1h2m18 0h2m2 0h6m2 0h2m2 0h2m4 0h2m10 0h2m6 0h2m2 0h2m10 0h2m6 0h2m258 0h2m2 0h2m2 0h2m2 0h46m4 0h10m4 0h8m6 0h2m-438 1h2m18 0h14m2 0h2m3 0h3m10 0h2m6 0h2m2 0h2m9 0h4m5 0h2m258 0h2m2 0h6m2 0h4m1 0h42m2 0h12m2 0h10m5 0h2m-436 1h2m4 0h2m4 0h6m1 0h5m2 0h6m2 0h2m2 0h4m4 0h2m6 0h2m18 0h8m263 0h3m1 0h65m1 0h6m7 0h2m2 0h2m-434 1h2m4 0h2m4 0h12m2 0h10m2 0h5m2 0h3m6 0h2m18 0h8m263 0h3m2 0h8m1 0h49m1 0h11m8 0h2m2 0h2m-430 1h3m3 0h2m1 0h35m18 0h2m2 0h2m258 0h2m12 0h4m2 0h7m1 0h64m18 0h2m4 0h2m-444 1h2m3 0h39m18 0h2m2 0h2m258 0h2m12 0h8m1 0h69m18 0h2m4 0h2m-460 1h2m4 0h2m4 0h2m6 0h7m1 0h26m1 0h3m1 0h3m294 0h2m1 0h77m6 0h2m4 0h2m-450 1h2m4 0h2m4 0h2m5 0h35m2 0h2m2 0h3m293 0h10m1 0h65m2 0h2m6 0h2m4 0h3m-433 1h36m2 0h2m2 0h6m6 0h2m6 0h2m276 0h4m1 0h60m5 0h2m4 0h2m14 0h2m-434 1h3m1 0h27m1 0h4m1 0h3m2 0h6m6 0h2m6 0h2m276 0h64m5 0h3m3 0h4m13 0h2m-444 1h2m4 0h2m2 0h19m1 0h20m3 0h3m4 0h2m8 0h3m27 0h2m244 0h2m2 0h66m2 0h4m2 0h6m-431 1h3m3 0h45m3 0h3m4 0h2m8 0h2m28 0h2m243 0h3m1 0h73m2 0h2m1 0h3m-452 1h2m18 0h4m2 0h46m2 0h6m2 0h2m16 0h4m10 0h2m244 0h4m2 0h86m-452 1h2m17 0h5m2 0h2m1 0h51m2 0h2m16 0h4m10 0h2m244 0h4m2 0h11m1 0h54m1 0h19m-440 1h2m4 0h2m6 0h49m9 0h6m266 0h2m8 0h2m1 0h75m4 0h4m2 0h2m4 0h2m14 0h2m-466 1h2m4 0h2m6 0h49m9 0h6m266 0h3m7 0h2m2 0h74m4 0h4m2 0h2m4 0h2m14 0h2m-460 1h2m2 0h2m4 0h50m4 0h2m26 0h2m244 0h4m4 0h4m2 0h68m1 0h5m2 0h3m17 0h2m-450 1h2m2 0h3m2 0h3m1 0h47m4 0h2m26 0h2m244 0h4m3 0h6m1 0h78m18 0h2m-446 1h6m2 0h36m1 0h10m6 0h3m12 0h2m6 0h2m252 0h88m4 0h6m-436 1h6m2 0h46m7 0h3m12 0h2m6 0h2m252 0h88m4 0h6m-436 1h4m1 0h49m2 0h2m2 0h3m3 0h2m12 0h2m10 0h2m6 0h2m242 0h82m8 0h2m2 0h2m-440 1h62m4 0h2m12 0h2m10 0h2m6 0h2m242 0h3m1 0h79m7 0h2m2 0h2m-446 1h2m5 0h51m2 0h3m1 0h4m282 0h4m1 0h79m10 0h2m-446 1h2m6 0h50m2 0h9m280 0h85m10 0h2m-454 1h2m16 0h50m2 0h2m2 0h4m10 0h2m2 0h2m262 0h4m1 0h8m1 0h64m2 0h2m6 0h2m8 0h2m-456 1h2m15 0h51m2 0h2m2 0h4m10 0h2m2 0h2m262 0h78m2 0h3m5 0h2m8 0h3m-451 1h2m8 0h56m3 0h3m2 0h2m262 0h2m12 0h5m2 0h75m4 0h2m10 0h2m-452 1h2m8 0h56m4 0h2m2 0h2m262 0h2m11 0h5m3 0h62m1 0h8m1 0h3m4 0h2m10 0h2m-458 1h2m10 0h2m2 0h5m1 0h46m1 0h3m28 0h2m10 0h2m242 0h84m12 0h5m-457 1h2m10 0h2m2 0h52m2 0h2m28 0h2m10 0h2m241 0h86m11 0h4m-442 1h13m1 0h40m2 0h2m4 0h2m26 0h2m248 0h3m2 0h71m1 0h7m1 0h5m4 0h2m3 0h3m6 0h2m-450 1h54m2 0h2m4 0h2m26 0h2m248 0h2m4 0h84m3 0h3m4 0h2m6 0h2m-445 1h52m3 0h2m4 0h2m279 0h75m2 0h2m6 0h2m12 0h2m-443 1h51m4 0h2m4 0h2m280 0h74m2 0h3m4 0h3m12 0h2m-456 1h2m8 0h51m41 0h2m246 0h2m4 0h3m1 0h8m1 0h58m1 0h12m6 0h4m-451 1h4m6 0h5m2 0h44m42 0h2m246 0h3m3 0h12m2 0h70m6 0h4m-454 1h4m2 0h2m2 0h7m3 0h4m1 0h39m2 0h2m4 0h2m250 0h2m30 0h2m2 0h4m2 0h5m3 0h65m1 0h2m2 0h2m12 0h2m-460 1h4m2 0h2m2 0h6m4 0h48m4 0h2m250 0h2m30 0h2m2 0h4m2 0h5m2 0h65m2 0h2m2 0h2m12 0h2m-457 1h3m7 0h3m2 0h48m2 0h2m2 0h2m18 0h2m6 0h2m252 0h2m1 0h3m2 0h72m11 0h3m-444 1h2m8 0h2m2 0h48m2 0h2m2 0h2m18 0h2m6 0h2m252 0h6m2 0h72m12 0h2m-430 1h40m1 0h5m2 0h2m2 0h4m276 0h2m2 0h6m2 0h72m2 0h2m2 0h2m2 0h4m-430 1h7m1 0h38m2 0h2m2 0h4m276 0h2m2 0h6m2 0h3m1 0h68m2 0h2m2 0h2m2 0h4m-432 1h46m293 0h3m4 0h67m-414 1h6m1 0h40m294 0h2m4 0h67m-421 1h2m4 0h2m2 0h44m6 0h2m288 0h2m3 0h60m4 0h3m4 0h2m6 0h2m-436 1h2m4 0h2m2 0h44m6 0h2m288 0h2m3 0h59m5 0h4m3 0h2m6 0h2m-426 1h2m3 0h43m4 0h2m6 0h2m282 0h70m6 0h2m2 0h2m-426 1h2m4 0h42m4 0h2m6 0h2m282 0h10m2 0h58m6 0h2m2 0h2m-442 1h4m2 0h2m2 0h2m11 0h35m5 0h3m294 0h6m1 0h3m2 0h48m2 0h7m-429 1h4m2 0h2m2 0h2m12 0h4m2 0h29m5 0h2m294 0h2m2 0h2m2 0h52m2 0h2m1 0h4m-441 1h2m16 0h2m12 0h2m2 0h4m2 0h21m1 0h2m1 0h5m304 0h2m2 0h66m6 0h2m12 0h2m-468 1h2m16 0h2m12 0h2m2 0h4m2 0h30m303 0h55m1 0h15m6 0h2m12 0h2m-448 1h2m11 0h7m2 0h15m1 0h10m6 0h4m10 0h2m284 0h6m1 0h29m1 0h10m3 0h13m27 0h2m-446 1h2m12 0h2m2 0h2m1 0h7m1 0h20m5 0h4m10 0h2m284 0h2m2 0h2m2 0h14m2 0h23m2 0h9m2 0h2m28 0h2m-454 1h2m14 0h2m4 0h2m4 0h23m1 0h2m2 0h2m14 0h2m288 0h2m6 0h2m2 0h10m2 0h34m14 0h2m-436 1h2m14 0h2m4 0h2m4 0h22m2 0h2m2 0h2m14 0h2m288 0h2m5 0h3m2 0h46m13 0h3m-422 1h2m6 0h2m6 0h8m1 0h10m319 0h8m1 0h4m2 0h10m2 0h12m4 0h9m12 0h2m-420 1h2m6 0h2m6 0h2m2 0h15m319 0h8m2 0h3m2 0h9m3 0h12m4 0h9m12 0h2m-448 1h2m6 0h2m8 0h2m4 0h2m8 0h4m2 0h2m2 0h2m5 0h4m2 0h7m2 0h2m34 0h2m248 0h2m14 0h2m4 0h2m4 0h2m5 0h3m4 0h12m2 0h25m-433 1h2m6 0h2m8 0h2m4 0h2m8 0h4m2 0h6m6 0h3m3 0h10m34 0h2m248 0h2m14 0h2m4 0h2m4 0h2m6 0h3m3 0h4m2 0h28m2 0h2m-432 1h2m22 0h2m15 0h5m6 0h4m2 0h10m12 0h2m302 0h2m3 0h3m3 0h3m2 0h4m1 0h12m6 0h5m2 0h2m-432 1h2m22 0h2m16 0h4m6 0h4m1 0h3m2 0h6m12 0h2m302 0h2m3 0h3m4 0h3m1 0h17m7 0h4m2 0h3m-395 1h2m13 0h6m4 0h3m314 0h2m4 0h5m6 0h3m1 0h21m2 0h3m5 0h2m6 0h2m-404 1h2m14 0h4m6 0h2m314 0h2m4 0h4m7 0h25m2 0h2m6 0h2m6 0h2m-400 1h2m4 0h2m2 0h5m339 0h7m2 0h16m-379 1h2m4 0h2m2 0h4m340 0h6m4 0h2m2 0h10m-390 1h2m16 0h2m4 0h2m332 0h2m11 0h3m2 0h2m8 0h4m2 0h2m2 0h4m4 0h2m4 0h2m-412 1h2m16 0h2m4 0h2m332 0h2m12 0h2m2 0h2m8 0h4m2 0h2m2 0h4m4 0h2m4 0h2m-46 1h2m2 0h3m1 0h3m7 0h2m10 0h3m1 0h2m-36 1h2m2 0h2m2 0h2m8 0h3m8 0h3m2 0h2m-392 1h2m8 0h2m353 0h3m8 0h2m2 0h2m2 0h4m-388 1h2m8 0h2m354 0h2m8 0h2m2 0h2m2 0h4m-380 1h2m16 0h2m326 0h2m20 0h2m8 0h2m-380 1h2m16 0h2m326 0h2m20 0h2m8 0h2m-34 1h2m14 0h2m8 0h2m-28 1h2m14 0h2m8 0h2m-372 1h2m366 0h2m-370 1h2m366 0h2m-24 1h4m-4 1h4m2 1h2m-2 1h2m-254 135h2m14 0h2m-18 1h2m13 0h3m-14 1h14m348 0h4m-366 1h14m348 0h5m-381 1h2m8 0h4m1 0h3m3 0h3m340 0h4m2 0h14m-384 1h2m8 0h9m3 0h2m340 0h20m-374 1h2m1 0h3m1 0h3m2 0h4m2 0h2m310 0h2m16 0h2m5 0h23m-378 1h2m2 0h13m1 0h2m310 0h2m16 0h2m5 0h23m-388 1h2m2 0h2m4 0h2m2 0h4m1 0h11m314 0h8m2 0h2m2 0h4m2 0h24m-388 1h2m2 0h2m4 0h8m2 0h10m314 0h40m2 0h2m-380 1h3m1 0h6m2 0h4m2 0h4m2 0h2m298 0h2m2 0h4m2 0h2m4 0h36m-376 1h2m2 0h2m2 0h2m1 0h5m2 0h4m2 0h2m298 0h2m2 0h4m2 0h3m2 0h3m1 0h33m-372 1h2m3 0h4m8 0h3m294 0h2m4 0h2m2 0h4m2 0h12m1 0h14m2 0h13m-372 1h2m4 0h2m9 0h3m294 0h2m4 0h2m2 0h4m1 0h13m2 0h4m2 0h6m4 0h8m2 0h2m-376 1h2m18 0h2m307 0h5m4 0h2m1 0h4m5 0h2m2 0h3m5 0h2m2 0h2m-368 1h2m18 0h2m308 0h4m4 0h2m2 0h2m6 0h2m2 0h2m6 0h2m2 0h2m-32 1h2m26 0h2m-30 1h2m26 0h2m-40 37h2m2 0h4m-8 1h2m2 0h4m-8 9h2m-2 1h2m-314 13h2m-2 1h2m286 1h2m-2 1h2m0 11h2m-2 1h2m-408 1h2m-2 1h2m12 1h2m-2 1h2m398 5h2m-2 1h2m-416 3h2m2 0h2m14 0h2m32 0h2m286 0h2m48 0h2m-394 1h2m2 0h2m14 0h2m32 0h2m286 0h2m48 0h2m-420 1h2m38 0h2m8 0h2m-52 1h2m38 0h2m8 0h2m14 1h2m330 0h2m8 0h2m24 0h2m-370 1h2m330 0h2m8 0h2m24 0h2m-428 1h2m8 0h2m34 0h2m4 0h2m12 0h2m330 0h2m58 0h2m-460 1h2m8 0h2m34 0h2m4 0h2m12 0h2m330 0h2m58 0h2m-448 1h4m2 0h4m12 0h2m32 0h2m-58 1h4m2 0h4m12 0h2m32 0h2m-56 1h2m2 0h4m4 0h4m4 0h2m2 0h2m4 0h2m2 0h2m2 0h2m8 0h2m4 0h2m300 0h2m12 0h2m6 0h2m14 0h2m4 0h2m-402 1h2m2 0h4m4 0h4m4 0h2m2 0h2m3 0h3m2 0h2m2 0h2m7 0h3m4 0h2m300 0h2m12 0h2m6 0h2m14 0h3m3 0h2m-418 1h2m12 0h2m4 0h3m3 0h2m8 0h4m1 0h6m15 0h6m319 0h3m4 0h4m2 0h2m10 0h2m18 0h2m-434 1h2m12 0h2m3 0h4m3 0h3m7 0h10m16 0h2m2 0h2m320 0h2m4 0h4m2 0h2m10 0h2m18 0h2m-452 1h2m12 0h2m12 0h4m4 0h2m1 0h9m10 0h6m2 0h6m334 0h2m5 0h3m6 0h2m34 0h2m-460 1h2m12 0h2m12 0h4m3 0h13m10 0h6m2 0h6m334 0h2m6 0h2m6 0h2m34 0h2m-438 1h2m4 0h4m2 0h2m1 0h9m4 0h2m2 0h4m11 0h3m4 0h2m2 0h2m333 0h3m4 0h2m6 0h2m10 0h4m4 0h2m-430 1h2m4 0h4m2 0h8m2 0h3m2 0h9m12 0h3m3 0h2m2 0h2m334 0h3m3 0h2m6 0h3m9 0h4m4 0h2m-430 1h2m11 0h3m1 0h3m2 0h14m2 0h8m3 0h5m320 0h2m2 0h2m2 0h2m11 0h3m2 0h4m4 0h4m-412 1h2m11 0h33m4 0h4m320 0h2m2 0h2m2 0h2m12 0h2m2 0h4m4 0h4m-410 1h2m2 0h20m1 0h7m2 0h4m2 0h3m15 0h2m2 0h4m4 0h2m298 0h2m6 0h6m6 0h2m14 0h4m-410 1h2m2 0h16m1 0h11m2 0h4m2 0h2m16 0h2m2 0h4m4 0h2m298 0h2m6 0h6m6 0h2m14 0h4m-432 1h2m6 0h2m16 0h8m2 0h8m1 0h9m6 0h3m5 0h2m320 0h4m8 0h2m54 0h2m-460 1h2m6 0h2m16 0h2m2 0h4m2 0h8m2 0h8m5 0h3m6 0h2m320 0h4m7 0h3m54 0h2m-442 1h6m7 0h10m6 0h7m4 0h2m2 0h4m10 0h2m4 0h2m316 0h3m1 0h4m22 0h2m8 0h2m-424 1h6m7 0h9m8 0h6m4 0h2m2 0h4m10 0h2m4 0h2m316 0h2m2 0h4m22 0h2m8 0h2m-424 1h3m5 0h2m2 0h2m4 0h4m2 0h4m2 0h8m2 0h2m304 0h2m40 0h2m4 0h2m6 0h2m12 0h2m-418 1h2m6 0h2m2 0h2m4 0h4m2 0h5m1 0h8m2 0h2m304 0h2m40 0h2m4 0h2m6 0h2m12 0h2m-434 1h2m12 0h2m4 0h2m8 0h2m9 0h6m3 0h4m2 0h4m4 0h2m26 0h2m290 0h2m38 0h2m2 0h2m18 0h2m-450 1h2m12 0h2m4 0h2m8 0h2m10 0h4m3 0h5m2 0h4m4 0h2m26 0h2m290 0h2m38 0h2m2 0h2m18 0h2m-440 1h2m2 0h2m2 0h6m2 0h4m2 0h11m5 0h5m4 0h9m4 0h2m330 0h2m16 0h2m-412 1h2m2 0h2m2 0h2m2 0h2m2 0h4m2 0h11m5 0h4m5 0h9m4 0h2m330 0h2m16 0h2m-395 1h3m4 0h15m7 0h12m2 0h2m14 0h2m280 0h2m40 0h2m26 0h2m-412 1h2m3 0h15m8 0h12m2 0h2m14 0h2m280 0h2m40 0h2m26 0h2m-428 1h2m6 0h2m4 0h3m3 0h7m1 0h6m6 0h2m7 0h3m2 0h2m4 0h2m320 0h2m-384 1h2m6 0h3m3 0h3m3 0h6m2 0h2m2 0h2m6 0h2m8 0h2m2 0h2m4 0h2m320 0h2m-378 1h2m2 0h8m10 0h2m2 0h8m6 0h2m12 0h2m4 0h2m-62 1h2m2 0h4m2 0h3m9 0h2m2 0h8m6 0h2m12 0h2m4 0h2m-80 1h2m10 0h4m12 0h8m4 0h2m8 0h2m12 0h2m2 0h4m330 0h2m32 0h2m8 0h2m-448 1h2m10 0h4m12 0h8m4 0h2m8 0h2m12 0h2m2 0h4m330 0h2m32 0h2m8 0h2m-417 1h7m8 0h5m27 0h2m314 0h2m46 0h2m-412 1h2m2 0h2m8 0h4m28 0h2m314 0h2m46 0h2m-442 1h2m16 0h2m10 0h2m4 0h2m4 0h2m14 0h2m-60 1h2m16 0h2m10 0h2m4 0h2m4 0h2m14 0h2m-26 1h2m10 0h2m-14 1h2m10 0h2m-44 1h2m28 0h2m11 0h3m8 0h2m-56 1h2m28 0h2m11 0h3m8 0h3m-57 1h2m26 0h2m12 0h2m12 0h2m-58 1h2m26 0h2m12 0h2m12 0h2m-46 1h2m12 0h2m28 0h2m-46 1h2m12 0h2m28 0h2m-4 1h2m8 0h2m-12 1h2m8 0h2m-80 1h2m42 0h2m52 0h2m-100 1h2m42 0h2m52 0h2m-44 1h2m-2 1h2m-38 1h2m14 0h2m28 0h2m-48 1h2m14 0h2m28 0h2" stroke="#fa0204" stroke-width="1" transform="translate(0,0.5)" shape-rendering="crispEdges"/><path d="M65 152h2m-2 1h2m-2 1h2m-2 1h2m-2 1h2m-2 1h2m-2 1h2m-2 1h2m350 0h2m-354 1h2m350 0h2m-354 1h2m350 0h2m-354 1h2m-2 1h2m350 0h2m-354 1h2m350 0h1m-353 1h2m350 0h2m-354 1h2m351 0h1m-354 1h2m350 0h2m-354 1h2m350 0h2m-354 1h2m351 0h1m-354 1h2m350 0h2m-354 1h2m351 0h1m-354 1h2m350 0h2m-354 1h2m-2 1h2m350 0h2m-354 1h2m350 0h2m-354 1h2m350 0h2m-354 1h2m350 0h2m-354 1h2m350 0h2m-354 1h2m350 0h1m-353 1h2m350 0h2m-354 1h2m350 0h1m-353 1h2m350 0h2m-354 1h2m350 0h2m-354 1h2m350 0h2m-354 1h2m350 0h2m-354 1h2m350 0h2m-354 1h2m350 0h2m-354 1h2m350 0h2m-354 1h2m350 0h2m-354 1h2m350 0h2m-354 1h2m350 0h2m-354 1h2m350 0h1m-353 1h2m350 0h2m-354 1h2m350 0h1m-353 1h2m350 0h1m-353 1h2m350 0h2m-354 1h2m350 0h2m-354 1h2m350 0h2m-354 1h2m351 0h1m-354 1h2m350 0h2m-354 1h2m350 0h2m-354 1h2m350 0h2m-354 1h2m351 0h1m-354 1h2m350 0h2m-354 1h2m350 0h2m-354 1h2m351 0h1m-354 1h2m350 0h2m-354 1h2m350 0h2m-354 1h2m350 0h2m-354 1h2m350 0h2m-354 1h2m350 0h2m-354 1h2m351 0h1m-354 1h2m350 0h1m-353 1h2m350 0h2m-354 1h2m350 0h2m-354 1h2m350 0h2m-354 1h2m351 0h1m-354 1h2m350 0h2m-354 1h2m350 0h2m-354 1h2m351 0h1m-354 1h2m350 0h2m-354 1h2m350 0h2m-354 1h2m350 0h2m-354 1h2m350 0h1m-353 1h2m350 0h2m-354 1h2m350 0h2m-354 1h2m-2 1h2m350 0h2m-354 1h2m350 0h2m-354 1h2m351 0h1m-354 1h2m-2 1h2m350 0h1m-353 1h2m350 0h1m-353 1h2m350 0h1m-353 1h2m350 0h2m-354 1h2m350 0h2m-354 1h2m350 0h2m-354 1h2m350 0h2m-354 1h2m-2 1h2m350 0h2m-354 1h2m351 0h1m-354 1h2m350 0h2m-354 1h2m351 0h1m-354 1h2m350 0h2m-354 1h2m350 0h2m-354 1h2m350 0h1m-353 1h2m350 0h2m-354 1h2m350 0h2m-354 1h2m350 0h2m-354 1h2m350 0h2m-354 1h2m350 0h2m-354 1h2m350 0h2m-354 1h2m350 0h2m-354 1h2m350 0h2m-354 1h2m-2 1h2m351 0h1m-354 1h2m350 0h2m-354 1h2m350 0h2m-354 1h2m350 0h2m-354 1h57m1 0h12m1 0h7m1 0h2m1 0h19m1 0h7m1 0h1m1 0h2m1 0h59m178 0h2m-354 1h20m1 0h2m1 0h10m1 0h14m1 0h2m1 0h5m1 0h4m1 0h59m1 0h1m1 0h5m1 0h5m1 0h13m1 0h22m179 0h1m-2 1h17m1 0h36m1 0h22m2 0h7m1 0h15m1 0h24m1 0h9m1 0h23m-161 1h30m1 0h6m1 0h14m1 0h3m1 0h2m1 0h18m1 0h10m1 0h6m1 0h32m1 0h31m-161 198h2m-2 1h2m-2 1h2m-354 1h2m350 0h2m-354 1h2m350 0h2m-354 1h2m350 0h2m-354 1h2m350 0h2m-354 1h2m350 0h2m-354 1h2m350 0h2m-354 1h2m350 0h2m-354 1h2m350 0h2m-354 1h2m350 0h2m-354 1h2m350 0h2m-354 1h2m350 0h2m-354 1h2m350 0h2m-354 1h2m350 0h2m-354 1h2m350 0h2m-354 1h2m350 0h2m-354 1h2m350 0h2m-354 1h2m350 0h2m-354 1h2m350 0h2m-354 1h2m350 0h2m-354 1h2m350 0h2m-354 1h2m350 0h2m-354 1h2m350 0h2m-354 1h2m350 0h2m-354 1h2m350 0h2m-354 1h2m350 0h2m-354 1h2m350 0h2m-354 1h2m350 0h2m-354 1h2m350 0h2m-354 1h2m350 0h2m-354 1h2m350 0h2m-354 1h2m350 0h2m-354 1h2m350 0h2m-354 1h2m350 0h2m-354 1h2m350 0h2m-354 1h2m350 0h2m-354 1h2m350 0h2m-354 1h2m350 0h2m-354 1h2m350 0h2m-354 1h2m350 0h2m-354 1h2m350 0h2m-354 1h2m350 0h2m-354 1h2m350 0h2m-354 1h2m350 0h2m-354 1h2m350 0h2m-354 1h2m350 0h2m-354 1h2m350 0h2m-354 1h2m350 0h2m-354 1h2m350 0h2m-354 1h2m350 0h2m-354 1h2m350 0h2m-354 1h2m350 0h2m-354 1h2m350 0h2m-354 1h2m350 0h2m-354 1h2m350 0h2m-354 1h2m350 0h2m-354 1h2m350 0h2m-354 1h2m350 0h2m-354 1h2m350 0h2m-354 1h2m350 0h2m-354 1h2m350 0h2m-354 1h2m350 0h2m-354 1h2m350 0h2m-354 1h2m350 0h2m-354 1h2m350 0h2m-354 1h2m350 0h2m-354 1h2m350 0h2m-354 1h2m350 0h2m-354 1h2m350 0h2m-354 1h2m350 0h2m-354 1h2m350 0h2m-354 1h2m350 0h2m-354 1h2m350 0h2m-354 1h2m350 0h2m-354 1h2m350 0h2m-354 1h2m350 0h2m-354 1h2m350 0h2m-354 1h2m350 0h2m-354 1h2m350 0h2m-354 1h2m350 0h2m-354 1h2m350 0h2m-354 1h2m350 0h2m-354 1h2m350 0h2m-354 1h2m350 0h2m-354 1h2m350 0h2m-354 1h2m350 0h2m-354 1h2m350 0h2m-354 1h2m350 0h2m-354 1h2m350 0h2m-354 1h2m350 0h2m-354 1h2m350 0h2m-354 1h2m350 0h2m-354 1h2m350 0h2m-354 1h2m350 0h2m-354 1h2m350 0h2m-354 1h2m350 0h2m-354 1h2m350 0h2m-354 1h2m350 0h2m-354 1h2m350 0h2m-354 1h2m350 0h2m-354 1h2m350 0h2m-354 1h2m350 0h2m-354 1h2m350 0h2m-354 1h2m350 0h2m-354 1h2m350 0h2m-354 1h2m350 0h2m-354 1h2m350 0h2m-354 1h2m350 0h2m-354 1h2m350 0h2m-354 1h2m350 0h2m-354 1h2m350 0h2m-354 1h2m350 0h2m-354 1h2m350 0h2m-354 1h2m350 0h2m-354 1h2m350 0h2m-354 1h2m350 0h2m-354 1h8m1 0h12m1 0h22m1 0h5m1 0h38m1 0h18m2 0h25m1 0h17m1 0h1m1 0h12m1 0h30m153 0h44m1 0h3m1 0h50m1 0h6m1 0h16m1 0h10m1 0h18m1 0h4m1 0h40m-551 1h27m1 0h25m2 0h48m2 0h12m1 0h30m1 0h8m1 0h33m1 0h3m1 0h1m1 0h1m153 0h31m1 0h9m1 0h2m1 0h23m1 0h22m1 0h18m1 0h32m1 0h9m1 0h2m1 0h24m1 0h4m1 0h12" stroke="#5a1616" stroke-width="1" transform="translate(0,0.5)" shape-rendering="crispEdges"/><g transform="translate(64.0,11.0)"><rect x="0.5" y="-0.5" width="251.0" height="251.0" fill="none" stroke="#000" stroke-width="1.3"/><path d="M0 124.5H251.0M132.5 0V251.0" stroke="#111" stroke-width="1" fill="none" shape-rendering="crispEdges"/><path d="M0 22.4H6.5" stroke="#111" stroke-width="1.8"/><path d="M0 78.2H6.5" stroke="#111" stroke-width="1.8"/><path d="M0 137.3H6.5" stroke="#111" stroke-width="1.8"/><path d="M0 196.6H6.5" stroke="#111" stroke-width="1.8"/><path d="M73.4 251.0V246.5" stroke="#111" stroke-width="1"/><path d="M136.4 251.0V246.5" stroke="#111" stroke-width="1"/><path d="M199.4 251.0V246.5" stroke="#111" stroke-width="1"/><text x="3.4" y="16.5" font-family='"Liberation Sans", sans-serif' font-size='11' fill='#111' letter-spacing='1.2'>Q1-UL(0.25%)</text><text x="249.0" y="16.5" text-anchor="end" font-family='"Liberation Sans", sans-serif' font-size='11' fill='#111' letter-spacing='1.2'>Q1-UR(2.08%)</text><text x="3.4" y="245.0" font-family='"Liberation Sans", sans-serif' font-size='11' fill='#111' letter-spacing='1.2'>Q1-LL(91.75%)</text><text x="249.0" y="245.0" text-anchor="end" font-family='"Liberation Sans", sans-serif' font-size='11' fill='#111' letter-spacing='1.2'>Q1-LR(5.93%)</text><g transform="translate(-5.7,26.799999999999997)"><text x="-34" y="0" font-family='"Liberation Sans", sans-serif' font-weight="bold" font-size="12">1</text><path d="M-26.6 -7.6L-18.6 0.2M-18.6 -7.6L-26.6 0.2" stroke="#111" stroke-width="1" fill="none"/><text x="-16" y="0" font-family='"Liberation Sans", sans-serif' font-weight="bold" font-size="12">10</text><text x="-3.4" y="-3.8" font-family='"Liberation Sans", sans-serif' font-weight="bold" font-size="7">5</text></g><g transform="translate(-5.7,82.60000000000001)"><text x="-34" y="0" font-family='"Liberation Sans", sans-serif' font-weight="bold" font-size="12">1</text><path d="M-26.6 -7.6L-18.6 0.2M-18.6 -7.6L-26.6 0.2" stroke="#111" stroke-width="1" fill="none"/><text x="-16" y="0" font-family='"Liberation Sans", sans-serif' font-weight="bold" font-size="12">10</text><text x="-3.4" y="-3.8" font-family='"Liberation Sans", sans-serif' font-weight="bold" font-size="7">4</text></g><g transform="translate(-5.7,141.70000000000002)"><text x="-34" y="0" font-family='"Liberation Sans", sans-serif' font-weight="bold" font-size="12">1</text><path d="M-26.6 -7.6L-18.6 0.2M-18.6 -7.6L-26.6 0.2" stroke="#111" stroke-width="1" fill="none"/><text x="-16" y="0" font-family='"Liberation Sans", sans-serif' font-weight="bold" font-size="12">10</text><text x="-3.4" y="-3.8" font-family='"Liberation Sans", sans-serif' font-weight="bold" font-size="7">3</text></g><g transform="translate(-5.7,201.0)"><text x="-34" y="0" font-family='"Liberation Sans", sans-serif' font-weight="bold" font-size="12">1</text><path d="M-26.6 -7.6L-18.6 0.2M-18.6 -7.6L-26.6 0.2" stroke="#111" stroke-width="1" fill="none"/><text x="-16" y="0" font-family='"Liberation Sans", sans-serif' font-weight="bold" font-size="12">10</text><text x="-3.4" y="-3.8" font-family='"Liberation Sans", sans-serif' font-weight="bold" font-size="7">2</text></g><g transform="translate(8.1,262.3) rotate(-90)"><text x="-34" y="0" font-family='"Liberation Sans", sans-serif' font-weight="bold" font-size="12">1</text><path d="M-26.6 -7.6L-18.6 0.2M-18.6 -7.6L-26.6 0.2" stroke="#111" stroke-width="1" fill="none"/><text x="-16" y="0" font-family='"Liberation Sans", sans-serif' font-weight="bold" font-size="12">10</text><text x="-3.4" y="-3.8" font-family='"Liberation Sans", sans-serif' font-weight="bold" font-size="7">2</text></g><g transform="translate(74.1,262.8) rotate(-90)"><text x="-34" y="0" font-family='"Liberation Sans", sans-serif' font-weight="bold" font-size="12">1</text><path d="M-26.6 -7.6L-18.6 0.2M-18.6 -7.6L-26.6 0.2" stroke="#111" stroke-width="1" fill="none"/><text x="-16" y="0" font-family='"Liberation Sans", sans-serif' font-weight="bold" font-size="12">10</text><text x="-3.4" y="-3.8" font-family='"Liberation Sans", sans-serif' font-weight="bold" font-size="7">3</text></g><g transform="translate(137.8,262.3) rotate(-90)"><text x="-34" y="0" font-family='"Liberation Sans", sans-serif' font-weight="bold" font-size="12">1</text><path d="M-26.6 -7.6L-18.6 0.2M-18.6 -7.6L-26.6 0.2" stroke="#111" stroke-width="1" fill="none"/><text x="-16" y="0" font-family='"Liberation Sans", sans-serif' font-weight="bold" font-size="12">10</text><text x="-3.4" y="-3.8" font-family='"Liberation Sans", sans-serif' font-weight="bold" font-size="7">4</text></g><g transform="translate(199.10000000000002,262.3) rotate(-90)"><text x="-34" y="0" font-family='"Liberation Sans", sans-serif' font-weight="bold" font-size="12">1</text><path d="M-26.6 -7.6L-18.6 0.2M-18.6 -7.6L-26.6 0.2" stroke="#111" stroke-width="1" fill="none"/><text x="-16" y="0" font-family='"Liberation Sans", sans-serif' font-weight="bold" font-size="12">10</text><text x="-3.4" y="-3.8" font-family='"Liberation Sans", sans-serif' font-weight="bold" font-size="7">5</text></g><g transform="translate(256.1,262.3) rotate(-90)"><text x="-34" y="0" font-family='"Liberation Sans", sans-serif' font-weight="bold" font-size="12">1</text><path d="M-26.6 -7.6L-18.6 0.2M-18.6 -7.6L-26.6 0.2" stroke="#111" stroke-width="1" fill="none"/><text x="-16" y="0" font-family='"Liberation Sans", sans-serif' font-weight="bold" font-size="12">10</text><text x="-3.4" y="-3.8" font-family='"Liberation Sans", sans-serif' font-weight="bold" font-size="7">6</text></g></g><g transform="translate(416.5,13.0)"><rect x="0.0" y="0.0" width="251.0" height="251.0" fill="none" stroke="#000" stroke-width="1.3"/><path d="M0 125.5H251.0M125.0 0V251.0" stroke="#111" stroke-width="1" fill="none" shape-rendering="crispEdges"/><path d="M0 22.4H6.5" stroke="#111" stroke-width="1.8"/><path d="M0 78.2H6.5" stroke="#111" stroke-width="1.8"/><path d="M0 137.3H6.5" stroke="#111" stroke-width="1.8"/><path d="M0 196.6H6.5" stroke="#111" stroke-width="1.8"/><path d="M73.4 251.0V246.5" stroke="#111" stroke-width="1"/><path d="M136.4 251.0V246.5" stroke="#111" stroke-width="1"/><path d="M199.4 251.0V246.5" stroke="#111" stroke-width="1"/><text x="3.4" y="16.5" font-family='"Liberation Sans", sans-serif' font-size='11' fill='#111' letter-spacing='1.2'>Q1-UL(1.23%)</text><text x="249.0" y="16.5" text-anchor="end" font-family='"Liberation Sans", sans-serif' font-size='11' fill='#111' letter-spacing='1.2'>Q1-UR(7.48%)</text><text x="3.4" y="245.0" font-family='"Liberation Sans", sans-serif' font-size='11' fill='#111' letter-spacing='1.2'>Q1-LL(84.34%)</text><text x="249.0" y="245.0" text-anchor="end" font-family='"Liberation Sans", sans-serif' font-size='11' fill='#111' letter-spacing='1.2'>Q1-LR(6.94%)</text><g transform="translate(-7.9,26.799999999999997)"><text x="-34" y="0" font-family='"Liberation Sans", sans-serif' font-weight="bold" font-size="12">1</text><path d="M-26.6 -7.6L-18.6 0.2M-18.6 -7.6L-26.6 0.2" stroke="#111" stroke-width="1" fill="none"/><text x="-16" y="0" font-family='"Liberation Sans", sans-serif' font-weight="bold" font-size="12">10</text><text x="-3.4" y="-3.8" font-family='"Liberation Sans", sans-serif' font-weight="bold" font-size="7">5</text></g><g transform="translate(-7.9,82.60000000000001)"><text x="-34" y="0" font-family='"Liberation Sans", sans-serif' font-weight="bold" font-size="12">1</text><path d="M-26.6 -7.6L-18.6 0.2M-18.6 -7.6L-26.6 0.2" stroke="#111" stroke-width="1" fill="none"/><text x="-16" y="0" font-family='"Liberation Sans", sans-serif' font-weight="bold" font-size="12">10</text><text x="-3.4" y="-3.8" font-family='"Liberation Sans", sans-serif' font-weight="bold" font-size="7">4</text></g><g transform="translate(-7.9,141.70000000000002)"><text x="-34" y="0" font-family='"Liberation Sans", sans-serif' font-weight="bold" font-size="12">1</text><path d="M-26.6 -7.6L-18.6 0.2M-18.6 -7.6L-26.6 0.2" stroke="#111" stroke-width="1" fill="none"/><text x="-16" y="0" font-family='"Liberation Sans", sans-serif' font-weight="bold" font-size="12">10</text><text x="-3.4" y="-3.8" font-family='"Liberation Sans", sans-serif' font-weight="bold" font-size="7">3</text></g><g transform="translate(-7.9,201.0)"><text x="-34" y="0" font-family='"Liberation Sans", sans-serif' font-weight="bold" font-size="12">1</text><path d="M-26.6 -7.6L-18.6 0.2M-18.6 -7.6L-26.6 0.2" stroke="#111" stroke-width="1" fill="none"/><text x="-16" y="0" font-family='"Liberation Sans", sans-serif' font-weight="bold" font-size="12">10</text><text x="-3.4" y="-3.8" font-family='"Liberation Sans", sans-serif' font-weight="bold" font-size="7">2</text></g><g transform="translate(7.6,260.2) rotate(-90)"><text x="-34" y="0" font-family='"Liberation Sans", sans-serif' font-weight="bold" font-size="12">1</text><path d="M-26.6 -7.6L-18.6 0.2M-18.6 -7.6L-26.6 0.2" stroke="#111" stroke-width="1" fill="none"/><text x="-16" y="0" font-family='"Liberation Sans", sans-serif' font-weight="bold" font-size="12">10</text><text x="-3.4" y="-3.8" font-family='"Liberation Sans", sans-serif' font-weight="bold" font-size="7">2</text></g><g transform="translate(79.1,253.0) rotate(-90)"><text x="-34" y="0" font-family='"Liberation Sans", sans-serif' font-weight="bold" font-size="12">1</text><path d="M-26.6 -7.6L-18.6 0.2M-18.6 -7.6L-26.6 0.2" stroke="#111" stroke-width="1" fill="none"/><text x="-16" y="0" font-family='"Liberation Sans", sans-serif' font-weight="bold" font-size="12">10</text><text x="-3.4" y="-3.8" font-family='"Liberation Sans", sans-serif' font-weight="bold" font-size="7">3</text></g><g transform="translate(142.70000000000002,252.0) rotate(-90)"><text x="-34" y="0" font-family='"Liberation Sans", sans-serif' font-weight="bold" font-size="12">1</text><path d="M-26.6 -7.6L-18.6 0.2M-18.6 -7.6L-26.6 0.2" stroke="#111" stroke-width="1" fill="none"/><text x="-16" y="0" font-family='"Liberation Sans", sans-serif' font-weight="bold" font-size="12">10</text><text x="-3.4" y="-3.8" font-family='"Liberation Sans", sans-serif' font-weight="bold" font-size="7">4</text></g><g transform="translate(204.0,253.0) rotate(-90)"><text x="-34" y="0" font-family='"Liberation Sans", sans-serif' font-weight="bold" font-size="12">1</text><path d="M-26.6 -7.6L-18.6 0.2M-18.6 -7.6L-26.6 0.2" stroke="#111" stroke-width="1" fill="none"/><text x="-16" y="0" font-family='"Liberation Sans", sans-serif' font-weight="bold" font-size="12">10</text><text x="-3.4" y="-3.8" font-family='"Liberation Sans", sans-serif' font-weight="bold" font-size="7">5</text></g><g transform="translate(254.10000000000002,260.2) rotate(-90)"><text x="-34" y="0" font-family='"Liberation Sans", sans-serif' font-weight="bold" font-size="12">1</text><path d="M-26.6 -7.6L-18.6 0.2M-18.6 -7.6L-26.6 0.2" stroke="#111" stroke-width="1" fill="none"/><text x="-16" y="0" font-family='"Liberation Sans", sans-serif' font-weight="bold" font-size="12">10</text><text x="-3.4" y="-3.8" font-family='"Liberation Sans", sans-serif' font-weight="bold" font-size="7">6</text></g></g><g transform="translate(64.5,330.5)"><rect x="0.0" y="0.0" width="251.0" height="251.0" fill="none" stroke="#000" stroke-width="1.3"/><path d="M0 123.0H251.0M117.0 0V251.0" stroke="#111" stroke-width="1" fill="none" shape-rendering="crispEdges"/><path d="M0 22.4H6.5" stroke="#111" stroke-width="1.8"/><path d="M0 78.2H6.5" stroke="#111" stroke-width="1.8"/><path d="M0 137.3H6.5" stroke="#111" stroke-width="1.8"/><path d="M0 196.6H6.5" stroke="#111" stroke-width="1.8"/><path d="M73.4 251.0V246.5" stroke="#111" stroke-width="1"/><path d="M136.4 251.0V246.5" stroke="#111" stroke-width="1"/><path d="M199.4 251.0V246.5" stroke="#111" stroke-width="1"/><text x="3.4" y="16.5" font-family='"Liberation Sans", sans-serif' font-size='11' fill='#111' letter-spacing='1.2'>Q1-UL(0.12%)</text><text x="249.0" y="16.5" text-anchor="end" font-family='"Liberation Sans", sans-serif' font-size='11' fill='#111' letter-spacing='1.2'>Q1-UR(8.46%)</text><text x="3.4" y="245.0" font-family='"Liberation Sans", sans-serif' font-size='11' fill='#111' letter-spacing='1.2'>Q1-LL(77.36%)</text><text x="249.0" y="245.0" text-anchor="end" font-family='"Liberation Sans", sans-serif' font-size='11' fill='#111' letter-spacing='1.2'>Q1-LR(14.06%)</text><g transform="translate(-5.7,26.799999999999997)"><text x="-34" y="0" font-family='"Liberation Sans", sans-serif' font-weight="bold" font-size="12">1</text><path d="M-26.6 -7.6L-18.6 0.2M-18.6 -7.6L-26.6 0.2" stroke="#111" stroke-width="1" fill="none"/><text x="-16" y="0" font-family='"Liberation Sans", sans-serif' font-weight="bold" font-size="12">10</text><text x="-3.4" y="-3.8" font-family='"Liberation Sans", sans-serif' font-weight="bold" font-size="7">5</text></g><g transform="translate(-5.7,82.60000000000001)"><text x="-34" y="0" font-family='"Liberation Sans", sans-serif' font-weight="bold" font-size="12">1</text><path d="M-26.6 -7.6L-18.6 0.2M-18.6 -7.6L-26.6 0.2" stroke="#111" stroke-width="1" fill="none"/><text x="-16" y="0" font-family='"Liberation Sans", sans-serif' font-weight="bold" font-size="12">10</text><text x="-3.4" y="-3.8" font-family='"Liberation Sans", sans-serif' font-weight="bold" font-size="7">4</text></g><g transform="translate(-5.7,141.70000000000002)"><text x="-34" y="0" font-family='"Liberation Sans", sans-serif' font-weight="bold" font-size="12">1</text><path d="M-26.6 -7.6L-18.6 0.2M-18.6 -7.6L-26.6 0.2" stroke="#111" stroke-width="1" fill="none"/><text x="-16" y="0" font-family='"Liberation Sans", sans-serif' font-weight="bold" font-size="12">10</text><text x="-3.4" y="-3.8" font-family='"Liberation Sans", sans-serif' font-weight="bold" font-size="7">3</text></g><g transform="translate(-5.7,201.0)"><text x="-34" y="0" font-family='"Liberation Sans", sans-serif' font-weight="bold" font-size="12">1</text><path d="M-26.6 -7.6L-18.6 0.2M-18.6 -7.6L-26.6 0.2" stroke="#111" stroke-width="1" fill="none"/><text x="-16" y="0" font-family='"Liberation Sans", sans-serif' font-weight="bold" font-size="12">10</text><text x="-3.4" y="-3.8" font-family='"Liberation Sans", sans-serif' font-weight="bold" font-size="7">2</text></g><g transform="translate(8.6,260.7) rotate(-90)"><text x="-34" y="0" font-family='"Liberation Sans", sans-serif' font-weight="bold" font-size="12">1</text><path d="M-26.6 -7.6L-18.6 0.2M-18.6 -7.6L-26.6 0.2" stroke="#111" stroke-width="1" fill="none"/><text x="-16" y="0" font-family='"Liberation Sans", sans-serif' font-weight="bold" font-size="12">10</text><text x="-3.4" y="-3.8" font-family='"Liberation Sans", sans-serif' font-weight="bold" font-size="7">2</text></g><g transform="translate(74.5,261.8) rotate(-90)"><text x="-34" y="0" font-family='"Liberation Sans", sans-serif' font-weight="bold" font-size="12">1</text><path d="M-26.6 -7.6L-18.6 0.2M-18.6 -7.6L-26.6 0.2" stroke="#111" stroke-width="1" fill="none"/><text x="-16" y="0" font-family='"Liberation Sans", sans-serif' font-weight="bold" font-size="12">10</text><text x="-3.4" y="-3.8" font-family='"Liberation Sans", sans-serif' font-weight="bold" font-size="7">3</text></g><g transform="translate(137.10000000000002,261.8) rotate(-90)"><text x="-34" y="0" font-family='"Liberation Sans", sans-serif' font-weight="bold" font-size="12">1</text><path d="M-26.6 -7.6L-18.6 0.2M-18.6 -7.6L-26.6 0.2" stroke="#111" stroke-width="1" fill="none"/><text x="-16" y="0" font-family='"Liberation Sans", sans-serif' font-weight="bold" font-size="12">10</text><text x="-3.4" y="-3.8" font-family='"Liberation Sans", sans-serif' font-weight="bold" font-size="7">4</text></g><g transform="translate(199.4,261.8) rotate(-90)"><text x="-34" y="0" font-family='"Liberation Sans", sans-serif' font-weight="bold" font-size="12">1</text><path d="M-26.6 -7.6L-18.6 0.2M-18.6 -7.6L-26.6 0.2" stroke="#111" stroke-width="1" fill="none"/><text x="-16" y="0" font-family='"Liberation Sans", sans-serif' font-weight="bold" font-size="12">10</text><text x="-3.4" y="-3.8" font-family='"Liberation Sans", sans-serif' font-weight="bold" font-size="7">5</text></g><g transform="translate(255.60000000000002,261.8) rotate(-90)"><text x="-34" y="0" font-family='"Liberation Sans", sans-serif' font-weight="bold" font-size="12">1</text><path d="M-26.6 -7.6L-18.6 0.2M-18.6 -7.6L-26.6 0.2" stroke="#111" stroke-width="1" fill="none"/><text x="-16" y="0" font-family='"Liberation Sans", sans-serif' font-weight="bold" font-size="12">10</text><text x="-3.4" y="-3.8" font-family='"Liberation Sans", sans-serif' font-weight="bold" font-size="7">6</text></g></g><g transform="translate(416.5,330.5)"><rect x="0.0" y="0.0" width="251.0" height="251.0" fill="none" stroke="#000" stroke-width="1.3"/><path d="M0 123.0H251.0M117.0 0V251.0" stroke="#111" stroke-width="1" fill="none" shape-rendering="crispEdges"/><path d="M0 22.4H6.5" stroke="#111" stroke-width="1.8"/><path d="M0 78.2H6.5" stroke="#111" stroke-width="1.8"/><path d="M0 137.3H6.5" stroke="#111" stroke-width="1.8"/><path d="M0 196.6H6.5" stroke="#111" stroke-width="1.8"/><path d="M73.4 251.0V246.5" stroke="#111" stroke-width="1"/><path d="M136.4 251.0V246.5" stroke="#111" stroke-width="1"/><path d="M199.4 251.0V246.5" stroke="#111" stroke-width="1"/><text x="3.4" y="16.5" font-family='"Liberation Sans", sans-serif' font-size='11' fill='#111' letter-spacing='1.2'>Q1-UL(0.25%)</text><text x="249.0" y="16.5" text-anchor="end" font-family='"Liberation Sans", sans-serif' font-size='11' fill='#111' letter-spacing='1.2'>Q1-UR(21.67%)</text><text x="3.4" y="245.0" font-family='"Liberation Sans", sans-serif' font-size='11' fill='#111' letter-spacing='1.2'>Q1-LL(63.52%)</text><text x="249.0" y="245.0" text-anchor="end" font-family='"Liberation Sans", sans-serif' font-size='11' fill='#111' letter-spacing='1.2'>Q1-LR(14.55%)</text><g transform="translate(-5.7,26.799999999999997)"><text x="-34" y="0" font-family='"Liberation Sans", sans-serif' font-weight="bold" font-size="12">1</text><path d="M-26.6 -7.6L-18.6 0.2M-18.6 -7.6L-26.6 0.2" stroke="#111" stroke-width="1" fill="none"/><text x="-16" y="0" font-family='"Liberation Sans", sans-serif' font-weight="bold" font-size="12">10</text><text x="-3.4" y="-3.8" font-family='"Liberation Sans", sans-serif' font-weight="bold" font-size="7">5</text></g><g transform="translate(-5.7,82.60000000000001)"><text x="-34" y="0" font-family='"Liberation Sans", sans-serif' font-weight="bold" font-size="12">1</text><path d="M-26.6 -7.6L-18.6 0.2M-18.6 -7.6L-26.6 0.2" stroke="#111" stroke-width="1" fill="none"/><text x="-16" y="0" font-family='"Liberation Sans", sans-serif' font-weight="bold" font-size="12">10</text><text x="-3.4" y="-3.8" font-family='"Liberation Sans", sans-serif' font-weight="bold" font-size="7">4</text></g><g transform="translate(-5.7,141.70000000000002)"><text x="-34" y="0" font-family='"Liberation Sans", sans-serif' font-weight="bold" font-size="12">1</text><path d="M-26.6 -7.6L-18.6 0.2M-18.6 -7.6L-26.6 0.2" stroke="#111" stroke-width="1" fill="none"/><text x="-16" y="0" font-family='"Liberation Sans", sans-serif' font-weight="bold" font-size="12">10</text><text x="-3.4" y="-3.8" font-family='"Liberation Sans", sans-serif' font-weight="bold" font-size="7">3</text></g><g transform="translate(-5.7,201.0)"><text x="-34" y="0" font-family='"Liberation Sans", sans-serif' font-weight="bold" font-size="12">1</text><path d="M-26.6 -7.6L-18.6 0.2M-18.6 -7.6L-26.6 0.2" stroke="#111" stroke-width="1" fill="none"/><text x="-16" y="0" font-family='"Liberation Sans", sans-serif' font-weight="bold" font-size="12">10</text><text x="-3.4" y="-3.8" font-family='"Liberation Sans", sans-serif' font-weight="bold" font-size="7">2</text></g><g transform="translate(8.6,259.7) rotate(-90)"><text x="-34" y="0" font-family='"Liberation Sans", sans-serif' font-weight="bold" font-size="12">1</text><path d="M-26.6 -7.6L-18.6 0.2M-18.6 -7.6L-26.6 0.2" stroke="#111" stroke-width="1" fill="none"/><text x="-16" y="0" font-family='"Liberation Sans", sans-serif' font-weight="bold" font-size="12">10</text><text x="-3.4" y="-3.8" font-family='"Liberation Sans", sans-serif' font-weight="bold" font-size="7">2</text></g><g transform="translate(74.6,261.8) rotate(-90)"><text x="-34" y="0" font-family='"Liberation Sans", sans-serif' font-weight="bold" font-size="12">1</text><path d="M-26.6 -7.6L-18.6 0.2M-18.6 -7.6L-26.6 0.2" stroke="#111" stroke-width="1" fill="none"/><text x="-16" y="0" font-family='"Liberation Sans", sans-serif' font-weight="bold" font-size="12">10</text><text x="-3.4" y="-3.8" font-family='"Liberation Sans", sans-serif' font-weight="bold" font-size="7">3</text></g><g transform="translate(137.60000000000002,260.7) rotate(-90)"><text x="-34" y="0" font-family='"Liberation Sans", sans-serif' font-weight="bold" font-size="12">1</text><path d="M-26.6 -7.6L-18.6 0.2M-18.6 -7.6L-26.6 0.2" stroke="#111" stroke-width="1" fill="none"/><text x="-16" y="0" font-family='"Liberation Sans", sans-serif' font-weight="bold" font-size="12">10</text><text x="-3.4" y="-3.8" font-family='"Liberation Sans", sans-serif' font-weight="bold" font-size="7">4</text></g><g transform="translate(200.0,261.8) rotate(-90)"><text x="-34" y="0" font-family='"Liberation Sans", sans-serif' font-weight="bold" font-size="12">1</text><path d="M-26.6 -7.6L-18.6 0.2M-18.6 -7.6L-26.6 0.2" stroke="#111" stroke-width="1" fill="none"/><text x="-16" y="0" font-family='"Liberation Sans", sans-serif' font-weight="bold" font-size="12">10</text><text x="-3.4" y="-3.8" font-family='"Liberation Sans", sans-serif' font-weight="bold" font-size="7">5</text></g><g transform="translate(255.70000000000002,260.7) rotate(-90)"><text x="-34" y="0" font-family='"Liberation Sans", sans-serif' font-weight="bold" font-size="12">1</text><path d="M-26.6 -7.6L-18.6 0.2M-18.6 -7.6L-26.6 0.2" stroke="#111" stroke-width="1" fill="none"/><text x="-16" y="0" font-family='"Liberation Sans", sans-serif' font-weight="bold" font-size="12">10</text><text x="-3.4" y="-3.8" font-family='"Liberation Sans", sans-serif' font-weight="bold" font-size="7">6</text></g></g><text transform="translate(97.3,979.5) rotate(-90)" font-family='"Liberation Serif", serif' font-weight="bold" font-size="20.6" letter-spacing="0.55">Percentage of splenic cells(%)</text><path d="M138.7 715V832.2M138.7 849V966" stroke="#000" stroke-width="2.6" fill="none"/><path d="M133.7 831.3H144.3" stroke="#000" stroke-width="2"/><path d="M138 716.0H144" stroke="#000" stroke-width="2"/><text x="136.5" y="722.6" text-anchor="end" font-family='"Liberation Sans", sans-serif' font-weight="bold" font-size="19">100</text><path d="M138 741.6H144" stroke="#000" stroke-width="2"/><text x="136.5" y="748.2" text-anchor="end" font-family='"Liberation Sans", sans-serif' font-weight="bold" font-size="19">90</text><path d="M138 767.2H144" stroke="#000" stroke-width="2"/><text x="136.5" y="773.8" text-anchor="end" font-family='"Liberation Sans", sans-serif' font-weight="bold" font-size="19">80</text><path d="M138 792.8H144" stroke="#000" stroke-width="2"/><text x="136.5" y="799.4" text-anchor="end" font-family='"Liberation Sans", sans-serif' font-weight="bold" font-size="19">70</text><path d="M138 818.4H144" stroke="#000" stroke-width="2"/><text x="136.5" y="825.0" text-anchor="end" font-family='"Liberation Sans", sans-serif' font-weight="bold" font-size="19">60</text><path d="M138 849.5H144" stroke="#000" stroke-width="2"/><text x="136.5" y="856.1" text-anchor="end" font-family='"Liberation Sans", sans-serif' font-weight="bold" font-size="19">40</text><path d="M138 878.2H144" stroke="#000" stroke-width="2"/><text x="136.5" y="884.9" text-anchor="end" font-family='"Liberation Sans", sans-serif' font-weight="bold" font-size="19">30</text><path d="M138 907.0H144" stroke="#000" stroke-width="2"/><text x="136.5" y="913.6" text-anchor="end" font-family='"Liberation Sans", sans-serif' font-weight="bold" font-size="19">20</text><path d="M138 935.8H144" stroke="#000" stroke-width="2"/><text x="136.5" y="942.4" text-anchor="end" font-family='"Liberation Sans", sans-serif' font-weight="bold" font-size="19">10</text><text x="136.5" y="971.1" text-anchor="end" font-family='"Liberation Sans", sans-serif' font-weight="bold" font-size="19">0</text><defs><pattern id="dots" patternUnits="userSpaceOnUse" width="4.9" height="10" patternTransform="translate(165.15,781.95)"><rect x="0" y="0" width="1.5" height="1.3" fill="#4a4a4a"/><rect x="2.45" y="5" width="1.5" height="1.3" fill="#4a4a4a"/></pattern><pattern id="dotsleg" patternUnits="userSpaceOnUse" width="5" height="4.7" patternTransform="translate(540.6,759.6)"><rect x="0" y="0" width="1.5" height="1.3" fill="#555"/></pattern><pattern id="hatch" patternUnits="userSpaceOnUse" width="10" height="10.114" patternTransform="rotate(34.0)"><rect x="-1" y="-0.261" width="12" height="2.1" fill="#000"/><rect x="-1" y="-10.376" width="12" height="2.1" fill="#000"/></pattern></defs><defs><pattern id="h0" patternUnits="userSpaceOnUse" width="10" height="9.903" patternTransform="translate(180.5,793.7) rotate(37)"><rect x="-1" y="0" width="12" height="1.25" fill="#000"/><rect x="-1" y="8.653" width="12" height="1.3" fill="#000"/></pattern><pattern id="h1" patternUnits="userSpaceOnUse" width="10" height="9.903" patternTransform="translate(272.2,904.8) rotate(37)"><rect x="-1" y="0" width="12" height="1.25" fill="#000"/><rect x="-1" y="8.653" width="12" height="1.3" fill="#000"/></pattern><pattern id="h2" patternUnits="userSpaceOnUse" width="10" height="9.903" patternTransform="translate(363.5,943.5) rotate(37)"><rect x="-1" y="0" width="12" height="1.25" fill="#000"/><rect x="-1" y="8.653" width="12" height="1.3" fill="#000"/></pattern><pattern id="h3" patternUnits="userSpaceOnUse" width="10" height="9.903" patternTransform="translate(456.0,939.5) rotate(37)"><rect x="-1" y="0" width="12" height="1.25" fill="#000"/><rect x="-1" y="8.653" width="12" height="1.3" fill="#000"/></pattern><pattern id="hleg" patternUnits="userSpaceOnUse" width="10" height="7.071" patternTransform="translate(543,791) rotate(45)"><rect x="-1" y="0" width="12" height="1.2" fill="#000"/><rect x="-1" y="5.871" width="12" height="1.2" fill="#000"/></pattern></defs><rect x="147.10" y="737.10" width="10.20" height="95.10" fill="#fff" stroke="none"/><path d="M147.10 832.2V738.10Q147.10 737.10 148.10 737.10H156.30Q157.30 737.10 157.30 738.10V832.2" fill="none" stroke="#000" stroke-width="2.2"/><rect x="147.10" y="848.8" width="10.20" height="115.70" fill="#fff" stroke="none"/><path d="M147.10 848.8V964.5M157.30 848.8V964.5" stroke="#000" stroke-width="2.2"/><rect x="147.90" y="733.70" width="8.6" height="4.6" rx="2.2" fill="#000"/><rect x="162.80" y="753.60" width="11.10" height="78.60" fill="url(#dots)" stroke="none"/><path d="M162.80 832.2V754.60Q162.80 753.60 163.80 753.60H172.90Q173.90 753.60 173.90 754.60V832.2" fill="none" stroke="#000" stroke-width="2.2"/><rect x="162.80" y="848.8" width="11.10" height="115.70" fill="url(#dots)" stroke="none"/><path d="M162.80 848.8V964.5M173.90 848.8V964.5" stroke="#000" stroke-width="2.2"/><rect x="164.05" y="750.20" width="8.6" height="4.6" rx="2.2" fill="#000"/><text x="168.65" y="756.20" text-anchor="middle" font-family='"Liberation Sans", sans-serif' font-size="22">**</text><rect x="179.00" y="776.00" width="10.70" height="56.20" fill="url(#h0)" stroke="none"/><path d="M179.00 832.2V777.00Q179.00 776.00 180.00 776.00H188.70Q189.70 776.00 189.70 777.00V832.2" fill="none" stroke="#000" stroke-width="3.6"/><rect x="179.00" y="848.8" width="10.70" height="115.70" fill="url(#h0)" stroke="none"/><path d="M179.00 848.8V964.5M189.70 848.8V964.5" stroke="#000" stroke-width="3.6"/><rect x="180.05" y="772.60" width="8.6" height="4.6" rx="2.2" fill="#000"/><text x="184.65" y="778.60" text-anchor="middle" font-family='"Liberation Sans", sans-serif' font-size="22">**</text><rect x="195.40" y="805.10" width="10.80" height="27.10" fill="#666" stroke="none"/><path d="M195.40 832.2V806.10Q195.40 805.10 196.40 805.10H205.20Q206.20 805.10 206.20 806.10V832.2" fill="none" stroke="#000" stroke-width="3.4"/><rect x="195.40" y="848.8" width="10.80" height="115.70" fill="#666" stroke="none"/><path d="M195.40 848.8V964.5M206.20 848.8V964.5" stroke="#000" stroke-width="3.4"/><rect x="196.50" y="801.70" width="8.6" height="4.6" rx="2.2" fill="#000"/><text x="201.10" y="807.70" text-anchor="middle" font-family='"Liberation Sans", sans-serif' font-size="22">**</text><rect x="238.50" y="942.70" width="10.40" height="21.80" fill="#fff" stroke="none"/><path d="M238.50 964.5V943.70Q238.50 942.70 239.50 942.70H247.90Q248.90 942.70 248.90 943.70V964.5" fill="none" stroke="#000" stroke-width="2.4"/><rect x="239.40" y="939.30" width="8.6" height="4.6" rx="2.2" fill="#000"/><rect x="254.90" y="925.70" width="10.00" height="38.80" fill="url(#dots)" stroke="none"/><path d="M254.90 964.5V926.70Q254.90 925.70 255.90 925.70H263.90Q264.90 925.70 264.90 926.70V964.5" fill="none" stroke="#000" stroke-width="2.4"/><rect x="255.60" y="922.30" width="8.6" height="4.6" rx="2.2" fill="#000"/><text x="260.20" y="928.30" text-anchor="middle" font-family='"Liberation Sans", sans-serif' font-size="22">**</text><rect x="270.50" y="898.40" width="11.00" height="66.10" fill="url(#h1)" stroke="none"/><path d="M270.50 964.5V899.40Q270.50 898.40 271.50 898.40H280.50Q281.50 898.40 281.50 899.40V964.5" fill="none" stroke="#000" stroke-width="3.6"/><rect x="271.70" y="895.00" width="8.6" height="4.6" rx="2.2" fill="#000"/><text x="276.30" y="901.00" text-anchor="middle" font-family='"Liberation Sans", sans-serif' font-size="22">**</text><rect x="287.05" y="862.10" width="10.60" height="102.40" fill="#666" stroke="none"/><path d="M287.05 964.5V863.10Q287.05 862.10 288.05 862.10H296.65Q297.65 862.10 297.65 863.10V964.5" fill="none" stroke="#000" stroke-width="3.3"/><rect x="288.05" y="858.70" width="8.6" height="4.6" rx="2.2" fill="#000"/><text x="292.65" y="864.70" text-anchor="middle" font-family='"Liberation Sans", sans-serif' font-size="22">**</text><rect x="329.90" y="949.30" width="10.50" height="15.20" fill="#fff" stroke="none"/><path d="M329.90 964.5V950.30Q329.90 949.30 330.90 949.30H339.40Q340.40 949.30 340.40 950.30V964.5" fill="none" stroke="#000" stroke-width="2.6"/><rect x="330.85" y="945.90" width="8.6" height="4.6" rx="2.2" fill="#000"/><rect x="345.70" y="944.40" width="10.60" height="20.10" fill="url(#dots)" stroke="none"/><path d="M345.70 964.5V945.40Q345.70 944.40 346.70 944.40H355.30Q356.30 944.40 356.30 945.40V964.5" fill="none" stroke="#000" stroke-width="2.6"/><rect x="346.70" y="941.00" width="8.6" height="4.6" rx="2.2" fill="#000"/><text x="351.30" y="947.00" text-anchor="middle" font-family='"Liberation Sans", sans-serif' font-size="22">*</text><rect x="362.10" y="941.10" width="10.10" height="23.40" fill="url(#h2)" stroke="none"/><path d="M362.10 964.5V942.10Q362.10 941.10 363.10 941.10H371.20Q372.20 941.10 372.20 942.10V964.5" fill="none" stroke="#000" stroke-width="3.6"/><rect x="362.85" y="937.70" width="8.6" height="4.6" rx="2.2" fill="#000"/><text x="367.45" y="943.70" text-anchor="middle" font-family='"Liberation Sans", sans-serif' font-size="22">**</text><rect x="378.95" y="904.70" width="10.40" height="59.80" fill="#666" stroke="none"/><path d="M378.95 964.5V905.70Q378.95 904.70 379.95 904.70H388.35Q389.35 904.70 389.35 905.70V964.5" fill="none" stroke="#000" stroke-width="3.3"/><rect x="379.85" y="901.30" width="8.6" height="4.6" rx="2.2" fill="#000"/><text x="384.45" y="907.30" text-anchor="middle" font-family='"Liberation Sans", sans-serif' font-size="22">**</text><rect x="421.30" y="960.20" width="10.60" height="4.30" fill="#fff" stroke="none"/><path d="M421.30 964.5V961.20Q421.30 960.20 422.30 960.20H430.90Q431.90 960.20 431.90 961.20V964.5" fill="none" stroke="#000" stroke-width="2.6"/><rect x="422.30" y="956.80" width="8.6" height="4.6" rx="2.2" fill="#000"/><rect x="437.70" y="946.50" width="10.60" height="18.00" fill="url(#dots)" stroke="none"/><path d="M437.70 964.5V947.50Q437.70 946.50 438.70 946.50H447.30Q448.30 946.50 448.30 947.50V964.5" fill="none" stroke="#000" stroke-width="2.6"/><rect x="438.70" y="943.10" width="8.6" height="4.6" rx="2.2" fill="#000"/><text x="443.30" y="949.10" text-anchor="middle" font-family='"Liberation Sans", sans-serif' font-size="22">**</text><rect x="453.70" y="925.00" width="10.40" height="39.50" fill="url(#h3)" stroke="none"/><path d="M453.70 964.5V926.00Q453.70 925.00 454.70 925.00H463.10Q464.10 925.00 464.10 926.00V964.5" fill="none" stroke="#000" stroke-width="3.8"/><rect x="454.60" y="921.60" width="8.6" height="4.6" rx="2.2" fill="#000"/><text x="459.20" y="927.60" text-anchor="middle" font-family='"Liberation Sans", sans-serif' font-size="22">**</text><rect x="469.40" y="925.00" width="10.80" height="39.50" fill="#666" stroke="none"/><path d="M469.40 964.5V926.00Q469.40 925.00 470.40 925.00H479.20Q480.20 925.00 480.20 926.00V964.5" fill="none" stroke="#000" stroke-width="3.4"/><rect x="470.50" y="921.60" width="8.6" height="4.6" rx="2.2" fill="#000"/><text x="475.10" y="927.60" text-anchor="middle" font-family='"Liberation Sans", sans-serif' font-size="22">**</text><path d="M137.4 964.9H511.5" stroke="#000" stroke-width="2.9"/><text transform="translate(190,985) rotate(-45)" text-anchor="end" font-family='"Liberation Serif", serif' font-weight="bold" font-size="17">Normal</text><text transform="translate(282,985) rotate(-45)" text-anchor="end" font-family='"Liberation Serif", serif' font-weight="bold" font-size="17">Total apoptosis</text><text transform="translate(372,985) rotate(-45)" text-anchor="end" font-family='"Liberation Serif", serif' font-weight="bold" font-size="17">Early apoptosis</text><text transform="translate(464,985) rotate(-45)" text-anchor="end" font-family='"Liberation Serif", serif' font-weight="bold" font-size="17">Late apoptosis</text><rect x="536.50" y="726.50" width="26.50" height="14.00" rx="1" fill="#fff" stroke="#000" stroke-width="2.0"/><text x="577.5" y="740" font-family='"Liberation Serif", serif' font-size="20.5">Control</text><rect x="536.50" y="755.00" width="26.50" height="14.00" rx="1" fill="url(#dotsleg)" stroke="#000" stroke-width="2.0"/><text x="577.5" y="768.5" font-family='"Liberation Serif", serif' font-size="20.5">48h</text><rect x="537.30" y="784.30" width="24.90" height="12.40" rx="1" fill="url(#hleg)" stroke="#000" stroke-width="3.6"/><text x="577.5" y="797" font-family='"Liberation Serif", serif' font-size="20.5">72h</text><rect x="537.30" y="812.80" width="24.90" height="12.40" rx="1" fill="#666" stroke="#000" stroke-width="3.6"/><text x="577.5" y="825.5" font-family='"Liberation Serif", serif' font-size="20.5">96h</text></svg></body></html>
